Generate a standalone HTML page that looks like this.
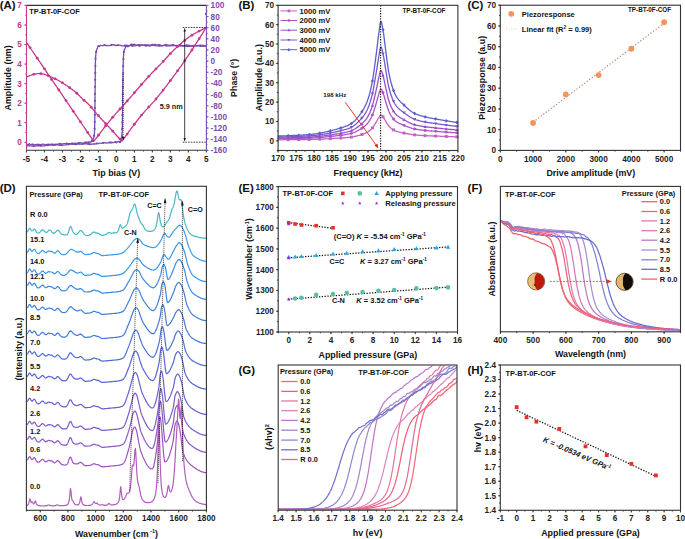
<!DOCTYPE html>
<html><head><meta charset="utf-8"><style>
html,body{margin:0;padding:0;background:#fff;width:685px;height:539px;overflow:hidden}
svg{display:block}
text{font-family:"Liberation Sans", sans-serif}
</style></head><body>
<svg width="685" height="539" viewBox="0 0 685 539" font-family="Liberation Sans, sans-serif">
<rect width="685" height="539" fill="#fff"/>
<polyline points="27,145.2 27.6,144.5 28.4,144.4 29.3,143.7 30.3,144.6 31.4,144.5 32.6,144.4 33.8,144.7 35,144.8 36.3,144.3 37.6,144.3 38.8,144.4 40,144.8 41.2,144.8 42.4,144.1 43.6,144.1 44.9,144.8 46.1,145 47.4,144.4 48.6,144.2 49.9,144.7 51.2,144.2 52.5,144.5 53.7,144.8 55,144.4 56.3,144.2 57.6,144.4 58.9,143.8 60.2,143.9 61.5,143.8 62.8,143.8 64.1,143.7 65.4,143.7 66.6,143.6 67.8,143.7 68.9,143.7 70,143.7 71,144 72,143 72.9,143.9 73.9,143.3 74.7,143 75.6,143.3 76.4,143.3 77.1,143.6 77.9,142.9 78.6,143.3 79.3,143.2 80,142.5 80.6,142.6 81.3,143.2 81.8,143.2 82.4,143.3 82.9,143.1 83.4,143 83.8,142.9 84.3,143.2 84.7,142.4 85.2,142.6 85.6,142.8 86,142 86.4,143 86.8,142.2 87.2,142.4 87.5,143.2 87.9,142.1 88.2,142.1 88.5,142.8 88.8,141.8 89.1,142 89.4,142.2 89.7,142.1 90,142.1 90.3,141.9 90.5,142.2 90.8,142 91,141.8 91.2,141.2 91.5,141.1 91.7,140.6 91.9,141.3 92.1,140.3 92.3,141.1 92.4,141.3 92.6,140 92.8,139.9 92.9,140 93.1,139.8 93.2,139.6 93.3,139.3 93.4,139.1 93.5,138.8 93.6,138.5 93.7,138.1 93.8,137.6 93.9,137.1 94,136.5 94.1,135.9 94.2,135.4 94.2,134.9 94.3,134.5 94.4,133.9 94.4,133.3 94.5,132.6 94.5,131.6 94.6,130.4 94.6,128.9 94.7,127.2 94.7,125 94.7,122.4 94.8,119.2 94.8,115.6 94.9,111.7 94.9,107.6 95,103.3 95,99 95,94.7 95.1,90.6 95.1,86.7 95.2,83.1 95.2,80 95.2,77.2 95.3,74.6 95.3,72.1 95.3,69.8 95.3,67.7 95.4,65.7 95.4,63.8 95.4,62 95.5,60.4 95.5,58.8 95.6,57.4 95.7,56 95.8,54.8 95.9,53.7 96,52.8 96.1,52 96.2,51.3 96.4,50.8 96.5,50.3 96.6,49.8 96.8,49.4 97,49 97.2,48.6 97.4,48.2 97.6,47.8 97.7,47.4 97.8,47.1 97.9,46.7 98,46.9 98.1,46.1 98.3,46.2 98.6,45.9 99,45.9 99.5,46.3 100.2,45.4 101,45.6 102,45.6 103.1,45.7 104.4,44.9 105.8,45.7 107.3,45.4 108.8,45.6 110.5,45.3 112.3,44.7 114.1,45 116,45.5 118,45.2 120,45.2 122.1,45.8 124.4,45.9 126.7,45.1 129.2,45.8 131.7,44.4 134.3,44.3 136.9,45.3 139.6,44.9 142.2,45.2 144.9,45.2 147.5,45 150,45.2 152.5,45.1 155,44.5 157.6,45.1 160.1,45.2 162.7,45.8 165.2,44.8 167.8,45.2 170.3,45.1 172.8,45.2 175.2,45.9 177.6,45.5 180,45.2 182.4,45.5 184.9,45.7 187.4,45.2 189.9,45.5 192.4,46.1 194.9,45.9 197.2,45.6 199.4,45.5 201.4,45.7 203.2,45.2 204.8,46.1 206,45.9" fill="none" stroke="#7B4BAE" stroke-width="1.3" stroke-linejoin="round" stroke-linecap="round" />
<circle cx="33.01" cy="144.55" r="1.1" fill="#7B4BAE"/>
<circle cx="39.82" cy="144.78" r="1.1" fill="#7B4BAE"/>
<circle cx="46.43" cy="144.87" r="1.1" fill="#7B4BAE"/>
<circle cx="53.02" cy="144.64" r="1.1" fill="#7B4BAE"/>
<circle cx="59.81" cy="143.92" r="1.1" fill="#7B4BAE"/>
<circle cx="66.78" cy="143.63" r="1.1" fill="#7B4BAE"/>
<circle cx="72.87" cy="143.85" r="1.1" fill="#7B4BAE"/>
<circle cx="79.03" cy="143.21" r="1.1" fill="#7B4BAE"/>
<circle cx="84.85" cy="142.5" r="1.1" fill="#7B4BAE"/>
<circle cx="88.52" cy="142.77" r="1.1" fill="#7B4BAE"/>
<circle cx="92.07" cy="140.35" r="1.1" fill="#7B4BAE"/>
<circle cx="94.1" cy="135.78" r="1.1" fill="#7B4BAE"/>
<circle cx="94.61" cy="128.8" r="1.1" fill="#7B4BAE"/>
<circle cx="94.76" cy="121.8" r="1.1" fill="#7B4BAE"/>
<circle cx="94.85" cy="114.8" r="1.1" fill="#7B4BAE"/>
<circle cx="94.92" cy="107.81" r="1.1" fill="#7B4BAE"/>
<circle cx="94.98" cy="100.81" r="1.1" fill="#7B4BAE"/>
<circle cx="95.05" cy="93.81" r="1.1" fill="#7B4BAE"/>
<circle cx="95.12" cy="86.81" r="1.1" fill="#7B4BAE"/>
<circle cx="95.2" cy="79.81" r="1.1" fill="#7B4BAE"/>
<circle cx="95.29" cy="72.81" r="1.1" fill="#7B4BAE"/>
<circle cx="95.37" cy="65.81" r="1.1" fill="#7B4BAE"/>
<circle cx="95.55" cy="58.81" r="1.1" fill="#7B4BAE"/>
<circle cx="96.14" cy="51.84" r="1.1" fill="#7B4BAE"/>
<circle cx="98.51" cy="46.01" r="1.1" fill="#7B4BAE"/>
<circle cx="104.56" cy="44.99" r="1.1" fill="#7B4BAE"/>
<circle cx="111.28" cy="45.01" r="1.1" fill="#7B4BAE"/>
<circle cx="118.1" cy="45.23" r="1.1" fill="#7B4BAE"/>
<circle cx="124.97" cy="45.71" r="1.1" fill="#7B4BAE"/>
<circle cx="131.46" cy="44.52" r="1.1" fill="#7B4BAE"/>
<circle cx="138.23" cy="45.14" r="1.1" fill="#7B4BAE"/>
<circle cx="145.19" cy="45.15" r="1.1" fill="#7B4BAE"/>
<circle cx="152.16" cy="45.09" r="1.1" fill="#7B4BAE"/>
<circle cx="159.02" cy="45.15" r="1.1" fill="#7B4BAE"/>
<circle cx="165.75" cy="44.86" r="1.1" fill="#7B4BAE"/>
<circle cx="172.72" cy="45.24" r="1.1" fill="#7B4BAE"/>
<circle cx="179.58" cy="45.28" r="1.1" fill="#7B4BAE"/>
<circle cx="186.51" cy="45.36" r="1.1" fill="#7B4BAE"/>
<circle cx="193.38" cy="46.05" r="1.1" fill="#7B4BAE"/>
<circle cx="200.35" cy="45.6" r="1.1" fill="#7B4BAE"/>
<polyline points="27,146.2 28.6,145.7 30.6,145.8 32.9,146.2 35.5,146 38.3,145.6 41.3,145.9 44.4,145.9 47.6,145.2 50.8,145.2 54,144.9 57.1,144.7 60,145.3 62.9,145.1 65.9,144.9 69.1,144.2 72.3,144.1 75.5,144.3 78.6,144 81.7,144.1 84.7,143.6 87.6,144 90.3,144.3 92.8,144 95,144 97,143.3 98.7,143.5 100.3,143 101.7,143.4 103,142.9 104.2,142.8 105.3,142.7 106.3,143.1 107.2,142.9 108.1,142.8 109.1,142.3 110,142.6 110.9,142 111.8,143 112.6,142.4 113.4,142.5 114.1,142.3 114.8,141.8 115.4,141.8 116,142.2 116.5,142.7 117,141.8 117.5,141.8 118,142 118.4,141.4 118.8,141.3 119.1,141.8 119.4,141.9 119.6,141.8 119.8,142.5 120,141.8 120.2,141.9 120.3,142.2 120.5,142 120.6,140.5 120.8,140.5 121,140.6 121.1,139.8 121.3,139.5 121.4,139.2 121.5,138.8 121.6,138.3 121.7,137.7 121.8,136.8 121.9,135.6 122,134.2 122.1,132.3 122.2,130 122.3,127.1 122.4,123.7 122.4,119.7 122.5,115.3 122.5,110.7 122.6,105.9 122.6,101.1 122.7,96.3 122.7,91.7 122.8,87.3 122.8,83.4 122.9,80 123,77 123,74.2 123.1,71.6 123.1,69.1 123.1,66.9 123.2,64.8 123.2,62.9 123.3,61.1 123.4,59.4 123.4,57.8 123.5,56.4 123.6,55 123.7,53.8 123.8,52.7 123.9,51.9 124,51.1 124.1,50.6 124.3,50.1 124.4,49.7 124.5,49.3 124.7,49 124.9,48.7 125.1,48.4 125.3,48 125.5,47.7 125.6,47.4 125.7,47.1 125.7,46.4 125.8,46.4 125.9,46.1 126.1,46 126.4,46 126.8,46.3 127.4,46.6 128.1,46.6 129,46 130.1,45.2 131.4,45.8 132.8,45.7 134.4,45.9 136.1,45.6 137.9,45 139.7,45.8 141.7,44.9 143.7,45.4 145.8,45.7 147.9,45.7 150,46.1 152.2,44.8 154.5,45.7 157,45.8 159.5,45.5 162.1,45.8 164.7,45.2 167.3,45.8 170,45.8 172.6,45.3 175.1,45.4 177.6,45.6 180,45.5 182.4,46.1 184.9,45.8 187.4,46.3 189.9,46.3 192.4,45.9 194.9,45.9 197.2,45.7 199.4,45.8 201.4,45.8 203.2,46.3 204.8,45.9 206,46.2" fill="none" stroke="#7B4BAE" stroke-width="1.3" stroke-linejoin="round" stroke-linecap="round" />
<circle cx="33.87" cy="146.11" r="1.1" fill="#7B4BAE"/>
<circle cx="40.84" cy="145.84" r="1.1" fill="#7B4BAE"/>
<circle cx="47.76" cy="145.24" r="1.1" fill="#7B4BAE"/>
<circle cx="54.75" cy="144.88" r="1.1" fill="#7B4BAE"/>
<circle cx="61.69" cy="145.15" r="1.1" fill="#7B4BAE"/>
<circle cx="68.62" cy="144.3" r="1.1" fill="#7B4BAE"/>
<circle cx="75.6" cy="144.29" r="1.1" fill="#7B4BAE"/>
<circle cx="82.58" cy="143.95" r="1.1" fill="#7B4BAE"/>
<circle cx="89.53" cy="144.18" r="1.1" fill="#7B4BAE"/>
<circle cx="96.44" cy="143.5" r="1.1" fill="#7B4BAE"/>
<circle cx="103.16" cy="142.86" r="1.1" fill="#7B4BAE"/>
<circle cx="109.84" cy="142.58" r="1.1" fill="#7B4BAE"/>
<circle cx="115.72" cy="142.05" r="1.1" fill="#7B4BAE"/>
<circle cx="120.2" cy="141.96" r="1.1" fill="#7B4BAE"/>
<circle cx="121.9" cy="136.05" r="1.1" fill="#7B4BAE"/>
<circle cx="122.23" cy="129.06" r="1.1" fill="#7B4BAE"/>
<circle cx="122.38" cy="122.06" r="1.1" fill="#7B4BAE"/>
<circle cx="122.49" cy="115.06" r="1.1" fill="#7B4BAE"/>
<circle cx="122.57" cy="108.07" r="1.1" fill="#7B4BAE"/>
<circle cx="122.64" cy="101.07" r="1.1" fill="#7B4BAE"/>
<circle cx="122.72" cy="94.07" r="1.1" fill="#7B4BAE"/>
<circle cx="122.8" cy="87.07" r="1.1" fill="#7B4BAE"/>
<circle cx="122.9" cy="80.07" r="1.1" fill="#7B4BAE"/>
<circle cx="123.02" cy="73.07" r="1.1" fill="#7B4BAE"/>
<circle cx="123.16" cy="66.07" r="1.1" fill="#7B4BAE"/>
<circle cx="123.37" cy="59.07" r="1.1" fill="#7B4BAE"/>
<circle cx="123.88" cy="52.09" r="1.1" fill="#7B4BAE"/>
<circle cx="126.45" cy="46" r="1.1" fill="#7B4BAE"/>
<circle cx="132.67" cy="45.67" r="1.1" fill="#7B4BAE"/>
<circle cx="139.42" cy="45.67" r="1.1" fill="#7B4BAE"/>
<circle cx="146.12" cy="45.73" r="1.1" fill="#7B4BAE"/>
<circle cx="152.65" cy="44.94" r="1.1" fill="#7B4BAE"/>
<circle cx="159.47" cy="45.47" r="1.1" fill="#7B4BAE"/>
<circle cx="166.34" cy="45.6" r="1.1" fill="#7B4BAE"/>
<circle cx="173.26" cy="45.33" r="1.1" fill="#7B4BAE"/>
<circle cx="180.24" cy="45.53" r="1.1" fill="#7B4BAE"/>
<circle cx="187.11" cy="46.22" r="1.1" fill="#7B4BAE"/>
<circle cx="194.09" cy="45.9" r="1.1" fill="#7B4BAE"/>
<circle cx="201.07" cy="45.81" r="1.1" fill="#7B4BAE"/>
<circle cx="205.9" cy="13.9" r="1.1" fill="#7B4BAE"/>
<polyline points="27,43.1 28.7,45.6 30.3,48 32,50.5 33.7,52.9 35.3,55.4 37,57.8 38.7,60.3 40.3,62.7 42,65.2 43.6,67.6 45.3,70.1 47,72.5 48.6,75 50.3,77.4 52,79.9 53.6,82.3 55.3,84.8 57,87.2 58.6,89.7 60.3,92.2 62,94.6 63.6,97.1 65.3,99.5 67,102 68.6,104.4 70.3,106.9 72,109.3 73.6,111.8 75.3,114.2 76.9,116.7 78.6,119.1 80.3,121.6 81.9,124 83.6,126.5 85.3,128.9 86.9,131.4 88.6,133.8 90.3,136.3 91.9,138.7 93.6,141.2" fill="none" stroke="#C6388E" stroke-width="1.3" stroke-linejoin="round" stroke-linecap="round" />
<circle cx="30.05" cy="47.59" r="1.4" fill="#C6388E"/>
<circle cx="37.24" cy="58.19" r="1.4" fill="#C6388E"/>
<circle cx="44.44" cy="68.79" r="1.4" fill="#C6388E"/>
<circle cx="51.64" cy="79.39" r="1.4" fill="#C6388E"/>
<circle cx="58.83" cy="89.99" r="1.4" fill="#C6388E"/>
<circle cx="66.03" cy="100.59" r="1.4" fill="#C6388E"/>
<circle cx="73.22" cy="111.19" r="1.4" fill="#C6388E"/>
<circle cx="80.42" cy="121.79" r="1.4" fill="#C6388E"/>
<circle cx="87.62" cy="132.39" r="1.4" fill="#C6388E"/>
<polyline points="93.8,141.3 94.6,140.3 95.5,139.1 96.6,137.6 97.9,136 99.2,134.2 100.6,132.3 102.2,130.4 103.7,128.4 105.3,126.3 106.9,124.3 108.5,122.4 110,120.5 111.5,118.7 113.2,116.8 114.8,114.9 116.5,112.9 118.2,111 120,109.1 121.7,107.1 123.4,105.2 125.2,103.3 126.9,101.4 128.5,99.5 130.1,97.7 131.7,95.9 133.2,94.1 134.8,92.3 136.3,90.5 137.8,88.8 139.3,87 140.8,85.3 142.2,83.7 143.6,82.1 145,80.5 146.3,79 147.6,77.6 148.8,76.3 150,75.1 151,73.9 152.1,72.8 153.1,71.8 154.1,70.8 155,69.9 156,68.9 157,67.9 158,66.8 159.1,65.8 160.2,64.6 161.4,63.4 162.6,62.1 163.8,60.8 165,59.4 166.3,58 167.5,56.7 168.8,55.3 170.1,53.9 171.4,52.6 172.7,51.3 173.9,50 175.2,48.8 176.4,47.6 177.7,46.5 178.9,45.4 180.2,44.3 181.4,43.2 182.6,42.1 183.9,41.1 185.1,40.1 186.4,39.1 187.6,38.1 188.9,37.2 190.2,36.3 191.6,35.4 193,34.5 194.5,33.6 196.1,32.7 197.6,31.9 199.2,31.1 200.7,30.3 202.1,29.6 203.4,28.9 204.5,28.3 205.5,27.8 206.3,27.4" fill="none" stroke="#C6388E" stroke-width="1.3" stroke-linejoin="round" stroke-linecap="round" />
<circle cx="98.41" cy="135.25" r="1.4" fill="#C6388E"/>
<circle cx="105.61" cy="125.94" r="1.4" fill="#C6388E"/>
<circle cx="112.8" cy="117.2" r="1.4" fill="#C6388E"/>
<circle cx="120" cy="109.02" r="1.4" fill="#C6388E"/>
<circle cx="127.19" cy="100.99" r="1.4" fill="#C6388E"/>
<circle cx="134.39" cy="92.76" r="1.4" fill="#C6388E"/>
<circle cx="141.59" cy="84.41" r="1.4" fill="#C6388E"/>
<circle cx="148.78" cy="76.31" r="1.4" fill="#C6388E"/>
<circle cx="155.98" cy="68.9" r="1.4" fill="#C6388E"/>
<circle cx="163.17" cy="61.43" r="1.4" fill="#C6388E"/>
<circle cx="170.37" cy="53.65" r="1.4" fill="#C6388E"/>
<circle cx="177.57" cy="46.6" r="1.4" fill="#C6388E"/>
<circle cx="184.76" cy="40.37" r="1.4" fill="#C6388E"/>
<circle cx="191.96" cy="35.15" r="1.4" fill="#C6388E"/>
<circle cx="199.15" cy="31.09" r="1.4" fill="#C6388E"/>
<polyline points="27.3,76.7 27.6,76.6 28.1,76.4 28.6,76.2 29.1,76 29.7,75.7 30.4,75.5 31.1,75.2 31.7,75 32.4,74.7 33.1,74.5 33.7,74.3 34.3,74.2 34.9,74.1 35.4,74 36,73.9 36.6,73.8 37.1,73.7 37.7,73.7 38.2,73.7 38.8,73.6 39.3,73.6 39.9,73.6 40.4,73.7 41,73.7 41.6,73.8 42.1,73.8 42.7,73.9 43.2,74.1 43.8,74.2 44.4,74.3 44.9,74.5 45.5,74.7 46,74.8 46.6,75 47.1,75.2 47.7,75.4 48.3,75.6 48.8,75.8 49.4,76 49.9,76.3 50.5,76.5 51,76.8 51.6,77 52.1,77.3 52.7,77.5 53.2,77.8 53.8,78.1 54.4,78.4 55,78.7 55.6,79 56.2,79.3 56.8,79.7 57.5,80 58.1,80.3 58.7,80.7 59.4,81 60,81.4 60.6,81.8 61.3,82.1 61.9,82.5 62.5,82.9 63.2,83.3 63.8,83.7 64.4,84.1 65.1,84.5 65.7,84.9 66.3,85.4 67,85.8 67.6,86.2 68.2,86.7 68.8,87.1 69.4,87.5 70,87.9 70.6,88.3 71.1,88.7 71.7,89.1 72.2,89.5 72.8,90 73.3,90.4 73.9,90.8 74.4,91.2 75,91.7 75.5,92.1 76.1,92.6 76.7,93.1 77.2,93.6 77.8,94.2 78.3,94.7 78.9,95.3 79.5,95.8 80,96.4 80.6,97 81.1,97.6 81.7,98.1 82.2,98.7 82.8,99.2 83.4,99.7 83.9,100.2 84.5,100.7 85,101.1 85.6,101.6 86.1,102.1 86.6,102.5 87.2,103 87.7,103.5 88.3,104 88.8,104.5 89.4,105.1 90,105.7 90.5,106.3 91,106.9 91.6,107.6 92.1,108.3 92.7,108.9 93.2,109.6 93.8,110.3 94.4,111 94.9,111.7 95.5,112.4 96.1,113.1 96.7,113.8 97.3,114.5 97.9,115.2 98.5,115.9 99.2,116.6 99.8,117.3 100.4,118 101.1,118.7 101.7,119.3 102.3,120 103,120.7 103.6,121.4 104.2,122.1 104.9,122.7 105.5,123.4 106.1,124.1 106.8,124.7 107.4,125.4 108,126.1 108.7,126.7 109.3,127.4 109.9,128 110.5,128.7 111.1,129.3 111.7,130 112.3,130.6 112.9,131.3 113.5,132 114.1,132.6 114.7,133.3 115.2,134 115.8,134.6 116.3,135.2 116.8,135.8 117.3,136.3 117.8,136.8 118.3,137.3 118.7,137.7 119.1,138.1 119.5,138.5 119.9,138.9 120.3,139.2 120.7,139.5 121,139.8 121.3,140.1 121.6,140.3 121.8,140.5 122,140.7" fill="none" stroke="#C6388E" stroke-width="1.3" stroke-linejoin="round" stroke-linecap="round" />
<circle cx="33.65" cy="74.36" r="1.4" fill="#C6388E"/>
<circle cx="40.84" cy="73.69" r="1.4" fill="#C6388E"/>
<circle cx="48.04" cy="75.52" r="1.4" fill="#C6388E"/>
<circle cx="55.23" cy="78.82" r="1.4" fill="#C6388E"/>
<circle cx="62.43" cy="82.83" r="1.4" fill="#C6388E"/>
<circle cx="69.63" cy="87.66" r="1.4" fill="#C6388E"/>
<circle cx="76.82" cy="93.25" r="1.4" fill="#C6388E"/>
<circle cx="84.02" cy="100.3" r="1.4" fill="#C6388E"/>
<circle cx="91.21" cy="107.14" r="1.4" fill="#C6388E"/>
<circle cx="98.41" cy="115.71" r="1.4" fill="#C6388E"/>
<circle cx="105.61" cy="123.53" r="1.4" fill="#C6388E"/>
<circle cx="112.8" cy="131.19" r="1.4" fill="#C6388E"/>
<circle cx="120" cy="138.93" r="1.4" fill="#C6388E"/>
<polyline points="122.2,140.9 123.1,139.7 124.1,138.3 125.3,136.6 126.7,134.7 128.2,132.6 129.8,130.4 131.5,128.1 133.2,125.8 135,123.5 136.7,121.2 138.4,119 140,117 141.6,115.1 143.2,113.2 144.8,111.4 146.4,109.6 148,107.9 149.7,106.1 151.3,104.2 153,102.4 154.8,100.4 156.5,98.4 158.3,96.2 160.2,93.9 162.1,91.5 164.1,88.9 166.2,86.2 168.3,83.4 170.5,80.5 172.6,77.6 174.8,74.6 177,71.7 179.1,68.7 181.2,65.8 183.2,62.9 185.2,60.1 187.2,57.2 189.2,54.2 191.2,51.1 193.3,47.9 195.3,44.7 197.3,41.6 199.2,38.7 201,35.8 202.6,33.3 204,30.9 205.3,29 206.3,27.4" fill="none" stroke="#C6388E" stroke-width="1.3" stroke-linejoin="round" stroke-linecap="round" />
<circle cx="127.19" cy="134.03" r="1.4" fill="#C6388E"/>
<circle cx="134.39" cy="124.24" r="1.4" fill="#C6388E"/>
<circle cx="141.59" cy="115.08" r="1.4" fill="#C6388E"/>
<circle cx="148.78" cy="107.01" r="1.4" fill="#C6388E"/>
<circle cx="155.98" cy="99" r="1.4" fill="#C6388E"/>
<circle cx="163.17" cy="90.11" r="1.4" fill="#C6388E"/>
<circle cx="170.37" cy="80.66" r="1.4" fill="#C6388E"/>
<circle cx="177.57" cy="70.87" r="1.4" fill="#C6388E"/>
<circle cx="184.76" cy="60.73" r="1.4" fill="#C6388E"/>
<circle cx="191.96" cy="49.98" r="1.4" fill="#C6388E"/>
<circle cx="199.15" cy="38.73" r="1.4" fill="#C6388E"/>
<line x1="123.1" y1="74" x2="123.1" y2="137.5" stroke="#111" stroke-width="0.8" stroke-dasharray="1,1"/>
<path d="M121.9,137 L124.3,137 L123.1,140.6 Z" fill="#111"/>
<line x1="182.7" y1="27.5" x2="206.3" y2="27.5" stroke="#111" stroke-width="0.8" stroke-dasharray="1.6,1.1"/>
<line x1="182.7" y1="142.2" x2="206.3" y2="142.2" stroke="#111" stroke-width="0.8" stroke-dasharray="1.6,1.1"/>
<line x1="184.7" y1="31" x2="184.7" y2="138.5" stroke="#111" stroke-width="0.8" />
<path d="M183.5,31.5 L185.9,31.5 L184.7,27.8 Z" fill="#111"/>
<path d="M183.5,138 L185.9,138 L184.7,141.8 Z" fill="#111"/>
<text x="171.2" y="109.03" font-size="7.3" text-anchor="middle" fill="#222" font-weight="bold" >5.9 nm</text>
<line x1="26.5" y1="5.4" x2="206.4" y2="5.4" stroke="#333" stroke-width="1.1" />
<line x1="26.5" y1="150.3" x2="206.4" y2="150.3" stroke="#333" stroke-width="1.1" />
<line x1="26.5" y1="5.4" x2="26.5" y2="150.3" stroke="#C6388E" stroke-width="1.1" />
<line x1="206.4" y1="5.4" x2="206.4" y2="150.3" stroke="#7B4BAE" stroke-width="1.1" />
<line x1="26.45" y1="150.3" x2="26.45" y2="151.6" stroke="#333" stroke-width="0.9" />
<line x1="35.45" y1="150.3" x2="35.45" y2="151.6" stroke="#333" stroke-width="0.9" />
<line x1="44.44" y1="150.3" x2="44.44" y2="151.6" stroke="#333" stroke-width="0.9" />
<line x1="53.44" y1="150.3" x2="53.44" y2="151.6" stroke="#333" stroke-width="0.9" />
<line x1="62.43" y1="150.3" x2="62.43" y2="151.6" stroke="#333" stroke-width="0.9" />
<line x1="71.43" y1="150.3" x2="71.43" y2="151.6" stroke="#333" stroke-width="0.9" />
<line x1="80.42" y1="150.3" x2="80.42" y2="151.6" stroke="#333" stroke-width="0.9" />
<line x1="89.42" y1="150.3" x2="89.42" y2="151.6" stroke="#333" stroke-width="0.9" />
<line x1="98.41" y1="150.3" x2="98.41" y2="151.6" stroke="#333" stroke-width="0.9" />
<line x1="107.41" y1="150.3" x2="107.41" y2="151.6" stroke="#333" stroke-width="0.9" />
<line x1="116.4" y1="150.3" x2="116.4" y2="151.6" stroke="#333" stroke-width="0.9" />
<line x1="125.4" y1="150.3" x2="125.4" y2="151.6" stroke="#333" stroke-width="0.9" />
<line x1="134.39" y1="150.3" x2="134.39" y2="151.6" stroke="#333" stroke-width="0.9" />
<line x1="143.38" y1="150.3" x2="143.38" y2="151.6" stroke="#333" stroke-width="0.9" />
<line x1="152.38" y1="150.3" x2="152.38" y2="151.6" stroke="#333" stroke-width="0.9" />
<line x1="161.38" y1="150.3" x2="161.38" y2="151.6" stroke="#333" stroke-width="0.9" />
<line x1="170.37" y1="150.3" x2="170.37" y2="151.6" stroke="#333" stroke-width="0.9" />
<line x1="179.37" y1="150.3" x2="179.37" y2="151.6" stroke="#333" stroke-width="0.9" />
<line x1="188.36" y1="150.3" x2="188.36" y2="151.6" stroke="#333" stroke-width="0.9" />
<line x1="197.36" y1="150.3" x2="197.36" y2="151.6" stroke="#333" stroke-width="0.9" />
<line x1="206.35" y1="150.3" x2="206.35" y2="151.6" stroke="#333" stroke-width="0.9" />
<line x1="26.45" y1="150.3" x2="26.45" y2="152.5" stroke="#333" stroke-width="0.9" />
<text x="26.45" y="161.55" font-size="8.2" text-anchor="middle" fill="#222" font-weight="bold" >-5</text>
<line x1="44.44" y1="150.3" x2="44.44" y2="152.5" stroke="#333" stroke-width="0.9" />
<text x="44.44" y="161.55" font-size="8.2" text-anchor="middle" fill="#222" font-weight="bold" >-4</text>
<line x1="62.43" y1="150.3" x2="62.43" y2="152.5" stroke="#333" stroke-width="0.9" />
<text x="62.43" y="161.55" font-size="8.2" text-anchor="middle" fill="#222" font-weight="bold" >-3</text>
<line x1="80.42" y1="150.3" x2="80.42" y2="152.5" stroke="#333" stroke-width="0.9" />
<text x="80.42" y="161.55" font-size="8.2" text-anchor="middle" fill="#222" font-weight="bold" >-2</text>
<line x1="98.41" y1="150.3" x2="98.41" y2="152.5" stroke="#333" stroke-width="0.9" />
<text x="98.41" y="161.55" font-size="8.2" text-anchor="middle" fill="#222" font-weight="bold" >-1</text>
<line x1="116.4" y1="150.3" x2="116.4" y2="152.5" stroke="#333" stroke-width="0.9" />
<text x="116.4" y="161.55" font-size="8.2" text-anchor="middle" fill="#222" font-weight="bold" >0</text>
<line x1="134.39" y1="150.3" x2="134.39" y2="152.5" stroke="#333" stroke-width="0.9" />
<text x="134.39" y="161.55" font-size="8.2" text-anchor="middle" fill="#222" font-weight="bold" >1</text>
<line x1="152.38" y1="150.3" x2="152.38" y2="152.5" stroke="#333" stroke-width="0.9" />
<text x="152.38" y="161.55" font-size="8.2" text-anchor="middle" fill="#222" font-weight="bold" >2</text>
<line x1="170.37" y1="150.3" x2="170.37" y2="152.5" stroke="#333" stroke-width="0.9" />
<text x="170.37" y="161.55" font-size="8.2" text-anchor="middle" fill="#222" font-weight="bold" >3</text>
<line x1="188.36" y1="150.3" x2="188.36" y2="152.5" stroke="#333" stroke-width="0.9" />
<text x="188.36" y="161.55" font-size="8.2" text-anchor="middle" fill="#222" font-weight="bold" >4</text>
<line x1="206.35" y1="150.3" x2="206.35" y2="152.5" stroke="#333" stroke-width="0.9" />
<text x="206.35" y="161.55" font-size="8.2" text-anchor="middle" fill="#222" font-weight="bold" >5</text>
<line x1="26.5" y1="142.3" x2="25.2" y2="142.3" stroke="#C6388E" stroke-width="0.9" />
<line x1="26.5" y1="132.52" x2="25.2" y2="132.52" stroke="#C6388E" stroke-width="0.9" />
<line x1="26.5" y1="122.74" x2="25.2" y2="122.74" stroke="#C6388E" stroke-width="0.9" />
<line x1="26.5" y1="112.96" x2="25.2" y2="112.96" stroke="#C6388E" stroke-width="0.9" />
<line x1="26.5" y1="103.19" x2="25.2" y2="103.19" stroke="#C6388E" stroke-width="0.9" />
<line x1="26.5" y1="93.41" x2="25.2" y2="93.41" stroke="#C6388E" stroke-width="0.9" />
<line x1="26.5" y1="83.63" x2="25.2" y2="83.63" stroke="#C6388E" stroke-width="0.9" />
<line x1="26.5" y1="73.85" x2="25.2" y2="73.85" stroke="#C6388E" stroke-width="0.9" />
<line x1="26.5" y1="64.07" x2="25.2" y2="64.07" stroke="#C6388E" stroke-width="0.9" />
<line x1="26.5" y1="54.29" x2="25.2" y2="54.29" stroke="#C6388E" stroke-width="0.9" />
<line x1="26.5" y1="44.52" x2="25.2" y2="44.52" stroke="#C6388E" stroke-width="0.9" />
<line x1="26.5" y1="34.74" x2="25.2" y2="34.74" stroke="#C6388E" stroke-width="0.9" />
<line x1="26.5" y1="24.96" x2="25.2" y2="24.96" stroke="#C6388E" stroke-width="0.9" />
<line x1="26.5" y1="15.18" x2="25.2" y2="15.18" stroke="#C6388E" stroke-width="0.9" />
<line x1="26.5" y1="5.4" x2="25.2" y2="5.4" stroke="#C6388E" stroke-width="0.9" />
<line x1="26.5" y1="142.3" x2="24.3" y2="142.3" stroke="#C6388E" stroke-width="0.9" />
<text x="21.8" y="145.25" font-size="8.2" text-anchor="end" fill="#C6388E" font-weight="bold" >0</text>
<line x1="26.5" y1="122.74" x2="24.3" y2="122.74" stroke="#C6388E" stroke-width="0.9" />
<text x="21.8" y="125.7" font-size="8.2" text-anchor="end" fill="#C6388E" font-weight="bold" >1</text>
<line x1="26.5" y1="103.19" x2="24.3" y2="103.19" stroke="#C6388E" stroke-width="0.9" />
<text x="21.8" y="106.14" font-size="8.2" text-anchor="end" fill="#C6388E" font-weight="bold" >2</text>
<line x1="26.5" y1="83.63" x2="24.3" y2="83.63" stroke="#C6388E" stroke-width="0.9" />
<text x="21.8" y="86.58" font-size="8.2" text-anchor="end" fill="#C6388E" font-weight="bold" >3</text>
<line x1="26.5" y1="64.07" x2="24.3" y2="64.07" stroke="#C6388E" stroke-width="0.9" />
<text x="21.8" y="67.02" font-size="8.2" text-anchor="end" fill="#C6388E" font-weight="bold" >4</text>
<line x1="26.5" y1="44.52" x2="24.3" y2="44.52" stroke="#C6388E" stroke-width="0.9" />
<text x="21.8" y="47.47" font-size="8.2" text-anchor="end" fill="#C6388E" font-weight="bold" >5</text>
<line x1="26.5" y1="24.96" x2="24.3" y2="24.96" stroke="#C6388E" stroke-width="0.9" />
<text x="21.8" y="27.91" font-size="8.2" text-anchor="end" fill="#C6388E" font-weight="bold" >6</text>
<line x1="26.5" y1="5.4" x2="24.3" y2="5.4" stroke="#C6388E" stroke-width="0.9" />
<text x="21.8" y="8.35" font-size="8.2" text-anchor="end" fill="#C6388E" font-weight="bold" >7</text>
<line x1="206.4" y1="150.3" x2="207.7" y2="150.3" stroke="#7B4BAE" stroke-width="0.9" />
<line x1="206.4" y1="144.73" x2="207.7" y2="144.73" stroke="#7B4BAE" stroke-width="0.9" />
<line x1="206.4" y1="139.15" x2="207.7" y2="139.15" stroke="#7B4BAE" stroke-width="0.9" />
<line x1="206.4" y1="133.58" x2="207.7" y2="133.58" stroke="#7B4BAE" stroke-width="0.9" />
<line x1="206.4" y1="128.01" x2="207.7" y2="128.01" stroke="#7B4BAE" stroke-width="0.9" />
<line x1="206.4" y1="122.43" x2="207.7" y2="122.43" stroke="#7B4BAE" stroke-width="0.9" />
<line x1="206.4" y1="116.86" x2="207.7" y2="116.86" stroke="#7B4BAE" stroke-width="0.9" />
<line x1="206.4" y1="111.29" x2="207.7" y2="111.29" stroke="#7B4BAE" stroke-width="0.9" />
<line x1="206.4" y1="105.72" x2="207.7" y2="105.72" stroke="#7B4BAE" stroke-width="0.9" />
<line x1="206.4" y1="100.14" x2="207.7" y2="100.14" stroke="#7B4BAE" stroke-width="0.9" />
<line x1="206.4" y1="94.57" x2="207.7" y2="94.57" stroke="#7B4BAE" stroke-width="0.9" />
<line x1="206.4" y1="89" x2="207.7" y2="89" stroke="#7B4BAE" stroke-width="0.9" />
<line x1="206.4" y1="83.42" x2="207.7" y2="83.42" stroke="#7B4BAE" stroke-width="0.9" />
<line x1="206.4" y1="77.85" x2="207.7" y2="77.85" stroke="#7B4BAE" stroke-width="0.9" />
<line x1="206.4" y1="72.28" x2="207.7" y2="72.28" stroke="#7B4BAE" stroke-width="0.9" />
<line x1="206.4" y1="66.7" x2="207.7" y2="66.7" stroke="#7B4BAE" stroke-width="0.9" />
<line x1="206.4" y1="61.13" x2="207.7" y2="61.13" stroke="#7B4BAE" stroke-width="0.9" />
<line x1="206.4" y1="55.56" x2="207.7" y2="55.56" stroke="#7B4BAE" stroke-width="0.9" />
<line x1="206.4" y1="49.98" x2="207.7" y2="49.98" stroke="#7B4BAE" stroke-width="0.9" />
<line x1="206.4" y1="44.41" x2="207.7" y2="44.41" stroke="#7B4BAE" stroke-width="0.9" />
<line x1="206.4" y1="38.84" x2="207.7" y2="38.84" stroke="#7B4BAE" stroke-width="0.9" />
<line x1="206.4" y1="33.27" x2="207.7" y2="33.27" stroke="#7B4BAE" stroke-width="0.9" />
<line x1="206.4" y1="27.69" x2="207.7" y2="27.69" stroke="#7B4BAE" stroke-width="0.9" />
<line x1="206.4" y1="22.12" x2="207.7" y2="22.12" stroke="#7B4BAE" stroke-width="0.9" />
<line x1="206.4" y1="16.55" x2="207.7" y2="16.55" stroke="#7B4BAE" stroke-width="0.9" />
<line x1="206.4" y1="10.97" x2="207.7" y2="10.97" stroke="#7B4BAE" stroke-width="0.9" />
<line x1="206.4" y1="5.4" x2="207.7" y2="5.4" stroke="#7B4BAE" stroke-width="0.9" />
<line x1="206.4" y1="150.3" x2="208.6" y2="150.3" stroke="#7B4BAE" stroke-width="0.9" />
<text x="210.6" y="153.25" font-size="8.2" text-anchor="start" fill="#7B4BAE" font-weight="bold" >-160</text>
<line x1="206.4" y1="139.15" x2="208.6" y2="139.15" stroke="#7B4BAE" stroke-width="0.9" />
<text x="210.6" y="142.11" font-size="8.2" text-anchor="start" fill="#7B4BAE" font-weight="bold" >-140</text>
<line x1="206.4" y1="128.01" x2="208.6" y2="128.01" stroke="#7B4BAE" stroke-width="0.9" />
<text x="210.6" y="130.96" font-size="8.2" text-anchor="start" fill="#7B4BAE" font-weight="bold" >-120</text>
<line x1="206.4" y1="116.86" x2="208.6" y2="116.86" stroke="#7B4BAE" stroke-width="0.9" />
<text x="210.6" y="119.81" font-size="8.2" text-anchor="start" fill="#7B4BAE" font-weight="bold" >-100</text>
<line x1="206.4" y1="105.72" x2="208.6" y2="105.72" stroke="#7B4BAE" stroke-width="0.9" />
<text x="210.6" y="108.67" font-size="8.2" text-anchor="start" fill="#7B4BAE" font-weight="bold" >-80</text>
<line x1="206.4" y1="94.57" x2="208.6" y2="94.57" stroke="#7B4BAE" stroke-width="0.9" />
<text x="210.6" y="97.52" font-size="8.2" text-anchor="start" fill="#7B4BAE" font-weight="bold" >-60</text>
<line x1="206.4" y1="83.42" x2="208.6" y2="83.42" stroke="#7B4BAE" stroke-width="0.9" />
<text x="210.6" y="86.38" font-size="8.2" text-anchor="start" fill="#7B4BAE" font-weight="bold" >-40</text>
<line x1="206.4" y1="72.28" x2="208.6" y2="72.28" stroke="#7B4BAE" stroke-width="0.9" />
<text x="210.6" y="75.23" font-size="8.2" text-anchor="start" fill="#7B4BAE" font-weight="bold" >-20</text>
<line x1="206.4" y1="61.13" x2="208.6" y2="61.13" stroke="#7B4BAE" stroke-width="0.9" />
<text x="210.6" y="64.08" font-size="8.2" text-anchor="start" fill="#7B4BAE" font-weight="bold" >0</text>
<line x1="206.4" y1="49.98" x2="208.6" y2="49.98" stroke="#7B4BAE" stroke-width="0.9" />
<text x="210.6" y="52.94" font-size="8.2" text-anchor="start" fill="#7B4BAE" font-weight="bold" >20</text>
<line x1="206.4" y1="38.84" x2="208.6" y2="38.84" stroke="#7B4BAE" stroke-width="0.9" />
<text x="210.6" y="41.79" font-size="8.2" text-anchor="start" fill="#7B4BAE" font-weight="bold" >40</text>
<line x1="206.4" y1="27.69" x2="208.6" y2="27.69" stroke="#7B4BAE" stroke-width="0.9" />
<text x="210.6" y="30.64" font-size="8.2" text-anchor="start" fill="#7B4BAE" font-weight="bold" >60</text>
<line x1="206.4" y1="16.55" x2="208.6" y2="16.55" stroke="#7B4BAE" stroke-width="0.9" />
<text x="210.6" y="19.5" font-size="8.2" text-anchor="start" fill="#7B4BAE" font-weight="bold" >80</text>
<line x1="206.4" y1="5.4" x2="208.6" y2="5.4" stroke="#7B4BAE" stroke-width="0.9" />
<text x="210.6" y="8.35" font-size="8.2" text-anchor="start" fill="#7B4BAE" font-weight="bold" >100</text>
<text x="-0.3" y="8.9" font-size="11.5" text-anchor="start" fill="#111" font-weight="bold" >(A)</text>
<text x="29.2" y="14.26" font-size="7.4" text-anchor="start" fill="#111" font-weight="bold" >TP-BT-0F-COF</text>
<text x="116.4" y="176.2" font-size="8.9" text-anchor="middle" fill="#111" font-weight="bold" >Tip bias (V)</text>
<text transform="translate(7.6,77.9) rotate(-90)" x="0" y="3.2" font-size="8.9" text-anchor="middle" fill="#111" font-weight="bold" >Amplitude (nm)</text>
<text transform="translate(234,77.9) rotate(-90)" x="0" y="3.2" font-size="8.9" text-anchor="middle" fill="#111" font-weight="bold" >Phase (°)</text>
<polyline points="278.1,139.8 278.8,139.8 279.5,139.8 280.2,139.8 280.9,139.8 281.6,139.8 282.3,139.8 283,139.8 283.7,139.7 284.3,139.7 285,139.7 285.7,139.7 286.4,139.7 287.1,139.7 287.8,139.7 288.5,139.7 289.2,139.7 289.9,139.7 290.6,139.7 291.3,139.7 292,139.7 292.7,139.7 293.4,139.7 294.1,139.7 294.8,139.7 295.5,139.7 296.1,139.6 296.8,139.6 297.5,139.6 298.2,139.6 298.9,139.6 299.6,139.6 300.3,139.6 301,139.6 301.7,139.6 302.4,139.6 303.1,139.6 303.8,139.5 304.5,139.5 305.2,139.5 305.9,139.5 306.6,139.5 307.3,139.5 308,139.5 308.6,139.5 309.3,139.5 310,139.4 310.7,139.4 311.4,139.4 312.1,139.4 312.8,139.4 313.5,139.4 314.2,139.3 314.9,139.3 315.6,139.3 316.3,139.3 317,139.3 317.7,139.2 318.4,139.2 319.1,139.2 319.8,139.2 320.4,139.1 321.1,139.1 321.8,139.1 322.5,139 323.2,139 323.9,139 324.6,138.9 325.3,138.9 326,138.9 326.7,138.8 327.4,138.8 328.1,138.8 328.8,138.7 329.5,138.7 330.2,138.7 330.9,138.6 331.6,138.6 332.2,138.6 332.9,138.5 333.6,138.5 334.3,138.4 335,138.4 335.7,138.4 336.4,138.3 337.1,138.3 337.8,138.2 338.5,138.2 339.2,138.1 339.9,138.1 340.6,138 341.3,138 342,137.9 342.7,137.9 343.4,137.9 344,137.8 344.7,137.7 345.4,137.7 346.1,137.6 346.8,137.6 347.5,137.5 348.2,137.4 348.9,137.4 349.6,137.3 350.3,137.2 351,137.1 351.7,137 352.4,136.9 353.1,136.8 353.8,136.7 354.5,136.5 355.2,136.4 355.9,136.2 356.5,136.1 357.2,135.9 357.9,135.7 358.6,135.5 359.3,135.3 360,135.1 360.7,134.9 361.4,134.7 362.1,134.5 362.8,134.2 363.5,134 364.2,133.7 364.9,133.4 365.6,133.1 366.3,132.7 367,132.4 367.7,132 368.3,131.6 369,131.1 369.7,130.6 370.4,130 371.1,129.3 371.8,128.6 372.5,127.8 373.2,126.9 373.9,125.8 374.6,124.7 375.3,123.6 376,122.4 376.7,121.2 377.4,120 378.1,118.7 378.8,117.6 379.5,116.5 380.1,115.4 380.8,114.9 381.5,115.1 382.2,115.8 382.9,116.7 383.6,117.6 384.3,118.8 385,120 385.7,121.2 386.4,122.4 387.1,123.6 387.8,124.7 388.5,125.7 389.2,126.5 389.9,127.2 390.6,127.8 391.3,128.4 392,128.9 392.6,129.4 393.3,129.8 394,130.2 394.7,130.5 395.4,130.9 396.1,131.1 396.8,131.4 397.5,131.6 398.2,131.8 398.9,132 399.6,132.2 400.3,132.3 401,132.5 401.7,132.6 402.4,132.7 403.1,132.9 403.8,133 404.4,133.2 405.1,133.3 405.8,133.4 406.5,133.6 407.2,133.7 407.9,133.9 408.6,134 409.3,134.1 410,134.2 410.7,134.4 411.4,134.5 412.1,134.6 412.8,134.7 413.5,134.8 414.2,134.8 414.9,134.9 415.6,135 416.2,135 416.9,135.1 417.6,135.1 418.3,135.2 419,135.3 419.7,135.3 420.4,135.4 421.1,135.4 421.8,135.4 422.5,135.5 423.2,135.5 423.9,135.6 424.6,135.6 425.3,135.6 426,135.7 426.7,135.7 427.4,135.7 428,135.8 428.7,135.8 429.4,135.8 430.1,135.9 430.8,135.9 431.5,135.9 432.2,135.9 432.9,136 433.6,136 434.3,136 435,136.1 435.7,136.1 436.4,136.1 437.1,136.1 437.8,136.2 438.5,136.2 439.2,136.2 439.9,136.2 440.5,136.3 441.2,136.3 441.9,136.3 442.6,136.3 443.3,136.4 444,136.4 444.7,136.4 445.4,136.4 446.1,136.5 446.8,136.5 447.5,136.5 448.2,136.5 448.9,136.6 449.6,136.6 450.3,136.6 451,136.6 451.7,136.7 452.3,136.7 453,136.7 453.7,136.7 454.4,136.8 455.1,136.8 455.8,136.8 456.5,136.8 457.2,136.9 457.9,136.9" fill="none" stroke="#C262C2" stroke-width="1.3" stroke-linejoin="round" stroke-linecap="round" />
<polyline points="278.1,138.7 278.8,138.7 279.5,138.7 280.2,138.7 280.9,138.7 281.6,138.7 282.3,138.7 283,138.7 283.7,138.7 284.3,138.7 285,138.7 285.7,138.6 286.4,138.6 287.1,138.6 287.8,138.6 288.5,138.6 289.2,138.6 289.9,138.6 290.6,138.6 291.3,138.6 292,138.5 292.7,138.5 293.4,138.5 294.1,138.5 294.8,138.5 295.5,138.5 296.1,138.5 296.8,138.5 297.5,138.4 298.2,138.4 298.9,138.4 299.6,138.4 300.3,138.4 301,138.4 301.7,138.3 302.4,138.3 303.1,138.3 303.8,138.3 304.5,138.3 305.2,138.2 305.9,138.2 306.6,138.2 307.3,138.2 308,138.1 308.6,138.1 309.3,138.1 310,138.1 310.7,138 311.4,138 312.1,138 312.8,137.9 313.5,137.9 314.2,137.9 314.9,137.8 315.6,137.8 316.3,137.8 317,137.7 317.7,137.7 318.4,137.6 319.1,137.6 319.8,137.5 320.4,137.4 321.1,137.4 321.8,137.3 322.5,137.3 323.2,137.2 323.9,137.1 324.6,137.1 325.3,137 326,136.9 326.7,136.9 327.4,136.8 328.1,136.7 328.8,136.6 329.5,136.6 330.2,136.5 330.9,136.4 331.6,136.4 332.2,136.3 332.9,136.2 333.6,136.1 334.3,136.1 335,136 335.7,135.9 336.4,135.8 337.1,135.7 337.8,135.6 338.5,135.5 339.2,135.5 339.9,135.4 340.6,135.3 341.3,135.2 342,135.1 342.7,135 343.4,134.9 344,134.8 344.7,134.7 345.4,134.6 346.1,134.5 346.8,134.3 347.5,134.2 348.2,134.1 348.9,133.9 349.6,133.8 350.3,133.6 351,133.5 351.7,133.3 352.4,133 353.1,132.8 353.8,132.5 354.5,132.3 355.2,132 355.9,131.6 356.5,131.3 357.2,130.9 357.9,130.6 358.6,130.2 359.3,129.8 360,129.4 360.7,129 361.4,128.5 362.1,128.1 362.8,127.6 363.5,127.1 364.2,126.6 364.9,126 365.6,125.4 366.3,124.7 367,124 367.7,123.2 368.3,122.3 369,121.4 369.7,120.3 370.4,119.1 371.1,117.8 371.8,116.3 372.5,114.7 373.2,112.9 373.9,110.8 374.6,108.6 375.3,106.3 376,104 376.7,101.6 377.4,99.1 378.1,96.6 378.8,94.3 379.5,92.1 380.1,90 380.8,89 381.5,89.4 382.2,90.8 382.9,92.5 383.6,94.4 384.3,96.7 385,99.2 385.7,101.6 386.4,104 387.1,106.3 387.8,108.5 388.5,110.5 389.2,112.1 389.9,113.5 390.6,114.8 391.3,116 392,117 392.6,117.9 393.3,118.7 394,119.5 394.7,120.2 395.4,120.9 396.1,121.5 396.8,122 397.5,122.4 398.2,122.8 398.9,123.1 399.6,123.5 400.3,123.8 401,124.1 401.7,124.4 402.4,124.7 403.1,124.9 403.8,125.2 404.4,125.5 405.1,125.8 405.8,126.1 406.5,126.3 407.2,126.6 407.9,126.9 408.6,127.2 409.3,127.4 410,127.7 410.7,127.9 411.4,128.1 412.1,128.3 412.8,128.5 413.5,128.7 414.2,128.8 414.9,129 415.6,129.1 416.2,129.2 416.9,129.4 417.6,129.5 418.3,129.6 419,129.7 419.7,129.8 420.4,129.9 421.1,130 421.8,130.1 422.5,130.1 423.2,130.2 423.9,130.3 424.6,130.4 425.3,130.5 426,130.5 426.7,130.6 427.4,130.7 428,130.7 428.7,130.8 429.4,130.8 430.1,130.9 430.8,131 431.5,131 432.2,131.1 432.9,131.1 433.6,131.2 434.3,131.2 435,131.3 435.7,131.3 436.4,131.4 437.1,131.4 437.8,131.5 438.5,131.6 439.2,131.6 439.9,131.7 440.5,131.7 441.2,131.8 441.9,131.8 442.6,131.9 443.3,131.9 444,132 444.7,132 445.4,132.1 446.1,132.1 446.8,132.2 447.5,132.2 448.2,132.3 448.9,132.3 449.6,132.4 450.3,132.4 451,132.5 451.7,132.5 452.3,132.6 453,132.6 453.7,132.7 454.4,132.7 455.1,132.7 455.8,132.8 456.5,132.8 457.2,132.9 457.9,132.9" fill="none" stroke="#AE52C6" stroke-width="1.3" stroke-linejoin="round" stroke-linecap="round" />
<polyline points="278.1,138 278.8,138 279.5,138 280.2,138 280.9,137.9 281.6,137.9 282.3,137.9 283,137.9 283.7,137.9 284.3,137.9 285,137.9 285.7,137.9 286.4,137.9 287.1,137.8 287.8,137.8 288.5,137.8 289.2,137.8 289.9,137.8 290.6,137.8 291.3,137.7 292,137.7 292.7,137.7 293.4,137.7 294.1,137.7 294.8,137.7 295.5,137.6 296.1,137.6 296.8,137.6 297.5,137.6 298.2,137.6 298.9,137.5 299.6,137.5 300.3,137.5 301,137.5 301.7,137.4 302.4,137.4 303.1,137.4 303.8,137.4 304.5,137.3 305.2,137.3 305.9,137.3 306.6,137.2 307.3,137.2 308,137.2 308.6,137.1 309.3,137.1 310,137.1 310.7,137 311.4,137 312.1,137 312.8,136.9 313.5,136.9 314.2,136.8 314.9,136.8 315.6,136.7 316.3,136.7 317,136.6 317.7,136.5 318.4,136.5 319.1,136.4 319.8,136.3 320.4,136.2 321.1,136.2 321.8,136.1 322.5,136 323.2,135.9 323.9,135.8 324.6,135.7 325.3,135.6 326,135.5 326.7,135.4 327.4,135.3 328.1,135.2 328.8,135.2 329.5,135.1 330.2,135 330.9,134.9 331.6,134.8 332.2,134.7 332.9,134.6 333.6,134.5 334.3,134.4 335,134.2 335.7,134.1 336.4,134 337.1,133.9 337.8,133.8 338.5,133.7 339.2,133.5 339.9,133.4 340.6,133.3 341.3,133.1 342,133 342.7,132.9 343.4,132.8 344,132.6 344.7,132.5 345.4,132.3 346.1,132.2 346.8,132 347.5,131.8 348.2,131.7 348.9,131.5 349.6,131.3 350.3,131 351,130.8 351.7,130.5 352.4,130.3 353.1,129.9 353.8,129.6 354.5,129.2 355.2,128.8 355.9,128.3 356.5,127.9 357.2,127.4 357.9,126.9 358.6,126.4 359.3,125.8 360,125.3 360.7,124.7 361.4,124.1 362.1,123.5 362.8,122.9 363.5,122.2 364.2,121.5 364.9,120.7 365.6,119.8 366.3,118.9 367,117.9 367.7,116.9 368.3,115.7 369,114.4 369.7,112.9 370.4,111.3 371.1,109.5 371.8,107.6 372.5,105.4 373.2,102.9 373.9,100.1 374.6,97 375.3,93.9 376,90.8 376.7,87.6 377.4,84.2 378.1,80.7 378.8,77.6 379.5,74.7 380.1,71.8 380.8,70.4 381.5,71 382.2,72.9 382.9,75.2 383.6,77.8 384.3,80.9 385,84.4 385.7,87.6 386.4,90.7 387.1,93.9 387.8,97 388.5,99.7 389.2,101.8 389.9,103.8 390.6,105.5 391.3,107.1 392,108.4 392.6,109.7 393.3,110.8 394,111.9 394.7,112.9 395.4,113.7 396.1,114.5 396.8,115.2 397.5,115.8 398.2,116.3 398.9,116.8 399.6,117.3 400.3,117.7 401,118.1 401.7,118.5 402.4,118.9 403.1,119.2 403.8,119.6 404.4,120 405.1,120.4 405.8,120.8 406.5,121.1 407.2,121.5 407.9,121.9 408.6,122.3 409.3,122.6 410,122.9 410.7,123.3 411.4,123.6 412.1,123.9 412.8,124.1 413.5,124.3 414.2,124.6 414.9,124.7 415.6,124.9 416.2,125.1 416.9,125.3 417.6,125.4 418.3,125.6 419,125.7 419.7,125.8 420.4,126 421.1,126.1 421.8,126.2 422.5,126.3 423.2,126.4 423.9,126.5 424.6,126.6 425.3,126.7 426,126.8 426.7,126.9 427.4,127 428,127.1 428.7,127.2 429.4,127.3 430.1,127.4 430.8,127.4 431.5,127.5 432.2,127.6 432.9,127.6 433.6,127.7 434.3,127.8 435,127.9 435.7,127.9 436.4,128 437.1,128.1 437.8,128.2 438.5,128.2 439.2,128.3 439.9,128.4 440.5,128.5 441.2,128.5 441.9,128.6 442.6,128.7 443.3,128.7 444,128.8 444.7,128.9 445.4,128.9 446.1,129 446.8,129.1 447.5,129.1 448.2,129.2 448.9,129.3 449.6,129.3 450.3,129.4 451,129.5 451.7,129.5 452.3,129.6 453,129.7 453.7,129.7 454.4,129.8 455.1,129.9 455.8,129.9 456.5,130 457.2,130 457.9,130.1" fill="none" stroke="#9652C8" stroke-width="1.3" stroke-linejoin="round" stroke-linecap="round" />
<polyline points="278.1,137 278.8,137 279.5,137 280.2,137 280.9,137 281.6,137 282.3,137 283,136.9 283.7,136.9 284.3,136.9 285,136.9 285.7,136.9 286.4,136.9 287.1,136.8 287.8,136.8 288.5,136.8 289.2,136.8 289.9,136.8 290.6,136.7 291.3,136.7 292,136.7 292.7,136.7 293.4,136.7 294.1,136.6 294.8,136.6 295.5,136.6 296.1,136.6 296.8,136.5 297.5,136.5 298.2,136.5 298.9,136.4 299.6,136.4 300.3,136.4 301,136.4 301.7,136.3 302.4,136.3 303.1,136.2 303.8,136.2 304.5,136.2 305.2,136.1 305.9,136.1 306.6,136 307.3,136 308,136 308.6,135.9 309.3,135.9 310,135.8 310.7,135.8 311.4,135.7 312.1,135.7 312.8,135.6 313.5,135.5 314.2,135.5 314.9,135.4 315.6,135.3 316.3,135.3 317,135.2 317.7,135.1 318.4,135 319.1,134.9 319.8,134.8 320.4,134.7 321.1,134.6 321.8,134.5 322.5,134.4 323.2,134.2 323.9,134.1 324.6,134 325.3,133.9 326,133.8 326.7,133.6 327.4,133.5 328.1,133.4 328.8,133.3 329.5,133.1 330.2,133 330.9,132.9 331.6,132.7 332.2,132.6 332.9,132.5 333.6,132.3 334.3,132.2 335,132 335.7,131.9 336.4,131.7 337.1,131.6 337.8,131.4 338.5,131.3 339.2,131.1 339.9,130.9 340.6,130.7 341.3,130.6 342,130.4 342.7,130.2 343.4,130.1 344,129.9 344.7,129.7 345.4,129.5 346.1,129.3 346.8,129.1 347.5,128.8 348.2,128.6 348.9,128.3 349.6,128.1 350.3,127.8 351,127.5 351.7,127.1 352.4,126.7 353.1,126.3 353.8,125.8 354.5,125.3 355.2,124.7 355.9,124.2 356.5,123.6 357.2,122.9 357.9,122.2 358.6,121.5 359.3,120.8 360,120.1 360.7,119.3 361.4,118.5 362.1,117.7 362.8,116.9 363.5,116 364.2,115 364.9,113.9 365.6,112.8 366.3,111.5 367,110.2 367.7,108.8 368.3,107.3 369,105.6 369.7,103.6 370.4,101.4 371.1,99 371.8,96.4 372.5,93.5 373.2,90.2 373.9,86.4 374.6,82.4 375.3,78.2 376,74 376.7,69.8 377.4,65.2 378.1,60.6 378.8,56.5 379.5,52.5 380.1,48.7 380.8,46.8 381.5,47.6 382.2,50.1 382.9,53.3 383.6,56.6 384.3,60.9 385,65.4 385.7,69.7 386.4,74 387.1,78.2 387.8,82.3 388.5,85.9 389.2,88.8 389.9,91.3 390.6,93.7 391.3,95.7 392,97.6 392.6,99.2 393.3,100.8 394,102.2 394.7,103.5 395.4,104.7 396.1,105.7 396.8,106.6 397.5,107.4 398.2,108.1 398.9,108.8 399.6,109.4 400.3,110 401,110.5 401.7,111 402.4,111.5 403.1,112 403.8,112.5 404.4,113 405.1,113.5 405.8,114 406.5,114.5 407.2,115.1 407.9,115.5 408.6,116 409.3,116.5 410,117 410.7,117.4 411.4,117.8 412.1,118.2 412.8,118.5 413.5,118.8 414.2,119.1 414.9,119.4 415.6,119.6 416.2,119.8 416.9,120 417.6,120.3 418.3,120.4 419,120.6 419.7,120.8 420.4,121 421.1,121.2 421.8,121.3 422.5,121.5 423.2,121.6 423.9,121.8 424.6,121.9 425.3,122 426,122.2 426.7,122.3 427.4,122.4 428,122.5 428.7,122.6 429.4,122.7 430.1,122.8 430.8,122.9 431.5,123 432.2,123.1 432.9,123.2 433.6,123.3 434.3,123.4 435,123.5 435.7,123.6 436.4,123.7 437.1,123.8 437.8,123.9 438.5,124 439.2,124.1 439.9,124.2 440.5,124.3 441.2,124.4 441.9,124.5 442.6,124.6 443.3,124.7 444,124.8 444.7,124.9 445.4,125 446.1,125.1 446.8,125.1 447.5,125.2 448.2,125.3 448.9,125.4 449.6,125.5 450.3,125.6 451,125.7 451.7,125.8 452.3,125.8 453,125.9 453.7,126 454.4,126.1 455.1,126.2 455.8,126.3 456.5,126.3 457.2,126.4 457.9,126.5" fill="none" stroke="#7A58CC" stroke-width="1.3" stroke-linejoin="round" stroke-linecap="round" />
<polyline points="278.1,136 278.8,136 279.5,136 280.2,136 280.9,135.9 281.6,135.9 282.3,135.9 283,135.9 283.7,135.9 284.3,135.9 285,135.8 285.7,135.8 286.4,135.8 287.1,135.8 287.8,135.7 288.5,135.7 289.2,135.7 289.9,135.7 290.6,135.6 291.3,135.6 292,135.6 292.7,135.5 293.4,135.5 294.1,135.5 294.8,135.5 295.5,135.4 296.1,135.4 296.8,135.4 297.5,135.3 298.2,135.3 298.9,135.3 299.6,135.2 300.3,135.2 301,135.1 301.7,135.1 302.4,135.1 303.1,135 303.8,135 304.5,134.9 305.2,134.9 305.9,134.8 306.6,134.8 307.3,134.7 308,134.6 308.6,134.6 309.3,134.5 310,134.5 310.7,134.4 311.4,134.3 312.1,134.2 312.8,134.2 313.5,134.1 314.2,134 314.9,133.9 315.6,133.9 316.3,133.8 317,133.7 317.7,133.5 318.4,133.4 319.1,133.3 319.8,133.2 320.4,133 321.1,132.9 321.8,132.8 322.5,132.6 323.2,132.5 323.9,132.3 324.6,132.2 325.3,132 326,131.8 326.7,131.7 327.4,131.5 328.1,131.4 328.8,131.2 329.5,131 330.2,130.9 330.9,130.7 331.6,130.6 332.2,130.4 332.9,130.2 333.6,130 334.3,129.8 335,129.7 335.7,129.5 336.4,129.3 337.1,129.1 337.8,128.9 338.5,128.7 339.2,128.4 339.9,128.2 340.6,128 341.3,127.8 342,127.6 342.7,127.4 343.4,127.1 344,126.9 344.7,126.7 345.4,126.4 346.1,126.1 346.8,125.9 347.5,125.6 348.2,125.3 348.9,124.9 349.6,124.6 350.3,124.2 351,123.8 351.7,123.4 352.4,122.9 353.1,122.3 353.8,121.7 354.5,121.1 355.2,120.4 355.9,119.6 356.5,118.9 357.2,118.1 357.9,117.2 358.6,116.3 359.3,115.4 360,114.5 360.7,113.5 361.4,112.5 362.1,111.5 362.8,110.4 363.5,109.2 364.2,108 364.9,106.6 365.6,105.2 366.3,103.6 367,101.9 367.7,100.1 368.3,98.2 369,96 369.7,93.5 370.4,90.7 371.1,87.7 371.8,84.4 372.5,80.7 373.2,76.4 373.9,71.6 374.6,66.5 375.3,61.2 376,55.9 376.7,50.5 377.4,44.6 378.1,38.7 378.8,33.6 379.5,28.5 380.1,23.7 380.8,21.2 381.5,22.2 382.2,25.4 382.9,29.5 383.6,33.7 384.3,39.1 385,45 385.7,50.4 386.4,55.8 387.1,61.2 387.8,66.4 388.5,71 389.2,74.7 389.9,77.9 390.6,80.9 391.3,83.5 392,85.8 392.6,87.9 393.3,89.9 394,91.7 394.7,93.4 395.4,94.9 396.1,96.2 396.8,97.3 397.5,98.3 398.2,99.2 398.9,100.1 399.6,100.8 400.3,101.6 401,102.3 401.7,102.9 402.4,103.5 403.1,104.2 403.8,104.8 404.4,105.5 405.1,106.1 405.8,106.8 406.5,107.4 407.2,108.1 407.9,108.7 408.6,109.3 409.3,109.9 410,110.5 410.7,111 411.4,111.5 412.1,112 412.8,112.5 413.5,112.9 414.2,113.2 414.9,113.5 415.6,113.8 416.2,114.1 416.9,114.4 417.6,114.7 418.3,114.9 419,115.2 419.7,115.4 420.4,115.6 421.1,115.8 421.8,116 422.5,116.2 423.2,116.4 423.9,116.6 424.6,116.8 425.3,116.9 426,117.1 426.7,117.2 427.4,117.4 428,117.5 428.7,117.7 429.4,117.8 430.1,118 430.8,118.1 431.5,118.2 432.2,118.3 432.9,118.5 433.6,118.6 434.3,118.7 435,118.8 435.7,119 436.4,119.1 437.1,119.2 437.8,119.3 438.5,119.5 439.2,119.6 439.9,119.7 440.5,119.8 441.2,119.9 441.9,120.1 442.6,120.2 443.3,120.3 444,120.4 444.7,120.5 445.4,120.7 446.1,120.8 446.8,120.9 447.5,121 448.2,121.1 448.9,121.2 449.6,121.3 450.3,121.4 451,121.6 451.7,121.7 452.3,121.8 453,121.9 453.7,122 454.4,122.1 455.1,122.2 455.8,122.3 456.5,122.4 457.2,122.5 457.9,122.6" fill="none" stroke="#5E5ED2" stroke-width="1.3" stroke-linejoin="round" stroke-linecap="round" />
<rect x="286.72" y="138.27" width="2.9" height="2.9" fill="#C262C2"/>
<rect x="297.26" y="138.17" width="2.9" height="2.9" fill="#C262C2"/>
<rect x="307.79" y="138.01" width="2.9" height="2.9" fill="#C262C2"/>
<rect x="318.33" y="137.71" width="2.9" height="2.9" fill="#C262C2"/>
<rect x="328.86" y="137.21" width="2.9" height="2.9" fill="#C262C2"/>
<rect x="339.4" y="136.57" width="2.9" height="2.9" fill="#C262C2"/>
<rect x="349.94" y="135.63" width="2.9" height="2.9" fill="#C262C2"/>
<rect x="360.47" y="133.06" width="2.9" height="2.9" fill="#C262C2"/>
<rect x="371.01" y="126.4" width="2.9" height="2.9" fill="#C262C2"/>
<rect x="381.55" y="115.31" width="2.9" height="2.9" fill="#C262C2"/>
<rect x="392.08" y="128.44" width="2.9" height="2.9" fill="#C262C2"/>
<rect x="402.62" y="131.63" width="2.9" height="2.9" fill="#C262C2"/>
<rect x="413.15" y="133.43" width="2.9" height="2.9" fill="#C262C2"/>
<rect x="423.69" y="134.18" width="2.9" height="2.9" fill="#C262C2"/>
<rect x="434.23" y="134.63" width="2.9" height="2.9" fill="#C262C2"/>
<rect x="444.76" y="135.03" width="2.9" height="2.9" fill="#C262C2"/>
<rect x="455.3" y="135.39" width="2.9" height="2.9" fill="#C262C2"/>
<circle cx="288.17" cy="138.61" r="1.45" fill="#AE52C6"/>
<circle cx="298.71" cy="138.41" r="1.45" fill="#AE52C6"/>
<circle cx="309.24" cy="138.09" r="1.45" fill="#AE52C6"/>
<circle cx="319.78" cy="137.5" r="1.45" fill="#AE52C6"/>
<circle cx="330.31" cy="136.49" r="1.45" fill="#AE52C6"/>
<circle cx="340.85" cy="135.23" r="1.45" fill="#AE52C6"/>
<circle cx="351.39" cy="133.34" r="1.45" fill="#AE52C6"/>
<circle cx="361.92" cy="128.2" r="1.45" fill="#AE52C6"/>
<circle cx="372.46" cy="114.88" r="1.45" fill="#AE52C6"/>
<circle cx="383" cy="92.7" r="1.45" fill="#AE52C6"/>
<circle cx="393.53" cy="118.96" r="1.45" fill="#AE52C6"/>
<circle cx="404.07" cy="125.33" r="1.45" fill="#AE52C6"/>
<circle cx="414.6" cy="128.93" r="1.45" fill="#AE52C6"/>
<circle cx="425.14" cy="130.44" r="1.45" fill="#AE52C6"/>
<circle cx="435.68" cy="131.34" r="1.45" fill="#AE52C6"/>
<circle cx="446.21" cy="132.13" r="1.45" fill="#AE52C6"/>
<circle cx="456.75" cy="132.85" r="1.45" fill="#AE52C6"/>
<path d="M288.17,136.08 L289.84,138.98 L286.5,138.98 Z" fill="#9652C8"/>
<path d="M298.71,135.81 L300.37,138.71 L297.04,138.71 Z" fill="#9652C8"/>
<path d="M309.24,135.37 L310.91,138.27 L307.57,138.27 Z" fill="#9652C8"/>
<path d="M319.78,134.57 L321.45,137.47 L318.11,137.47 Z" fill="#9652C8"/>
<path d="M330.31,133.21 L331.98,136.11 L328.65,136.11 Z" fill="#9652C8"/>
<path d="M340.85,131.48 L342.52,134.38 L339.18,134.38 Z" fill="#9652C8"/>
<path d="M351.39,128.93 L353.05,131.83 L349.72,131.83 Z" fill="#9652C8"/>
<path d="M361.92,121.94 L363.59,124.84 L360.26,124.84 Z" fill="#9652C8"/>
<path d="M372.46,103.85 L374.13,106.75 L370.79,106.75 Z" fill="#9652C8"/>
<path d="M383,73.73 L384.66,76.63 L381.33,76.63 Z" fill="#9652C8"/>
<path d="M393.53,109.38 L395.2,112.28 L391.86,112.28 Z" fill="#9652C8"/>
<path d="M404.07,118.04 L405.74,120.94 L402.4,120.94 Z" fill="#9652C8"/>
<path d="M414.6,122.93 L416.27,125.83 L412.94,125.83 Z" fill="#9652C8"/>
<path d="M425.14,124.99 L426.81,127.89 L423.47,127.89 Z" fill="#9652C8"/>
<path d="M435.68,126.2 L437.34,129.1 L434.01,129.1 Z" fill="#9652C8"/>
<path d="M446.21,127.28 L447.88,130.18 L444.55,130.18 Z" fill="#9652C8"/>
<path d="M456.75,128.26 L458.42,131.16 L455.08,131.16 Z" fill="#9652C8"/>
<path d="M288.17,138.56 L289.84,135.66 L286.5,135.66 Z" fill="#7A58CC"/>
<path d="M298.71,138.2 L300.37,135.3 L297.04,135.3 Z" fill="#7A58CC"/>
<path d="M309.24,137.61 L310.91,134.71 L307.57,134.71 Z" fill="#7A58CC"/>
<path d="M319.78,136.54 L321.45,133.64 L318.11,133.64 Z" fill="#7A58CC"/>
<path d="M330.31,134.72 L331.98,131.82 L328.65,131.82 Z" fill="#7A58CC"/>
<path d="M340.85,132.42 L342.52,129.52 L339.18,129.52 Z" fill="#7A58CC"/>
<path d="M351.39,129 L353.05,126.1 L349.72,126.1 Z" fill="#7A58CC"/>
<path d="M361.92,119.68 L363.59,116.78 L360.26,116.78 Z" fill="#7A58CC"/>
<path d="M372.46,95.52 L374.13,92.62 L370.79,92.62 Z" fill="#7A58CC"/>
<path d="M383,55.31 L384.66,52.41 L381.33,52.41 Z" fill="#7A58CC"/>
<path d="M393.53,102.91 L395.2,100.01 L391.86,100.01 Z" fill="#7A58CC"/>
<path d="M404.07,114.47 L405.74,111.57 L402.4,111.57 Z" fill="#7A58CC"/>
<path d="M414.6,121 L416.27,118.1 L412.94,118.1 Z" fill="#7A58CC"/>
<path d="M425.14,123.74 L426.81,120.84 L423.47,120.84 Z" fill="#7A58CC"/>
<path d="M435.68,125.37 L437.34,122.47 L434.01,122.47 Z" fill="#7A58CC"/>
<path d="M446.21,126.81 L447.88,123.91 L444.55,123.91 Z" fill="#7A58CC"/>
<path d="M456.75,128.11 L458.42,125.21 L455.08,125.21 Z" fill="#7A58CC"/>
<path d="M288.17,133.84 L289.76,135.73 L288.17,137.61 L286.57,135.73 Z" fill="#5E5ED2"/>
<path d="M298.71,133.39 L300.3,135.27 L298.71,137.16 L297.11,135.27 Z" fill="#5E5ED2"/>
<path d="M309.24,132.64 L310.84,134.52 L309.24,136.41 L307.65,134.52 Z" fill="#5E5ED2"/>
<path d="M319.78,131.28 L321.37,133.17 L319.78,135.05 L318.18,133.17 Z" fill="#5E5ED2"/>
<path d="M330.31,128.96 L331.91,130.85 L330.31,132.73 L328.72,130.85 Z" fill="#5E5ED2"/>
<path d="M340.85,126.04 L342.45,127.93 L340.85,129.81 L339.26,127.93 Z" fill="#5E5ED2"/>
<path d="M351.39,121.7 L352.98,123.58 L351.39,125.47 L349.79,123.58 Z" fill="#5E5ED2"/>
<path d="M361.92,109.84 L363.52,111.73 L361.92,113.61 L360.33,111.73 Z" fill="#5E5ED2"/>
<path d="M372.46,79.12 L374.05,81.01 L372.46,82.89 L370.86,81.01 Z" fill="#5E5ED2"/>
<path d="M383,27.98 L384.59,29.87 L383,31.75 L381.4,29.87 Z" fill="#5E5ED2"/>
<path d="M393.53,88.52 L395.13,90.4 L393.53,92.29 L391.94,90.4 Z" fill="#5E5ED2"/>
<path d="M404.07,103.22 L405.66,105.1 L404.07,106.99 L402.47,105.1 Z" fill="#5E5ED2"/>
<path d="M414.6,111.52 L416.2,113.41 L414.6,115.29 L413.01,113.41 Z" fill="#5E5ED2"/>
<path d="M425.14,115.01 L426.74,116.89 L425.14,118.78 L423.55,116.89 Z" fill="#5E5ED2"/>
<path d="M435.68,117.07 L437.27,118.96 L435.68,120.84 L434.08,118.96 Z" fill="#5E5ED2"/>
<path d="M446.21,118.91 L447.81,120.79 L446.21,122.68 L444.62,120.79 Z" fill="#5E5ED2"/>
<path d="M456.75,120.57 L458.34,122.45 L456.75,124.34 L455.15,122.45 Z" fill="#5E5ED2"/>
<line x1="380.6" y1="5.3" x2="380.6" y2="150.5" stroke="#111" stroke-width="1.1" stroke-dasharray="1.3,1.3"/>
<line x1="345.3" y1="102.3" x2="376.5" y2="145.5" stroke="#E8241C" stroke-width="0.9" />
<path d="M378.3,148.2 L374.4,145.6 L377.5,143.4 Z" fill="#E8241C"/>
<text x="334.8" y="96.63" font-size="6.2" text-anchor="middle" fill="#222" font-weight="bold" >198 kHz</text>
<line x1="280.5" y1="10.9" x2="297.2" y2="10.9" stroke="#C262C2" stroke-width="1.0" />
<rect x="287.55" y="9.55" width="2.7" height="2.7" fill="#C262C2"/>
<text x="299.6" y="13.64" font-size="7.6" text-anchor="start" fill="#111" font-weight="bold" >1000 mV</text>
<line x1="280.5" y1="20.5" x2="297.2" y2="20.5" stroke="#AE52C6" stroke-width="1.0" />
<circle cx="288.9" cy="20.5" r="1.35" fill="#AE52C6"/>
<text x="299.6" y="23.24" font-size="7.6" text-anchor="start" fill="#111" font-weight="bold" >2000 mV</text>
<line x1="280.5" y1="30.2" x2="297.2" y2="30.2" stroke="#9652C8" stroke-width="1.0" />
<path d="M288.9,28.58 L290.45,31.28 L287.35,31.28 Z" fill="#9652C8"/>
<text x="299.6" y="32.94" font-size="7.6" text-anchor="start" fill="#111" font-weight="bold" >3000 mV</text>
<line x1="280.5" y1="40" x2="297.2" y2="40" stroke="#7A58CC" stroke-width="1.0" />
<path d="M288.9,41.62 L290.45,38.92 L287.35,38.92 Z" fill="#7A58CC"/>
<text x="299.6" y="42.74" font-size="7.6" text-anchor="start" fill="#111" font-weight="bold" >4000 mV</text>
<line x1="280.5" y1="49.7" x2="297.2" y2="49.7" stroke="#5E5ED2" stroke-width="1.0" />
<path d="M288.9,47.95 L290.38,49.7 L288.9,51.46 L287.41,49.7 Z" fill="#5E5ED2"/>
<text x="299.6" y="52.44" font-size="7.6" text-anchor="start" fill="#111" font-weight="bold" >5000 mV</text>
<text x="402.4" y="12.87" font-size="6.3" text-anchor="start" fill="#111" font-weight="bold" >TP-BT-0F-COF</text>
<rect x="278.1" y="5.3" width="179.8" height="145.2" fill="none" stroke="#333" stroke-width="1.1"/>
<line x1="278.1" y1="150.5" x2="278.1" y2="151.8" stroke="#333" stroke-width="0.9" />
<line x1="287.09" y1="150.5" x2="287.09" y2="151.8" stroke="#333" stroke-width="0.9" />
<line x1="296.08" y1="150.5" x2="296.08" y2="151.8" stroke="#333" stroke-width="0.9" />
<line x1="305.07" y1="150.5" x2="305.07" y2="151.8" stroke="#333" stroke-width="0.9" />
<line x1="314.06" y1="150.5" x2="314.06" y2="151.8" stroke="#333" stroke-width="0.9" />
<line x1="323.05" y1="150.5" x2="323.05" y2="151.8" stroke="#333" stroke-width="0.9" />
<line x1="332.04" y1="150.5" x2="332.04" y2="151.8" stroke="#333" stroke-width="0.9" />
<line x1="341.03" y1="150.5" x2="341.03" y2="151.8" stroke="#333" stroke-width="0.9" />
<line x1="350.02" y1="150.5" x2="350.02" y2="151.8" stroke="#333" stroke-width="0.9" />
<line x1="359.01" y1="150.5" x2="359.01" y2="151.8" stroke="#333" stroke-width="0.9" />
<line x1="368" y1="150.5" x2="368" y2="151.8" stroke="#333" stroke-width="0.9" />
<line x1="376.99" y1="150.5" x2="376.99" y2="151.8" stroke="#333" stroke-width="0.9" />
<line x1="385.98" y1="150.5" x2="385.98" y2="151.8" stroke="#333" stroke-width="0.9" />
<line x1="394.97" y1="150.5" x2="394.97" y2="151.8" stroke="#333" stroke-width="0.9" />
<line x1="403.96" y1="150.5" x2="403.96" y2="151.8" stroke="#333" stroke-width="0.9" />
<line x1="412.95" y1="150.5" x2="412.95" y2="151.8" stroke="#333" stroke-width="0.9" />
<line x1="421.94" y1="150.5" x2="421.94" y2="151.8" stroke="#333" stroke-width="0.9" />
<line x1="430.93" y1="150.5" x2="430.93" y2="151.8" stroke="#333" stroke-width="0.9" />
<line x1="439.92" y1="150.5" x2="439.92" y2="151.8" stroke="#333" stroke-width="0.9" />
<line x1="448.91" y1="150.5" x2="448.91" y2="151.8" stroke="#333" stroke-width="0.9" />
<line x1="457.9" y1="150.5" x2="457.9" y2="151.8" stroke="#333" stroke-width="0.9" />
<line x1="278.1" y1="150.5" x2="278.1" y2="152.7" stroke="#333" stroke-width="0.9" />
<text x="278.1" y="161.15" font-size="8.2" text-anchor="middle" fill="#222" font-weight="bold" >170</text>
<line x1="296.08" y1="150.5" x2="296.08" y2="152.7" stroke="#333" stroke-width="0.9" />
<text x="296.08" y="161.15" font-size="8.2" text-anchor="middle" fill="#222" font-weight="bold" >175</text>
<line x1="314.06" y1="150.5" x2="314.06" y2="152.7" stroke="#333" stroke-width="0.9" />
<text x="314.06" y="161.15" font-size="8.2" text-anchor="middle" fill="#222" font-weight="bold" >180</text>
<line x1="332.04" y1="150.5" x2="332.04" y2="152.7" stroke="#333" stroke-width="0.9" />
<text x="332.04" y="161.15" font-size="8.2" text-anchor="middle" fill="#222" font-weight="bold" >185</text>
<line x1="350.02" y1="150.5" x2="350.02" y2="152.7" stroke="#333" stroke-width="0.9" />
<text x="350.02" y="161.15" font-size="8.2" text-anchor="middle" fill="#222" font-weight="bold" >190</text>
<line x1="368" y1="150.5" x2="368" y2="152.7" stroke="#333" stroke-width="0.9" />
<text x="368" y="161.15" font-size="8.2" text-anchor="middle" fill="#222" font-weight="bold" >195</text>
<line x1="385.98" y1="150.5" x2="385.98" y2="152.7" stroke="#333" stroke-width="0.9" />
<text x="385.98" y="161.15" font-size="8.2" text-anchor="middle" fill="#222" font-weight="bold" >200</text>
<line x1="403.96" y1="150.5" x2="403.96" y2="152.7" stroke="#333" stroke-width="0.9" />
<text x="403.96" y="161.15" font-size="8.2" text-anchor="middle" fill="#222" font-weight="bold" >205</text>
<line x1="421.94" y1="150.5" x2="421.94" y2="152.7" stroke="#333" stroke-width="0.9" />
<text x="421.94" y="161.15" font-size="8.2" text-anchor="middle" fill="#222" font-weight="bold" >210</text>
<line x1="439.92" y1="150.5" x2="439.92" y2="152.7" stroke="#333" stroke-width="0.9" />
<text x="439.92" y="161.15" font-size="8.2" text-anchor="middle" fill="#222" font-weight="bold" >215</text>
<line x1="457.9" y1="150.5" x2="457.9" y2="152.7" stroke="#333" stroke-width="0.9" />
<text x="457.9" y="161.15" font-size="8.2" text-anchor="middle" fill="#222" font-weight="bold" >220</text>
<line x1="278.1" y1="150.5" x2="276.8" y2="150.5" stroke="#333" stroke-width="0.9" />
<line x1="278.1" y1="140.82" x2="276.8" y2="140.82" stroke="#333" stroke-width="0.9" />
<line x1="278.1" y1="131.14" x2="276.8" y2="131.14" stroke="#333" stroke-width="0.9" />
<line x1="278.1" y1="121.46" x2="276.8" y2="121.46" stroke="#333" stroke-width="0.9" />
<line x1="278.1" y1="111.78" x2="276.8" y2="111.78" stroke="#333" stroke-width="0.9" />
<line x1="278.1" y1="102.1" x2="276.8" y2="102.1" stroke="#333" stroke-width="0.9" />
<line x1="278.1" y1="92.42" x2="276.8" y2="92.42" stroke="#333" stroke-width="0.9" />
<line x1="278.1" y1="82.74" x2="276.8" y2="82.74" stroke="#333" stroke-width="0.9" />
<line x1="278.1" y1="73.06" x2="276.8" y2="73.06" stroke="#333" stroke-width="0.9" />
<line x1="278.1" y1="63.38" x2="276.8" y2="63.38" stroke="#333" stroke-width="0.9" />
<line x1="278.1" y1="53.7" x2="276.8" y2="53.7" stroke="#333" stroke-width="0.9" />
<line x1="278.1" y1="44.02" x2="276.8" y2="44.02" stroke="#333" stroke-width="0.9" />
<line x1="278.1" y1="34.34" x2="276.8" y2="34.34" stroke="#333" stroke-width="0.9" />
<line x1="278.1" y1="24.66" x2="276.8" y2="24.66" stroke="#333" stroke-width="0.9" />
<line x1="278.1" y1="14.98" x2="276.8" y2="14.98" stroke="#333" stroke-width="0.9" />
<line x1="278.1" y1="5.3" x2="276.8" y2="5.3" stroke="#333" stroke-width="0.9" />
<line x1="278.1" y1="140.82" x2="275.9" y2="140.82" stroke="#333" stroke-width="0.9" />
<text x="274" y="143.77" font-size="8.2" text-anchor="end" fill="#222" font-weight="bold" >0</text>
<line x1="278.1" y1="121.46" x2="275.9" y2="121.46" stroke="#333" stroke-width="0.9" />
<text x="274" y="124.41" font-size="8.2" text-anchor="end" fill="#222" font-weight="bold" >10</text>
<line x1="278.1" y1="102.1" x2="275.9" y2="102.1" stroke="#333" stroke-width="0.9" />
<text x="274" y="105.05" font-size="8.2" text-anchor="end" fill="#222" font-weight="bold" >20</text>
<line x1="278.1" y1="82.74" x2="275.9" y2="82.74" stroke="#333" stroke-width="0.9" />
<text x="274" y="85.69" font-size="8.2" text-anchor="end" fill="#222" font-weight="bold" >30</text>
<line x1="278.1" y1="63.38" x2="275.9" y2="63.38" stroke="#333" stroke-width="0.9" />
<text x="274" y="66.33" font-size="8.2" text-anchor="end" fill="#222" font-weight="bold" >40</text>
<line x1="278.1" y1="44.02" x2="275.9" y2="44.02" stroke="#333" stroke-width="0.9" />
<text x="274" y="46.97" font-size="8.2" text-anchor="end" fill="#222" font-weight="bold" >50</text>
<line x1="278.1" y1="24.66" x2="275.9" y2="24.66" stroke="#333" stroke-width="0.9" />
<text x="274" y="27.61" font-size="8.2" text-anchor="end" fill="#222" font-weight="bold" >60</text>
<line x1="278.1" y1="5.3" x2="275.9" y2="5.3" stroke="#333" stroke-width="0.9" />
<text x="274" y="8.25" font-size="8.2" text-anchor="end" fill="#222" font-weight="bold" >70</text>
<text x="238.4" y="8.9" font-size="11.5" text-anchor="start" fill="#111" font-weight="bold" >(B)</text>
<text x="368" y="176.2" font-size="8.9" text-anchor="middle" fill="#111" font-weight="bold" >Frequency (kHz)</text>
<text transform="translate(258.6,77.6) rotate(-90)" x="0" y="3.2" font-size="8.9" text-anchor="middle" fill="#111" font-weight="bold" >Amplitude (a.u.)</text>
<line x1="533.06" y1="122.15" x2="664.12" y2="23.25" stroke="#B07A5A" stroke-width="1.1" stroke-dasharray="1.2,2.0"/>
<circle cx="533.06" cy="123.02" r="2.9" fill="#F4935A"/>
<circle cx="565.83" cy="94.39" r="2.9" fill="#F4935A"/>
<circle cx="598.59" cy="75.1" r="2.9" fill="#F4935A"/>
<circle cx="631.35" cy="48.76" r="2.9" fill="#F4935A"/>
<circle cx="664.12" cy="22.21" r="2.9" fill="#F4935A"/>
<circle cx="511.2" cy="13.8" r="2.9" fill="#F4935A"/>
<line x1="506" y1="28.9" x2="517" y2="28.9" stroke="#D8B8A0" stroke-width="0.8" stroke-dasharray="1,1.6"/>
<text x="521.8" y="16.5" font-size="7.5" text-anchor="start" fill="#111" font-weight="bold" >Piezoresponse</text>
<text x="521.8" y="31.6" font-size="7.5" text-anchor="start" fill="#111" font-weight="bold" >Linear fit (R<tspan font-size="4.8" dy="-3">2</tspan><tspan dy="3"> = 0.99)</tspan></text>
<text x="628" y="12.27" font-size="6.3" text-anchor="start" fill="#111" font-weight="bold" >TP-BT-0F-COF</text>
<rect x="500.3" y="5.2" width="180.2" height="145.2" fill="none" stroke="#333" stroke-width="1.1"/>
<line x1="500.3" y1="150.4" x2="500.3" y2="151.7" stroke="#333" stroke-width="0.9" />
<line x1="516.68" y1="150.4" x2="516.68" y2="151.7" stroke="#333" stroke-width="0.9" />
<line x1="533.06" y1="150.4" x2="533.06" y2="151.7" stroke="#333" stroke-width="0.9" />
<line x1="549.45" y1="150.4" x2="549.45" y2="151.7" stroke="#333" stroke-width="0.9" />
<line x1="565.83" y1="150.4" x2="565.83" y2="151.7" stroke="#333" stroke-width="0.9" />
<line x1="582.21" y1="150.4" x2="582.21" y2="151.7" stroke="#333" stroke-width="0.9" />
<line x1="598.59" y1="150.4" x2="598.59" y2="151.7" stroke="#333" stroke-width="0.9" />
<line x1="614.97" y1="150.4" x2="614.97" y2="151.7" stroke="#333" stroke-width="0.9" />
<line x1="631.35" y1="150.4" x2="631.35" y2="151.7" stroke="#333" stroke-width="0.9" />
<line x1="647.74" y1="150.4" x2="647.74" y2="151.7" stroke="#333" stroke-width="0.9" />
<line x1="664.12" y1="150.4" x2="664.12" y2="151.7" stroke="#333" stroke-width="0.9" />
<line x1="680.5" y1="150.4" x2="680.5" y2="151.7" stroke="#333" stroke-width="0.9" />
<line x1="500.3" y1="150.4" x2="500.3" y2="152.6" stroke="#333" stroke-width="0.9" />
<text x="500.3" y="161.55" font-size="8.2" text-anchor="middle" fill="#222" font-weight="bold" >0</text>
<line x1="533.06" y1="150.4" x2="533.06" y2="152.6" stroke="#333" stroke-width="0.9" />
<text x="533.06" y="161.55" font-size="8.2" text-anchor="middle" fill="#222" font-weight="bold" >1000</text>
<line x1="565.83" y1="150.4" x2="565.83" y2="152.6" stroke="#333" stroke-width="0.9" />
<text x="565.83" y="161.55" font-size="8.2" text-anchor="middle" fill="#222" font-weight="bold" >2000</text>
<line x1="598.59" y1="150.4" x2="598.59" y2="152.6" stroke="#333" stroke-width="0.9" />
<text x="598.59" y="161.55" font-size="8.2" text-anchor="middle" fill="#222" font-weight="bold" >3000</text>
<line x1="631.35" y1="150.4" x2="631.35" y2="152.6" stroke="#333" stroke-width="0.9" />
<text x="631.35" y="161.55" font-size="8.2" text-anchor="middle" fill="#222" font-weight="bold" >4000</text>
<line x1="664.12" y1="150.4" x2="664.12" y2="152.6" stroke="#333" stroke-width="0.9" />
<text x="664.12" y="161.55" font-size="8.2" text-anchor="middle" fill="#222" font-weight="bold" >5000</text>
<line x1="500.3" y1="150.4" x2="499" y2="150.4" stroke="#333" stroke-width="0.9" />
<line x1="500.3" y1="140.03" x2="499" y2="140.03" stroke="#333" stroke-width="0.9" />
<line x1="500.3" y1="129.66" x2="499" y2="129.66" stroke="#333" stroke-width="0.9" />
<line x1="500.3" y1="119.29" x2="499" y2="119.29" stroke="#333" stroke-width="0.9" />
<line x1="500.3" y1="108.91" x2="499" y2="108.91" stroke="#333" stroke-width="0.9" />
<line x1="500.3" y1="98.54" x2="499" y2="98.54" stroke="#333" stroke-width="0.9" />
<line x1="500.3" y1="88.17" x2="499" y2="88.17" stroke="#333" stroke-width="0.9" />
<line x1="500.3" y1="77.8" x2="499" y2="77.8" stroke="#333" stroke-width="0.9" />
<line x1="500.3" y1="67.43" x2="499" y2="67.43" stroke="#333" stroke-width="0.9" />
<line x1="500.3" y1="57.06" x2="499" y2="57.06" stroke="#333" stroke-width="0.9" />
<line x1="500.3" y1="46.69" x2="499" y2="46.69" stroke="#333" stroke-width="0.9" />
<line x1="500.3" y1="36.31" x2="499" y2="36.31" stroke="#333" stroke-width="0.9" />
<line x1="500.3" y1="25.94" x2="499" y2="25.94" stroke="#333" stroke-width="0.9" />
<line x1="500.3" y1="15.57" x2="499" y2="15.57" stroke="#333" stroke-width="0.9" />
<line x1="500.3" y1="5.2" x2="499" y2="5.2" stroke="#333" stroke-width="0.9" />
<line x1="500.3" y1="150.4" x2="498.1" y2="150.4" stroke="#333" stroke-width="0.9" />
<text x="496" y="153.35" font-size="8.2" text-anchor="end" fill="#222" font-weight="bold" >0</text>
<line x1="500.3" y1="129.66" x2="498.1" y2="129.66" stroke="#333" stroke-width="0.9" />
<text x="496" y="132.61" font-size="8.2" text-anchor="end" fill="#222" font-weight="bold" >10</text>
<line x1="500.3" y1="108.91" x2="498.1" y2="108.91" stroke="#333" stroke-width="0.9" />
<text x="496" y="111.87" font-size="8.2" text-anchor="end" fill="#222" font-weight="bold" >20</text>
<line x1="500.3" y1="88.17" x2="498.1" y2="88.17" stroke="#333" stroke-width="0.9" />
<text x="496" y="91.12" font-size="8.2" text-anchor="end" fill="#222" font-weight="bold" >30</text>
<line x1="500.3" y1="67.43" x2="498.1" y2="67.43" stroke="#333" stroke-width="0.9" />
<text x="496" y="70.38" font-size="8.2" text-anchor="end" fill="#222" font-weight="bold" >40</text>
<line x1="500.3" y1="46.69" x2="498.1" y2="46.69" stroke="#333" stroke-width="0.9" />
<text x="496" y="49.64" font-size="8.2" text-anchor="end" fill="#222" font-weight="bold" >50</text>
<line x1="500.3" y1="25.94" x2="498.1" y2="25.94" stroke="#333" stroke-width="0.9" />
<text x="496" y="28.89" font-size="8.2" text-anchor="end" fill="#222" font-weight="bold" >60</text>
<line x1="500.3" y1="5.2" x2="498.1" y2="5.2" stroke="#333" stroke-width="0.9" />
<text x="496" y="8.15" font-size="8.2" text-anchor="end" fill="#222" font-weight="bold" >70</text>
<text x="467.4" y="8.9" font-size="11.5" text-anchor="start" fill="#111" font-weight="bold" >(C)</text>
<text x="590.8" y="176.2" font-size="8.9" text-anchor="middle" fill="#111" font-weight="bold" >Drive amplitude (mV)</text>
<text transform="translate(481.5,77.8) rotate(-90)" x="0" y="3.2" font-size="8.9" text-anchor="middle" fill="#111" font-weight="bold" >Piezoresponse (a.u)</text>
<polyline points="27,232 27.4,231.7 27.8,231.2 28.2,230.4 28.6,229.7 29,229 29.4,228.5 29.8,228.4 30.2,228.7 30.6,229.3 31,230 31.4,230.6 31.8,231 32.2,231 32.6,230.8 33,230.3 33.4,229.7 33.8,229.2 34.2,229 34.6,229.1 35,229.5 35.4,230.2 35.8,230.9 36.2,231.6 36.6,232.3 37,232.7 37.4,233 37.8,233.1 38.2,233.1 38.6,233 39,232.8 39.4,232.6 39.8,232.2 40.2,231.8 40.6,231.3 41,230.9 41.4,230.5 41.8,230.1 42.1,229.9 42.5,229.8 42.9,229.9 43.3,230.1 43.7,230.5 44.1,230.9 44.5,231.3 44.9,231.7 45.3,232.1 45.7,232.3 46.1,232.4 46.5,232.4 46.9,232.2 47.3,231.9 47.7,231.5 48.1,231.1 48.5,230.7 48.9,230.3 49.3,230.1 49.7,230 50.1,230.1 50.5,230.3 50.9,230.7 51.3,231.1 51.7,231.6 52.1,232.1 52.5,232.5 52.9,232.9 53.3,233.1 53.7,233.3 54.1,233.2 54.5,233.1 54.9,232.8 55.3,232.4 55.7,232 56.1,231.5 56.5,231 56.9,230.7 57.3,230.4 57.7,230.3 58.1,230.4 58.5,230.6 58.9,230.9 59.3,231.4 59.7,231.9 60.1,232.5 60.5,233 60.9,233.4 61.3,233.8 61.7,234.1 62.1,234.4 62.5,234.5 62.9,234.7 63.3,234.7 63.7,234.8 64.1,234.8 64.5,234.9 64.9,234.9 65.3,234.9 65.7,234.9 66.1,234.9 66.5,234.8 66.9,234.7 67.3,234.4 67.7,233.9 68.1,233.2 68.5,232.1 68.9,230.8 69.3,229.3 69.7,227.9 70.1,226.9 70.5,226.4 70.9,226.5 71.3,227.2 71.7,228.2 72,229.3 72.4,230.4 72.8,231.3 73.2,232 73.6,232.6 74,233 74.4,233.4 74.8,233.8 75.2,234.1 75.6,234.3 76,234.4 76.4,234.4 76.8,234.2 77.2,234 77.6,233.6 78,233.1 78.4,232.6 78.8,232.1 79.2,231.6 79.6,231.1 80,230.8 80.4,230.6 80.8,230.5 81.2,230.6 81.6,230.9 82,231.3 82.4,231.7 82.8,232.3 83.2,232.8 83.6,233.4 84,233.9 84.4,234.3 84.8,234.7 85.2,235 85.6,235.2 86,235.4 86.4,235.5 86.8,235.5 87.2,235.6 87.6,235.6 88,235.5 88.4,235.5 88.8,235.4 89.2,235.3 89.6,235.1 90,234.9 90.4,234.6 90.8,234.3 91.2,234 91.6,233.6 92,233.2 92.4,232.9 92.8,232.6 93.2,232.3 93.6,232.1 94,232.1 94.4,232.1 94.8,232.2 95.2,232.4 95.6,232.6 96,232.8 96.4,232.9 96.8,233.1 97.2,233.1 97.6,233.2 98,233.3 98.4,233.4 98.8,233.6 99.2,233.8 99.6,234.1 100,234.4 100.4,234.6 100.8,234.9 101.2,235.1 101.6,235.2 101.9,235.2 102.3,235.3 102.7,235.3 103.1,235.3 103.5,235.2 103.9,235.2 104.3,235.1 104.7,235 105.1,234.8 105.5,234.6 105.9,234.4 106.3,234.2 106.7,233.9 107.1,233.5 107.5,233.2 107.9,232.9 108.3,232.7 108.7,232.6 109.1,232.5 109.5,232.6 109.9,232.7 110.3,232.9 110.7,233 111.1,233.2 111.5,233.3 111.9,233.3 112.3,233.3 112.7,233.1 113.1,233 113.5,232.8 113.9,232.7 114.3,232.7 114.7,232.7 115.1,232.8 115.5,232.9 115.9,232.9 116.3,232.8 116.7,232.7 117.1,232.4 117.5,232 117.9,231.3 118.3,230.5 118.7,229.4 119.1,228 119.5,226.5 119.9,225.2 120.3,224.7 120.7,225.1 121.1,226.1 121.5,227.1 121.9,227.8 122.3,228.2 122.7,228.3 123.1,228.2 123.5,227.8 123.9,227.4 124.3,226.9 124.7,226.6 125.1,226.4 125.5,226.2 125.9,225.9 126.3,225.4 126.7,224.8 127.1,223.9 127.5,222.9 127.9,221.5 128.3,220 128.7,218.4 129.1,216.6 129.5,214.9 129.9,213.4 130.3,212.3 130.7,211.4 131.1,210.9 131.4,210.5 131.8,210.1 132.2,209.6 132.6,208.7 133,207.6 133.4,206.4 133.8,205.2 134.2,204.3 134.6,203.9 135,204.3 135.4,205.4 135.8,207 136.2,208.9 136.6,210.8 137,212.6 137.4,214.1 137.8,215.3 138.2,216.3 138.6,217.3 139,218.3 139.4,219.3 139.8,220.4 140.2,221.5 140.6,222.5 141,223.2 141.4,223.8 141.8,224.1 142.2,224.4 142.6,224.7 143,225.3 143.4,226 143.8,226.9 144.2,227.7 144.6,228.4 145,229.1 145.4,229.6 145.8,230 146.2,230.3 146.6,230.6 147,230.8 147.4,231 147.8,231.1 148.2,231.2 148.6,231.3 149,231.4 149.4,231.4 149.8,231.4 150.2,231.4 150.6,231.4 151,231.3 151.4,231.2 151.8,231.2 152.2,231 152.6,230.9 153,230.7 153.4,230.4 153.8,230.2 154.2,229.8 154.6,229.3 155,228.8 155.4,228 155.8,227.1 156.2,225.8 156.6,224.2 157,222.1 157.4,219.4 157.8,216.5 158.2,213.9 158.6,212.6 159,213.3 159.4,215.5 159.8,218.3 160.2,220.8 160.6,222.7 161,224.2 161.3,225.3 161.7,226 162.1,226.5 162.5,226.7 162.9,226.8 163.3,226.8 163.7,226.6 164.1,226.2 164.5,225.8 164.9,225.3 165.3,224.7 165.7,224 166.1,223.3 166.5,222.7 166.9,222.1 167.3,221.5 167.7,221.1 168.1,220.6 168.5,220 168.9,219.3 169.3,218.5 169.7,217.4 170.1,216.1 170.5,214.6 170.9,213.1 171.3,211.6 171.7,210.2 172.1,209.1 172.5,208.2 172.9,207.4 173.3,206.5 173.7,205.4 174.1,204 174.5,202.2 174.9,199.9 175.3,197.5 175.7,195 176.1,192.9 176.5,191.5 176.9,191 177.3,191.6 177.7,193.1 178.1,195 178.5,196.9 178.9,198.5 179.3,199.5 179.7,200 180.1,199.9 180.5,199.6 180.9,199.5 181.3,200.4 181.7,202.3 182.1,205.1 182.5,208.4 182.9,211.7 183.3,214.7 183.7,217.2 184.1,219.4 184.5,221.2 184.9,222.7 185.3,224 185.7,225.2 186.1,226.3 186.5,227.3 186.9,228.3 187.3,229.2 187.7,230.1 188.1,230.8 188.5,231.5 188.9,232.1 189.3,232.6 189.7,233.1 190.1,233.5 190.5,233.9 190.9,234.2 191.2,234.5 191.6,234.8 192,235 192.4,235.3 192.8,235.5 193.2,235.7 193.6,235.8 194,236 194.4,236.2 194.8,236.3 195.2,236.4 195.6,236.6 196,236.7 196.4,236.8 196.8,236.9 197.2,237 197.6,237.1 198,237.2 198.4,237.3 198.8,237.4 199.2,237.4 199.6,237.5 200,237.6 200.4,237.7 200.8,237.7 201.2,237.8 201.6,237.8 202,237.9 202.4,237.9 202.8,238 203.2,238.1 203.6,238.1 204,238.1 204.4,238.2 204.8,238.2 205.2,238.3 205.6,238.3 206,238.4" fill="none" stroke="#45B9C6" stroke-width="1.2" stroke-linejoin="round" stroke-linecap="round" />
<polyline points="27,252.5 27.4,252.1 27.8,251.6 28.2,250.9 28.6,250.1 29,249.4 29.4,248.9 29.8,248.8 30.2,249.1 30.6,249.7 31,250.4 31.4,251 31.8,251.3 32.2,251.4 32.6,251.1 33,250.6 33.4,250 33.8,249.5 34.2,249.3 34.6,249.4 35,249.8 35.4,250.4 35.8,251.2 36.2,251.9 36.6,252.5 37,253 37.4,253.3 37.8,253.5 38.2,253.5 38.6,253.5 39,253.4 39.4,253.1 39.8,252.8 40.2,252.5 40.6,252 41,251.6 41.4,251.1 41.8,250.8 42.1,250.5 42.5,250.4 42.9,250.5 43.3,250.7 43.7,251.1 44.1,251.5 44.5,251.9 44.9,252.3 45.3,252.6 45.7,252.7 46.1,252.6 46.5,252.4 46.9,252.1 47.3,251.8 47.7,251.5 48.1,251.2 48.5,251.1 48.9,251.1 49.3,251.1 49.7,251.3 50.1,251.4 50.5,251.4 50.9,251.4 51.3,251.4 51.7,251.4 52.1,251.6 52.5,251.8 52.9,252.1 53.3,252.5 53.7,252.8 54.1,253.1 54.5,253.1 54.9,253.1 55.3,252.9 55.7,252.5 56.1,252.1 56.5,251.6 56.9,251.2 57.3,251 57.7,250.8 58.1,250.9 58.5,251.1 58.9,251.5 59.3,252 59.7,252.5 60.1,253 60.5,253.5 60.9,253.9 61.3,254.2 61.7,254.4 62.1,254.5 62.5,254.6 62.9,254.7 63.3,254.7 63.7,254.7 64.1,254.7 64.5,254.6 64.9,254.5 65.3,254.3 65.7,254.1 66.1,253.9 66.5,253.6 66.9,253.2 67.3,252.8 67.7,252.3 68.1,251.8 68.5,251.3 68.9,250.8 69.3,250.4 69.7,250 70.1,249.8 70.5,249.6 70.9,249.4 71.3,249.4 71.7,249.4 72,249.5 72.4,249.7 72.8,249.8 73.2,250 73.6,250.2 74,250.5 74.4,250.7 74.8,251 75.2,251.2 75.6,251.5 76,251.7 76.4,251.9 76.8,252.1 77.2,252.2 77.6,252.2 78,252.2 78.4,252.1 78.8,251.9 79.2,251.7 79.6,251.6 80,251.4 80.4,251.4 80.8,251.4 81.2,251.6 81.6,251.8 82,252.1 82.4,252.5 82.8,252.9 83.2,253.3 83.6,253.7 84,254 84.4,254.3 84.8,254.5 85.2,254.6 85.6,254.6 86,254.6 86.4,254.5 86.8,254.5 87.2,254.4 87.6,254.3 88,254.3 88.4,254.3 88.8,254.3 89.2,254.3 89.6,254.2 90,254.2 90.4,254.1 90.8,254 91.2,253.8 91.6,253.6 92,253.4 92.4,253.1 92.8,252.9 93.2,252.7 93.6,252.6 94,252.6 94.4,252.6 94.8,252.7 95.2,252.8 95.6,253 96,253.2 96.4,253.3 96.8,253.4 97.2,253.4 97.6,253.5 98,253.5 98.4,253.6 98.8,253.8 99.2,254 99.6,254.3 100,254.6 100.4,254.9 100.8,255.1 101.2,255.3 101.6,255.4 101.9,255.5 102.3,255.6 102.7,255.6 103.1,255.6 103.5,255.6 103.9,255.6 104.3,255.5 104.7,255.5 105.1,255.4 105.5,255.4 105.9,255.4 106.3,255.4 106.7,255.3 107.1,255.3 107.5,255.2 107.9,255.2 108.3,255.2 108.7,255.1 109.1,255.1 109.5,255 109.9,255 110.3,255 110.7,254.9 111.1,254.9 111.5,254.8 111.9,254.8 112.3,254.8 112.7,254.7 113.1,254.7 113.5,254.7 113.9,254.6 114.3,254.6 114.7,254.6 115.1,254.5 115.5,254.5 115.9,254.5 116.3,254.4 116.7,254.4 117.1,254.3 117.5,254.3 117.9,254.2 118.3,254.2 118.7,254.1 119.1,254 119.5,253.9 119.9,253.8 120.3,253.7 120.7,253.5 121.1,253.4 121.5,253.3 121.9,253.1 122.3,252.9 122.7,252.8 123.1,252.6 123.5,252.3 123.9,252.1 124.3,251.7 124.7,251.4 125.1,251 125.5,250.6 125.9,250.1 126.3,249.7 126.7,249.2 127.1,248.8 127.5,248.3 127.9,247.8 128.3,247.4 128.7,246.9 129.1,246.5 129.5,246 129.9,245.5 130.3,245 130.7,244.5 131.1,244 131.4,243.5 131.8,243 132.2,242.5 132.6,242 133,241.5 133.4,240.9 133.8,240.4 134.2,239.9 134.6,239.6 135,239.3 135.4,239.1 135.8,238.9 136.2,238.7 136.6,238.6 137,238.5 137.4,238.5 137.8,238.6 138.2,238.8 138.6,239 139,239.2 139.4,239.5 139.8,239.8 140.2,240.3 140.6,240.8 141,241.4 141.4,242 141.8,242.7 142.2,243.2 142.6,243.6 143,244 143.4,244.3 143.8,244.5 144.2,244.8 144.6,245 145,245.3 145.4,245.5 145.8,245.6 146.2,245.8 146.6,245.9 147,246.1 147.4,246.2 147.8,246.4 148.2,246.5 148.6,246.6 149,246.8 149.4,246.9 149.8,247 150.2,247.1 150.6,247.2 151,247.3 151.4,247.4 151.8,247.4 152.2,247.5 152.6,247.6 153,247.6 153.4,247.6 153.8,247.6 154.2,247.5 154.6,247.4 155,247.3 155.4,247.1 155.8,246.8 156.2,246.5 156.6,246.1 157,245.8 157.4,245.3 157.8,244.9 158.2,244.4 158.6,243.9 159,243.4 159.4,242.8 159.8,242.2 160.2,241.6 160.6,241 161,240.4 161.3,239.8 161.7,239 162.1,238 162.5,236.8 162.9,235.7 163.3,234.9 163.7,234.3 164.1,233.9 164.5,233.5 164.9,233.3 165.3,233.5 165.7,234.3 166.1,235.1 166.5,235.6 166.9,236 167.3,236.4 167.7,236.7 168.1,237 168.5,237.2 168.9,237.2 169.3,237.1 169.7,236.8 170.1,236.4 170.5,235.9 170.9,235.3 171.3,234.7 171.7,234.1 172.1,233.4 172.5,232.7 172.9,232.1 173.3,231.6 173.7,231.1 174.1,230.6 174.5,230.2 174.9,229.7 175.3,229.3 175.7,228.9 176.1,228.5 176.5,228.1 176.9,227.6 177.3,227.1 177.7,226.6 178.1,226.2 178.5,225.8 178.9,225.4 179.3,225.3 179.7,225.2 180.1,225.3 180.5,225.6 180.9,225.9 181.3,226.4 181.7,226.9 182.1,227.4 182.5,228 182.9,228.7 183.3,229.5 183.7,230.4 184.1,231.3 184.5,232.4 184.9,233.5 185.3,234.6 185.7,235.8 186.1,237.3 186.5,238.8 186.9,240.4 187.3,241.9 187.7,243.4 188.1,244.8 188.5,246 188.9,247 189.3,248 189.7,248.9 190.1,249.9 190.5,250.8 190.9,251.7 191.2,252.5 191.6,253.2 192,253.9 192.4,254.6 192.8,255.1 193.2,255.5 193.6,255.9 194,256.2 194.4,256.5 194.8,256.8 195.2,257 195.6,257.3 196,257.6 196.4,257.8 196.8,258.1 197.2,258.3 197.6,258.6 198,258.8 198.4,259 198.8,259.2 199.2,259.4 199.6,259.6 200,259.8 200.4,260 200.8,260.1 201.2,260.3 201.6,260.4 202,260.6 202.4,260.7 202.8,260.8 203.2,260.9 203.6,261 204,261.1 204.4,261.1 204.8,261.2 205.2,261.2 205.6,261.3 206,261.3" fill="none" stroke="#3A9EEB" stroke-width="1.2" stroke-linejoin="round" stroke-linecap="round" />
<polyline points="27,272.9 27.4,272.6 27.8,272 28.2,271.3 28.6,270.5 29,269.8 29.4,269.3 29.8,269.2 30.2,269.5 30.6,270.1 31,270.8 31.4,271.4 31.8,271.8 32.2,271.8 32.6,271.6 33,271.1 33.4,270.5 33.8,270 34.2,269.8 34.6,269.9 35,270.3 35.4,270.9 35.8,271.7 36.2,272.4 36.6,273.1 37,273.5 37.4,273.8 37.8,274 38.2,274.1 38.6,274 39,273.9 39.4,273.7 39.8,273.4 40.2,273 40.6,272.6 41,272.1 41.4,271.7 41.8,271.3 42.1,271.1 42.5,271 42.9,271 43.3,271.3 43.7,271.6 44.1,272.1 44.5,272.5 44.9,272.9 45.3,273.2 45.7,273.3 46.1,273.2 46.5,273 46.9,272.7 47.3,272.4 47.7,272 48.1,271.8 48.5,271.7 48.9,271.7 49.3,271.7 49.7,271.9 50.1,272 50.5,272 50.9,272 51.3,272 51.7,272 52.1,272.2 52.5,272.4 52.9,272.7 53.3,273.1 53.7,273.4 54.1,273.7 54.5,273.8 54.9,273.7 55.3,273.5 55.7,273.1 56.1,272.7 56.5,272.3 56.9,271.9 57.3,271.6 57.7,271.5 58.1,271.5 58.5,271.8 58.9,272.2 59.3,272.6 59.7,273.2 60.1,273.7 60.5,274.1 60.9,274.5 61.3,274.8 61.7,275.1 62.1,275.2 62.5,275.3 62.9,275.4 63.3,275.4 63.7,275.4 64.1,275.4 64.5,275.3 64.9,275.2 65.3,275.1 65.7,274.9 66.1,274.6 66.5,274.3 66.9,273.9 67.3,273.4 67.7,272.9 68.1,272.4 68.5,271.8 68.9,271.3 69.3,270.8 69.7,270.5 70.1,270.2 70.5,270 70.9,269.9 71.3,269.9 71.7,270 72,270.2 72.4,270.4 72.8,270.6 73.2,270.9 73.6,271.1 74,271.4 74.4,271.6 74.8,271.9 75.2,272.2 75.6,272.4 76,272.6 76.4,272.8 76.8,273 77.2,273.1 77.6,273.1 78,273 78.4,272.9 78.8,272.7 79.2,272.5 79.6,272.4 80,272.2 80.4,272.2 80.8,272.2 81.2,272.3 81.6,272.6 82,272.9 82.4,273.3 82.8,273.7 83.2,274.1 83.6,274.5 84,274.8 84.4,275.1 84.8,275.3 85.2,275.4 85.6,275.4 86,275.4 86.4,275.3 86.8,275.3 87.2,275.2 87.6,275.1 88,275.1 88.4,275.1 88.8,275.1 89.2,275.1 89.6,275 90,275 90.4,274.9 90.8,274.8 91.2,274.6 91.6,274.4 92,274.2 92.4,273.9 92.8,273.7 93.2,273.5 93.6,273.4 94,273.4 94.4,273.4 94.8,273.5 95.2,273.6 95.6,273.8 96,274 96.4,274.1 96.8,274.2 97.2,274.2 97.6,274.3 98,274.3 98.4,274.4 98.8,274.6 99.2,274.8 99.6,275.1 100,275.4 100.4,275.7 100.8,275.9 101.2,276.1 101.6,276.2 101.9,276.3 102.3,276.4 102.7,276.4 103.1,276.4 103.5,276.4 103.9,276.4 104.3,276.3 104.7,276.3 105.1,276.2 105.5,276.2 105.9,276.2 106.3,276.2 106.7,276.1 107.1,276.1 107.5,276 107.9,276 108.3,276 108.7,275.9 109.1,275.9 109.5,275.8 109.9,275.8 110.3,275.8 110.7,275.7 111.1,275.7 111.5,275.6 111.9,275.6 112.3,275.6 112.7,275.5 113.1,275.5 113.5,275.5 113.9,275.4 114.3,275.4 114.7,275.4 115.1,275.3 115.5,275.3 115.9,275.3 116.3,275.2 116.7,275.2 117.1,275.1 117.5,275.1 117.9,275 118.3,275 118.7,274.9 119.1,274.8 119.5,274.7 119.9,274.6 120.3,274.5 120.7,274.3 121.1,274.2 121.5,274.1 121.9,273.9 122.3,273.7 122.7,273.6 123.1,273.4 123.5,273.1 123.9,272.8 124.3,272.5 124.7,272.1 125.1,271.7 125.5,271.2 125.9,270.8 126.3,270.3 126.7,269.8 127.1,269.3 127.5,268.8 127.9,268.3 128.3,267.8 128.7,267.3 129.1,266.8 129.5,266.2 129.9,265.7 130.3,265.1 130.7,264.6 131.1,264 131.4,263.5 131.8,262.9 132.2,262.4 132.6,261.8 133,261.2 133.4,260.6 133.8,260.1 134.2,259.6 134.6,259.2 135,258.9 135.4,258.7 135.8,258.5 136.2,258.3 136.6,258.2 137,258.2 137.4,258.3 137.8,258.4 138.2,258.7 138.6,258.9 139,259.2 139.4,259.6 139.8,260 140.2,260.6 140.6,261.2 141,261.9 141.4,262.6 141.8,263.2 142.2,263.7 142.6,264.1 143,264.5 143.4,264.9 143.8,265.3 144.2,265.6 144.6,265.9 145,266.2 145.4,266.5 145.8,266.7 146.2,267 146.6,267.2 147,267.5 147.4,267.7 147.8,268 148.2,268.2 148.6,268.4 149,268.7 149.4,268.9 149.8,269.1 150.2,269.3 150.6,269.5 151,269.6 151.4,269.7 151.8,269.9 152.2,270 152.6,270 153,270.1 153.4,270.1 153.8,270.1 154.2,270 154.6,269.8 155,269.6 155.4,269.4 155.8,269.1 156.2,268.7 156.6,268.3 157,267.8 157.4,267.3 157.8,266.8 158.2,266.2 158.6,265.6 159,265 159.4,264.4 159.8,263.7 160.2,263 160.6,262.4 161,261.7 161.3,260.8 161.7,259.5 162.1,258.1 162.5,256.9 162.9,256 163.3,255.4 163.7,255 164.1,254.6 164.5,254.5 164.9,254.9 165.3,255.7 165.7,256.4 166.1,257 166.5,257.5 166.9,258 167.3,258.5 167.7,258.8 168.1,259 168.5,259.1 168.9,259 169.3,258.7 169.7,258.2 170.1,257.6 170.5,257 170.9,256.2 171.3,255.4 171.7,254.6 172.1,253.7 172.5,252.9 172.9,252.1 173.3,251.3 173.7,250.6 174.1,249.9 174.5,249.1 174.9,248.3 175.3,247.6 175.7,246.8 176.1,246.2 176.5,245.6 176.9,245.1 177.3,244.5 177.7,244 178.1,243.5 178.5,243.1 178.9,242.8 179.3,242.7 179.7,242.8 180.1,243 180.5,243.4 180.9,243.9 181.3,244.5 181.7,245.1 182.1,245.7 182.5,246.5 182.9,247.4 183.3,248.5 183.7,249.6 184.1,250.8 184.5,252 184.9,253.3 185.3,254.8 185.7,256.4 186.1,258.1 186.5,259.9 186.9,261.6 187.3,263.1 187.7,264.6 188.1,265.7 188.5,266.8 188.9,267.8 189.3,268.8 189.7,269.7 190.1,270.6 190.5,271.5 190.9,272.3 191.2,273 191.6,273.7 192,274.3 192.4,274.9 192.8,275.3 193.2,275.7 193.6,276 194,276.3 194.4,276.6 194.8,276.9 195.2,277.2 195.6,277.5 196,277.8 196.4,278 196.8,278.3 197.2,278.5 197.6,278.8 198,279 198.4,279.2 198.8,279.4 199.2,279.7 199.6,279.8 200,280 200.4,280.2 200.8,280.4 201.2,280.5 201.6,280.7 202,280.8 202.4,281 202.8,281.1 203.2,281.2 203.6,281.3 204,281.4 204.4,281.4 204.8,281.5 205.2,281.5 205.6,281.6 206,281.6" fill="none" stroke="#3994E8" stroke-width="1.2" stroke-linejoin="round" stroke-linecap="round" />
<polyline points="27,285.5 27.4,285.3 27.8,284.8 28.2,284.2 28.6,283.4 29,282.8 29.4,282.4 29.8,282.3 30.2,282.7 30.6,283.3 31,284 31.4,284.7 31.8,285.1 32.2,285.2 32.6,284.9 33,284.5 33.4,283.9 33.8,283.5 34.2,283.3 34.6,283.4 35,283.9 35.4,284.6 35.8,285.4 36.2,286.1 36.6,286.8 37,287.3 37.4,287.6 37.8,287.8 38.2,287.9 38.6,287.9 39,287.8 39.4,287.6 39.8,287.4 40.2,287 40.6,286.6 41,286.2 41.4,285.8 41.8,285.4 42.1,285.2 42.5,285.2 42.9,285.3 43.3,285.5 43.7,285.9 44.1,286.4 44.5,286.8 44.9,287.3 45.3,287.5 45.7,287.7 46.1,287.7 46.5,287.5 46.9,287.2 47.3,286.9 47.7,286.6 48.1,286.4 48.5,286.3 48.9,286.3 49.3,286.4 49.7,286.5 50.1,286.7 50.5,286.7 50.9,286.8 51.3,286.8 51.7,286.9 52.1,287 52.5,287.3 52.9,287.6 53.3,288 53.7,288.4 54.1,288.6 54.5,288.8 54.9,288.7 55.3,288.5 55.7,288.2 56.1,287.8 56.5,287.4 56.9,287 57.3,286.7 57.7,286.6 58.1,286.7 58.5,287 58.9,287.4 59.3,287.9 59.7,288.5 60.1,289 60.5,289.5 60.9,289.9 61.3,290.2 61.7,290.5 62.1,290.6 62.5,290.8 62.9,290.9 63.3,290.9 63.7,290.9 64.1,290.9 64.5,290.9 64.9,290.8 65.3,290.7 65.7,290.6 66.1,290.3 66.5,290 66.9,289.6 67.3,289.1 67.7,288.6 68.1,288 68.5,287.4 68.9,286.9 69.3,286.4 69.7,286 70.1,285.7 70.5,285.5 70.9,285.5 71.3,285.6 71.7,285.8 72,286.1 72.4,286.4 72.8,286.7 73.2,287 73.6,287.3 74,287.6 74.4,287.9 74.8,288.2 75.2,288.5 75.6,288.7 76,288.9 76.4,289.1 76.8,289.3 77.2,289.4 77.6,289.4 78,289.3 78.4,289.2 78.8,289.1 79.2,288.9 79.6,288.7 80,288.6 80.4,288.6 80.8,288.6 81.2,288.8 81.6,289 82,289.4 82.4,289.8 82.8,290.2 83.2,290.6 83.6,291 84,291.4 84.4,291.7 84.8,291.9 85.2,292 85.6,292 86,292 86.4,292 86.8,292 87.2,291.9 87.6,291.8 88,291.8 88.4,291.8 88.8,291.8 89.2,291.8 89.6,291.7 90,291.7 90.4,291.6 90.8,291.5 91.2,291.3 91.6,291.1 92,290.9 92.4,290.6 92.8,290.4 93.2,290.2 93.6,290.1 94,290.1 94.4,290.1 94.8,290.2 95.2,290.3 95.6,290.5 96,290.7 96.4,290.8 96.8,290.9 97.2,290.9 97.6,291 98,291 98.4,291.1 98.8,291.3 99.2,291.5 99.6,291.8 100,292.1 100.4,292.4 100.8,292.6 101.2,292.8 101.6,292.9 101.9,293 102.3,293.1 102.7,293.1 103.1,293.1 103.5,293.1 103.9,293.1 104.3,293 104.7,293 105.1,292.9 105.5,292.9 105.9,292.9 106.3,292.9 106.7,292.8 107.1,292.8 107.5,292.7 107.9,292.7 108.3,292.7 108.7,292.6 109.1,292.6 109.5,292.5 109.9,292.5 110.3,292.5 110.7,292.4 111.1,292.4 111.5,292.3 111.9,292.3 112.3,292.3 112.7,292.2 113.1,292.2 113.5,292.2 113.9,292.1 114.3,292.1 114.7,292.1 115.1,292 115.5,292 115.9,292 116.3,291.9 116.7,291.9 117.1,291.8 117.5,291.8 117.9,291.7 118.3,291.7 118.7,291.6 119.1,291.5 119.5,291.4 119.9,291.3 120.3,291.2 120.7,291.1 121.1,290.9 121.5,290.8 121.9,290.6 122.3,290.5 122.7,290.3 123.1,290.1 123.5,289.8 123.9,289.4 124.3,288.9 124.7,288.4 125.1,287.8 125.5,287.2 125.9,286.5 126.3,285.8 126.7,285.1 127.1,284.4 127.5,283.6 127.9,282.9 128.3,282.2 128.7,281.6 129.1,280.9 129.5,280.2 129.9,279.4 130.3,278.7 130.7,277.9 131.1,277.2 131.4,276.4 131.8,275.7 132.2,275 132.6,274.2 133,273.4 133.4,272.6 133.8,271.9 134.2,271.3 134.6,270.8 135,270.5 135.4,270.2 135.8,270 136.2,269.8 136.6,269.7 137,269.8 137.4,269.9 137.8,270.2 138.2,270.6 138.6,271 139,271.4 139.4,271.9 139.8,272.7 140.2,273.5 140.6,274.4 141,275.4 141.4,276.2 141.8,276.9 142.2,277.6 142.6,278.2 143,278.8 143.4,279.4 143.8,279.9 144.2,280.5 144.6,280.9 145,281.4 145.4,281.8 145.8,282.2 146.2,282.7 146.6,283.1 147,283.5 147.4,283.9 147.8,284.4 148.2,284.8 148.6,285.1 149,285.5 149.4,285.9 149.8,286.2 150.2,286.5 150.6,286.8 151,287.1 151.4,287.3 151.8,287.5 152.2,287.6 152.6,287.7 153,287.8 153.4,287.8 153.8,287.7 154.2,287.5 154.6,287.3 155,286.9 155.4,286.5 155.8,285.9 156.2,285.3 156.6,284.7 157,283.9 157.4,283.1 157.8,282.3 158.2,281.4 158.6,280.4 159,279.5 159.4,278.4 159.8,277.4 160.2,276.3 160.6,275.2 161,273.8 161.3,271.8 161.7,269.5 162.1,267.5 162.5,266.3 162.9,265.5 163.3,264.9 163.7,264.5 164.1,264.5 164.5,265.1 164.9,266.1 165.3,267.3 165.7,268.9 166.1,271 166.5,273.4 166.9,275.8 167.3,277.7 167.7,279 168.1,279.4 168.5,279.3 168.9,279 169.3,278.5 169.7,277.9 170.1,277.2 170.5,276.4 170.9,275.6 171.3,274.7 171.7,273.7 172.1,272.7 172.5,271.7 172.9,270.8 173.3,269.9 173.7,269 174.1,267.9 174.5,266.8 174.9,265.6 175.3,264.5 175.7,263.5 176.1,262.8 176.5,262.2 176.9,261.5 177.3,261 177.7,260.4 178.1,260 178.5,259.7 178.9,259.5 179.3,259.5 179.7,259.7 180.1,260.1 180.5,260.6 180.9,261.2 181.3,261.8 181.7,262.4 182.1,263.2 182.5,264.2 182.9,265.2 183.3,266.4 183.7,267.7 184.1,268.9 184.5,270.3 184.9,271.9 185.3,273.7 185.7,275.6 186.1,277.5 186.5,279.3 186.9,280.9 187.3,282.3 187.7,283.4 188.1,284.4 188.5,285.4 188.9,286.4 189.3,287.3 189.7,288.1 190.1,289 190.5,289.7 190.9,290.5 191.2,291.1 191.6,291.7 192,292.2 192.4,292.7 192.8,293.1 193.2,293.4 193.6,293.7 194,294 194.4,294.3 194.8,294.6 195.2,294.9 195.6,295.2 196,295.5 196.4,295.7 196.8,296 197.2,296.2 197.6,296.5 198,296.7 198.4,296.9 198.8,297.1 199.2,297.3 199.6,297.5 200,297.7 200.4,297.9 200.8,298.1 201.2,298.2 201.6,298.4 202,298.5 202.4,298.7 202.8,298.8 203.2,298.9 203.6,299 204,299.1 204.4,299.1 204.8,299.2 205.2,299.2 205.6,299.3 206,299.3" fill="none" stroke="#3A8AE4" stroke-width="1.2" stroke-linejoin="round" stroke-linecap="round" />
<polyline points="27,307.8 27.4,307.5 27.8,307.1 28.2,306.4 28.6,305.6 29,305 29.4,304.6 29.8,304.5 30.2,304.8 30.6,305.5 31,306.2 31.4,306.8 31.8,307.2 32.2,307.3 32.6,307 33,306.6 33.4,306 33.8,305.6 34.2,305.4 34.6,305.5 35,306 35.4,306.6 35.8,307.4 36.2,308.2 36.6,308.8 37,309.3 37.4,309.6 37.8,309.8 38.2,309.9 38.6,309.9 39,309.8 39.4,309.6 39.8,309.3 40.2,309 40.6,308.6 41,308.1 41.4,307.7 41.8,307.4 42.1,307.1 42.5,307.1 42.9,307.2 43.3,307.4 43.7,307.8 44.1,308.3 44.5,308.7 44.9,309.1 45.3,309.4 45.7,309.5 46.1,309.5 46.5,309.3 46.9,309.1 47.3,308.7 47.7,308.4 48.1,308.2 48.5,308.1 48.9,308.1 49.3,308.2 49.7,308.3 50.1,308.4 50.5,308.5 50.9,308.5 51.3,308.6 51.7,308.6 52.1,308.8 52.5,309 52.9,309.4 53.3,309.7 53.7,310.1 54.1,310.4 54.5,310.5 54.9,310.4 55.3,310.2 55.7,309.9 56.1,309.5 56.5,309.1 56.9,308.7 57.3,308.4 57.7,308.3 58.1,308.4 58.5,308.7 58.9,309.1 59.3,309.6 59.7,310.1 60.1,310.6 60.5,311.1 60.9,311.5 61.3,311.8 61.7,312.1 62.1,312.3 62.5,312.4 62.9,312.5 63.3,312.5 63.7,312.6 64.1,312.6 64.5,312.5 64.9,312.5 65.3,312.4 65.7,312.2 66.1,312 66.5,311.6 66.9,311.2 67.3,310.7 67.7,310.1 68.1,309.5 68.5,308.8 68.9,308.2 69.3,307.6 69.7,307.2 70.1,306.9 70.5,306.7 70.9,306.8 71.3,306.9 71.7,307.2 72,307.5 72.4,307.9 72.8,308.3 73.2,308.7 73.6,309 74,309.3 74.4,309.6 74.8,309.9 75.2,310.1 75.6,310.3 76,310.5 76.4,310.7 76.8,310.8 77.2,310.9 77.6,310.9 78,310.8 78.4,310.7 78.8,310.5 79.2,310.3 79.6,310.1 80,310 80.4,310 80.8,310 81.2,310.1 81.6,310.4 82,310.7 82.4,311.1 82.8,311.5 83.2,312 83.6,312.4 84,312.7 84.4,313 84.8,313.2 85.2,313.3 85.6,313.4 86,313.4 86.4,313.3 86.8,313.3 87.2,313.2 87.6,313.1 88,313.1 88.4,313.1 88.8,313.1 89.2,313.1 89.6,313 90,313 90.4,312.9 90.8,312.8 91.2,312.6 91.6,312.4 92,312.2 92.4,311.9 92.8,311.7 93.2,311.5 93.6,311.4 94,311.4 94.4,311.4 94.8,311.5 95.2,311.6 95.6,311.8 96,312 96.4,312.1 96.8,312.2 97.2,312.2 97.6,312.3 98,312.3 98.4,312.4 98.8,312.6 99.2,312.8 99.6,313.1 100,313.4 100.4,313.7 100.8,313.9 101.2,314.1 101.6,314.2 101.9,314.3 102.3,314.4 102.7,314.4 103.1,314.4 103.5,314.4 103.9,314.4 104.3,314.3 104.7,314.3 105.1,314.2 105.5,314.2 105.9,314.2 106.3,314.2 106.7,314.1 107.1,314.1 107.5,314 107.9,314 108.3,314 108.7,313.9 109.1,313.9 109.5,313.8 109.9,313.8 110.3,313.8 110.7,313.7 111.1,313.7 111.5,313.6 111.9,313.6 112.3,313.6 112.7,313.5 113.1,313.5 113.5,313.5 113.9,313.4 114.3,313.4 114.7,313.4 115.1,313.3 115.5,313.3 115.9,313.3 116.3,313.2 116.7,313.2 117.1,313.1 117.5,313.1 117.9,313 118.3,313 118.7,312.9 119.1,312.8 119.5,312.7 119.9,312.6 120.3,312.5 120.7,312.4 121.1,312.2 121.5,312.1 121.9,311.9 122.3,311.8 122.7,311.6 123.1,311.4 123.5,311.1 123.9,310.6 124.3,310.1 124.7,309.5 125.1,308.8 125.5,308.1 125.9,307.3 126.3,306.5 126.7,305.6 127.1,304.8 127.5,303.9 127.9,303.1 128.3,302.3 128.7,301.5 129.1,300.7 129.5,299.9 129.9,299 130.3,298.1 130.7,297.2 131.1,296.3 131.4,295.4 131.8,294.6 132.2,293.7 132.6,292.8 133,291.8 133.4,290.9 133.8,290.1 134.2,289.5 134.6,289 135,288.7 135.4,288.3 135.8,288.1 136.2,287.9 136.6,287.9 137,288.1 137.4,288.4 137.8,288.8 138.2,289.3 138.6,289.7 139,290.4 139.4,291.2 139.8,292.2 140.2,293.2 140.6,294.3 141,295.3 141.4,296.2 141.8,297 142.2,297.9 142.6,298.7 143,299.4 143.4,300.2 143.8,300.8 144.2,301.5 144.6,302 145,302.6 145.4,303.2 145.8,303.7 146.2,304.3 146.6,304.8 147,305.4 147.4,305.9 147.8,306.5 148.2,307 148.6,307.5 149,307.9 149.4,308.4 149.8,308.8 150.2,309.2 150.6,309.5 151,309.8 151.4,310.1 151.8,310.3 152.2,310.4 152.6,310.5 153,310.6 153.4,310.6 153.8,310.4 154.2,310.1 154.6,309.7 155,309.2 155.4,308.6 155.8,307.9 156.2,307.1 156.6,306.2 157,305.2 157.4,304.1 157.8,303 158.2,301.8 158.6,300.5 159,299.2 159.4,297.9 159.8,296.5 160.2,295.1 160.6,293.3 161,290.7 161.3,287.7 161.7,285.1 162.1,283.6 162.5,282.7 162.9,282 163.3,281.6 163.7,281.8 164.1,282.7 164.5,284 164.9,285.6 165.3,287.9 165.7,291 166.1,294.3 166.5,297.6 166.9,300.3 167.3,302.1 167.7,302.6 168.1,302.5 168.5,302.2 168.9,301.9 169.3,301.3 169.7,300.7 170.1,300 170.5,299.3 170.9,298.4 171.3,297.5 171.7,296.6 172.1,295.7 172.5,294.7 172.9,293.8 173.3,292.9 173.7,292 174.1,290.8 174.5,289.6 174.9,288.3 175.3,287.1 175.7,286.2 176.1,285.5 176.5,284.8 176.9,284.2 177.3,283.7 177.7,283.2 178.1,282.9 178.5,282.7 178.9,282.6 179.3,282.7 179.7,283.1 180.1,283.5 180.5,284.1 180.9,284.7 181.3,285.3 181.7,286.1 182.1,287 182.5,288 182.9,289.2 183.3,290.4 183.7,291.7 184.1,293.1 184.5,294.7 184.9,296.5 185.3,298.4 185.7,300.3 186.1,302.1 186.5,303.6 186.9,304.8 187.3,305.8 187.7,306.7 188.1,307.6 188.5,308.5 188.9,309.3 189.3,310.1 189.7,310.8 190.1,311.5 190.5,312.1 190.9,312.7 191.2,313.3 191.6,313.8 192,314.2 192.4,314.6 192.8,314.9 193.2,315.2 193.6,315.4 194,315.7 194.4,316 194.8,316.3 195.2,316.5 195.6,316.8 196,317 196.4,317.3 196.8,317.5 197.2,317.7 197.6,318 198,318.2 198.4,318.4 198.8,318.6 199.2,318.8 199.6,319 200,319.1 200.4,319.3 200.8,319.5 201.2,319.6 201.6,319.7 202,319.9 202.4,320 202.8,320.1 203.2,320.2 203.6,320.3 204,320.4 204.4,320.4 204.8,320.5 205.2,320.5 205.6,320.6 206,320.6" fill="none" stroke="#3D80E0" stroke-width="1.2" stroke-linejoin="round" stroke-linecap="round" />
<polyline points="27,333.8 27.4,333.5 27.8,333 28.2,332.3 28.6,331.5 29,330.8 29.4,330.4 29.8,330.3 30.2,330.6 30.6,331.2 31,331.9 31.4,332.5 31.8,332.9 32.2,333 32.6,332.7 33,332.2 33.4,331.6 33.8,331.2 34.2,331 34.6,331.1 35,331.5 35.4,332.1 35.8,332.9 36.2,333.7 36.6,334.3 37,334.8 37.4,335.1 37.8,335.3 38.2,335.3 38.6,335.3 39,335.2 39.4,335 39.8,334.7 40.2,334.3 40.6,333.9 41,333.4 41.4,333 41.8,332.7 42.1,332.4 42.5,332.3 42.9,332.4 43.3,332.7 43.7,333 44.1,333.5 44.5,333.9 44.9,334.3 45.3,334.6 45.7,334.7 46.1,334.7 46.5,334.5 46.9,334.2 47.3,333.8 47.7,333.5 48.1,333.3 48.5,333.2 48.9,333.2 49.3,333.2 49.7,333.4 50.1,333.5 50.5,333.5 50.9,333.5 51.3,333.5 51.7,333.6 52.1,333.7 52.5,334 52.9,334.3 53.3,334.7 53.7,335 54.1,335.3 54.5,335.4 54.9,335.3 55.3,335.1 55.7,334.8 56.1,334.3 56.5,333.9 56.9,333.5 57.3,333.2 57.7,333.1 58.1,333.2 58.5,333.4 58.9,333.8 59.3,334.3 59.7,334.9 60.1,335.4 60.5,335.8 60.9,336.2 61.3,336.6 61.7,336.8 62.1,337 62.5,337.1 62.9,337.2 63.3,337.2 63.7,337.2 64.1,337.2 64.5,337.2 64.9,337.1 65.3,337 65.7,336.9 66.1,336.6 66.5,336.3 66.9,335.9 67.3,335.3 67.7,334.7 68.1,334 68.5,333.2 68.9,332.5 69.3,331.9 69.7,331.4 70.1,331.1 70.5,330.9 70.9,331 71.3,331.2 71.7,331.5 72,332 72.4,332.4 72.8,332.9 73.2,333.3 73.6,333.6 74,334 74.4,334.2 74.8,334.5 75.2,334.7 75.6,334.9 76,335 76.4,335.2 76.8,335.3 77.2,335.3 77.6,335.3 78,335.2 78.4,335 78.8,334.8 79.2,334.6 79.6,334.4 80,334.3 80.4,334.2 80.8,334.2 81.2,334.4 81.6,334.6 82,334.9 82.4,335.3 82.8,335.7 83.2,336.1 83.6,336.5 84,336.9 84.4,337.1 84.8,337.3 85.2,337.4 85.6,337.5 86,337.5 86.4,337.4 86.8,337.4 87.2,337.3 87.6,337.2 88,337.2 88.4,337.2 88.8,337.2 89.2,337.2 89.6,337.1 90,337.1 90.4,337 90.8,336.9 91.2,336.7 91.6,336.5 92,336.3 92.4,336 92.8,335.8 93.2,335.6 93.6,335.5 94,335.5 94.4,335.5 94.8,335.6 95.2,335.7 95.6,335.9 96,336.1 96.4,336.2 96.8,336.3 97.2,336.3 97.6,336.4 98,336.4 98.4,336.5 98.8,336.7 99.2,336.9 99.6,337.2 100,337.5 100.4,337.8 100.8,338 101.2,338.2 101.6,338.3 101.9,338.4 102.3,338.5 102.7,338.5 103.1,338.5 103.5,338.5 103.9,338.5 104.3,338.4 104.7,338.4 105.1,338.3 105.5,338.3 105.9,338.3 106.3,338.3 106.7,338.2 107.1,338.2 107.5,338.1 107.9,338.1 108.3,338.1 108.7,338 109.1,338 109.5,337.9 109.9,337.9 110.3,337.9 110.7,337.8 111.1,337.8 111.5,337.7 111.9,337.7 112.3,337.7 112.7,337.6 113.1,337.6 113.5,337.6 113.9,337.5 114.3,337.5 114.7,337.5 115.1,337.4 115.5,337.4 115.9,337.4 116.3,337.3 116.7,337.3 117.1,337.2 117.5,337.2 117.9,337.1 118.3,337.1 118.7,337 119.1,336.9 119.5,336.8 119.9,336.7 120.3,336.6 120.7,336.5 121.1,336.4 121.5,336.2 121.9,336 122.3,335.9 122.7,335.7 123.1,335.5 123.5,335.1 123.9,334.7 124.3,334.1 124.7,333.4 125.1,332.6 125.5,331.7 125.9,330.8 126.3,329.8 126.7,328.8 127.1,327.7 127.5,326.7 127.9,325.7 128.3,324.7 128.7,323.8 129.1,322.8 129.5,321.8 129.9,320.7 130.3,319.7 130.7,318.6 131.1,317.5 131.4,316.4 131.8,315.4 132.2,314.3 132.6,313.2 133,312 133.4,311 133.8,310.1 134.2,309.4 134.6,308.9 135,308.5 135.4,308.1 135.8,307.9 136.2,307.8 136.6,307.9 137,308.3 137.4,308.7 137.8,309.3 138.2,309.8 138.6,310.6 139,311.6 139.4,312.7 139.8,314 140.2,315.3 140.6,316.5 141,317.6 141.4,318.6 141.8,319.5 142.2,320.5 142.6,321.4 143,322.3 143.4,323 143.8,323.7 144.2,324.4 144.6,325 145,325.6 145.4,326.2 145.8,326.8 146.2,327.4 146.6,328 147,328.6 147.4,329.2 147.8,329.7 148.2,330.2 148.6,330.7 149,331.2 149.4,331.6 149.8,332 150.2,332.4 150.6,332.7 151,333 151.4,333.3 151.8,333.4 152.2,333.6 152.6,333.7 153,333.7 153.4,333.6 153.8,333.4 154.2,333.1 154.6,332.6 155,332 155.4,331.3 155.8,330.5 156.2,329.6 156.6,328.6 157,327.5 157.4,326.4 157.8,325.2 158.2,323.9 158.6,322.6 159,321.2 159.4,319.8 159.8,318.3 160.2,316.5 160.6,313.8 161,310.7 161.3,308.1 161.7,306.7 162.1,305.7 162.5,305 162.9,304.7 163.3,305.1 163.7,306.3 164.1,307.8 164.5,309.5 164.9,312 165.3,315 165.7,318.2 166.1,321.1 166.5,323.6 166.9,325.2 167.3,325.7 167.7,325.6 168.1,325.5 168.5,325.2 168.9,324.8 169.3,324.4 169.7,323.9 170.1,323.3 170.5,322.7 170.9,322.1 171.3,321.4 171.7,320.7 172.1,320 172.5,319.3 172.9,318.5 173.3,317.9 173.7,317.1 174.1,316.2 174.5,315.3 174.9,314.3 175.3,313.4 175.7,312.7 176.1,312.1 176.5,311.5 176.9,311 177.3,310.5 177.7,310.1 178.1,309.8 178.5,309.7 178.9,309.8 179.3,310 179.7,310.4 180.1,310.9 180.5,311.5 180.9,312.1 181.3,312.8 181.7,313.6 182.1,314.6 182.5,315.7 182.9,316.9 183.3,318.1 183.7,319.4 184.1,321 184.5,322.7 184.9,324.4 185.3,326.1 185.7,327.7 186.1,329 186.5,329.9 186.9,330.7 187.3,331.5 187.7,332.3 188.1,333 188.5,333.7 188.9,334.3 189.3,334.9 189.7,335.5 190.1,336 190.5,336.5 190.9,337 191.2,337.4 191.6,337.7 192,338.1 192.4,338.3 192.8,338.6 193.2,338.8 193.6,339.1 194,339.3 194.4,339.6 194.8,339.8 195.2,340 195.6,340.2 196,340.4 196.4,340.6 196.8,340.8 197.2,341 197.6,341.2 198,341.4 198.4,341.6 198.8,341.8 199.2,341.9 199.6,342.1 200,342.2 200.4,342.4 200.8,342.5 201.2,342.6 201.6,342.8 202,342.9 202.4,343 202.8,343.1 203.2,343.2 203.6,343.2 204,343.3 204.4,343.4 204.8,343.4 205.2,343.4 205.6,343.5 206,343.5" fill="none" stroke="#4478DC" stroke-width="1.2" stroke-linejoin="round" stroke-linecap="round" />
<polyline points="27,354.2 27.4,354 27.8,353.5 28.2,352.8 28.6,352.1 29,351.4 29.4,351 29.8,350.9 30.2,351.3 30.6,351.9 31,352.6 31.4,353.3 31.8,353.7 32.2,353.8 32.6,353.5 33,353 33.4,352.5 33.8,352 34.2,351.9 34.6,352 35,352.4 35.4,353.1 35.8,353.9 36.2,354.6 36.6,355.3 37,355.8 37.4,356.1 37.8,356.3 38.2,356.4 38.6,356.4 39,356.3 39.4,356.1 39.8,355.8 40.2,355.5 40.6,355.1 41,354.6 41.4,354.2 41.8,353.9 42.1,353.7 42.5,353.6 42.9,353.7 43.3,354 43.7,354.3 44.1,354.8 44.5,355.3 44.9,355.6 45.3,355.9 45.7,356.1 46.1,356 46.5,355.9 46.9,355.6 47.3,355.3 47.7,355 48.1,354.7 48.5,354.6 48.9,354.6 49.3,354.7 49.7,354.9 50.1,355 50.5,355.1 50.9,355.1 51.3,355.1 51.7,355.2 52.1,355.3 52.5,355.6 52.9,355.9 53.3,356.3 53.7,356.7 54.1,356.9 54.5,357 54.9,357 55.3,356.8 55.7,356.5 56.1,356.1 56.5,355.6 56.9,355.3 57.3,355 57.7,354.9 58.1,355 58.5,355.2 58.9,355.7 59.3,356.2 59.7,356.7 60.1,357.2 60.5,357.7 60.9,358.1 61.3,358.4 61.7,358.7 62.1,358.9 62.5,359 62.9,359.1 63.3,359.2 63.7,359.2 64.1,359.2 64.5,359.2 64.9,359.2 65.3,359.1 65.7,359 66.1,358.8 66.5,358.4 66.9,358 67.3,357.5 67.7,356.8 68.1,356.1 68.5,355.3 68.9,354.5 69.3,353.8 69.7,353.2 70.1,352.9 70.5,352.8 70.9,352.9 71.3,353.2 71.7,353.7 72,354.2 72.4,354.7 72.8,355.3 73.2,355.7 73.6,356.1 74,356.5 74.4,356.7 74.8,357 75.2,357.2 75.6,357.4 76,357.5 76.4,357.6 76.8,357.7 77.2,357.7 77.6,357.7 78,357.6 78.4,357.4 78.8,357.2 79.2,357 79.6,356.8 80,356.7 80.4,356.6 80.8,356.7 81.2,356.8 81.6,357.1 82,357.4 82.4,357.8 82.8,358.2 83.2,358.7 83.6,359.1 84,359.4 84.4,359.7 84.8,359.9 85.2,360 85.6,360.1 86,360.1 86.4,360 86.8,360 87.2,359.9 87.6,359.8 88,359.8 88.4,359.8 88.8,359.8 89.2,359.8 89.6,359.7 90,359.7 90.4,359.6 90.8,359.5 91.2,359.3 91.6,359.1 92,358.9 92.4,358.6 92.8,358.4 93.2,358.2 93.6,358.1 94,358.1 94.4,358.1 94.8,358.2 95.2,358.3 95.6,358.5 96,358.7 96.4,358.8 96.8,358.9 97.2,358.9 97.6,359 98,359 98.4,359.1 98.8,359.3 99.2,359.5 99.6,359.8 100,360.1 100.4,360.4 100.8,360.6 101.2,360.8 101.6,360.9 101.9,361 102.3,361.1 102.7,361.1 103.1,361.1 103.5,361.1 103.9,361.1 104.3,361 104.7,361 105.1,360.9 105.5,360.9 105.9,360.9 106.3,360.9 106.7,360.8 107.1,360.8 107.5,360.7 107.9,360.7 108.3,360.7 108.7,360.6 109.1,360.6 109.5,360.5 109.9,360.5 110.3,360.5 110.7,360.4 111.1,360.4 111.5,360.3 111.9,360.3 112.3,360.3 112.7,360.2 113.1,360.2 113.5,360.2 113.9,360.1 114.3,360.1 114.7,360.1 115.1,360 115.5,360 115.9,360 116.3,359.9 116.7,359.9 117.1,359.8 117.5,359.8 117.9,359.7 118.3,359.7 118.7,359.6 119.1,359.5 119.5,359.4 119.9,359.3 120.3,359.2 120.7,359.1 121.1,359 121.5,358.8 121.9,358.6 122.3,358.5 122.7,358.3 123.1,358.1 123.5,357.7 123.9,357.3 124.3,356.7 124.7,356 125.1,355.2 125.5,354.4 125.9,353.4 126.3,352.5 126.7,351.5 127.1,350.4 127.5,349.4 127.9,348.4 128.3,347.4 128.7,346.4 129.1,345.4 129.5,344.4 129.9,343.3 130.3,342.1 130.7,341 131.1,339.9 131.4,338.7 131.8,337.7 132.2,336.5 132.6,335.3 133,334.1 133.4,333 133.8,332.2 134.2,331.6 134.6,331.1 135,330.7 135.4,330.4 135.8,330.2 136.2,330.3 136.6,330.5 137,331 137.4,331.5 137.8,332.2 138.2,332.9 138.6,333.9 139,335.1 139.4,336.4 139.8,337.8 140.2,339.1 140.6,340.2 141,341.3 141.4,342.3 141.8,343.4 142.2,344.4 142.6,345.3 143,346.1 143.4,346.8 143.8,347.5 144.2,348.1 144.6,348.8 145,349.4 145.4,350 145.8,350.7 146.2,351.3 146.6,351.9 147,352.5 147.4,353 147.8,353.6 148.2,354.1 148.6,354.6 149,355 149.4,355.4 149.8,355.8 150.2,356.2 150.6,356.5 151,356.7 151.4,357 151.8,357.1 152.2,357.2 152.6,357.3 153,357.3 153.4,357.1 153.8,356.8 154.2,356.4 154.6,355.8 155,355.1 155.4,354.3 155.8,353.3 156.2,352.3 156.6,351.2 157,350 157.4,348.7 157.8,347.3 158.2,345.8 158.6,344.3 159,342.8 159.4,341.2 159.8,339.3 160.2,336.3 160.6,332.9 161,330.1 161.3,328.7 161.7,327.7 162.1,327 162.5,326.8 162.9,327.5 163.3,328.9 163.7,330.5 164.1,332.7 164.5,335.6 164.9,338.9 165.3,342.2 165.7,345.4 166.1,348 166.5,349.7 166.9,350.3 167.3,350.2 167.7,350.1 168.1,349.8 168.5,349.4 168.9,349 169.3,348.4 169.7,347.8 170.1,347.2 170.5,346.5 170.9,345.7 171.3,344.9 171.7,344.1 172.1,343.3 172.5,342.4 172.9,341.6 173.3,340.7 173.7,339.8 174.1,338.5 174.5,337.2 174.9,335.8 175.3,334.7 175.7,333.9 176.1,333.2 176.5,332.6 176.9,332 177.3,331.6 177.7,331.2 178.1,331 178.5,331 178.9,331.3 179.3,331.7 179.7,332.2 180.1,332.8 180.5,333.4 180.9,334.2 181.3,335.1 181.7,336.2 182.1,337.4 182.5,338.6 182.9,339.9 183.3,341.4 183.7,343.1 184.1,345 184.5,346.9 184.9,348.6 185.3,350.2 185.7,351.3 186.1,352.2 186.5,353 186.9,353.8 187.3,354.5 187.7,355.2 188.1,355.9 188.5,356.5 188.9,357.1 189.3,357.6 189.7,358.1 190.1,358.6 190.5,359 190.9,359.4 191.2,359.7 191.6,360.1 192,360.4 192.4,360.6 192.8,360.9 193.2,361.1 193.6,361.3 194,361.6 194.4,361.8 194.8,362 195.2,362.2 195.6,362.5 196,362.7 196.4,362.9 196.8,363.1 197.2,363.3 197.6,363.5 198,363.6 198.4,363.8 198.8,364 199.2,364.1 199.6,364.3 200,364.4 200.4,364.6 200.8,364.7 201.2,364.8 201.6,365 202,365.1 202.4,365.2 202.8,365.3 203.2,365.4 203.6,365.4 204,365.5 204.4,365.6 204.8,365.6 205.2,365.6 205.6,365.7 206,365.7" fill="none" stroke="#4B6FD8" stroke-width="1.2" stroke-linejoin="round" stroke-linecap="round" />
<polyline points="27,376.5 27.4,376.2 27.8,375.7 28.2,375 28.6,374.3 29,373.6 29.4,373.2 29.8,373.1 30.2,373.4 30.6,374.1 31,374.8 31.4,375.4 31.8,375.8 32.2,375.9 32.6,375.6 33,375.1 33.4,374.6 33.8,374.1 34.2,373.9 34.6,374 35,374.5 35.4,375.2 35.8,375.9 36.2,376.7 36.6,377.3 37,377.8 37.4,378.1 37.8,378.3 38.2,378.4 38.6,378.4 39,378.3 39.4,378.1 39.8,377.8 40.2,377.4 40.6,377 41,376.6 41.4,376.2 41.8,375.8 42.1,375.6 42.5,375.5 42.9,375.6 43.3,375.9 43.7,376.2 44.1,376.7 44.5,377.1 44.9,377.5 45.3,377.8 45.7,377.9 46.1,377.9 46.5,377.7 46.9,377.4 47.3,377.1 47.7,376.8 48.1,376.6 48.5,376.4 48.9,376.4 49.3,376.5 49.7,376.7 50.1,376.8 50.5,376.9 50.9,376.9 51.3,376.9 51.7,376.9 52.1,377.1 52.5,377.3 52.9,377.7 53.3,378.1 53.7,378.4 54.1,378.7 54.5,378.8 54.9,378.7 55.3,378.5 55.7,378.2 56.1,377.8 56.5,377.3 56.9,377 57.3,376.7 57.7,376.6 58.1,376.7 58.5,376.9 58.9,377.3 59.3,377.8 59.7,378.3 60.1,378.9 60.5,379.3 60.9,379.7 61.3,380.1 61.7,380.3 62.1,380.5 62.5,380.6 62.9,380.7 63.3,380.8 63.7,380.8 64.1,380.8 64.5,380.8 64.9,380.8 65.3,380.7 65.7,380.6 66.1,380.4 66.5,380.1 66.9,379.7 67.3,379.1 67.7,378.4 68.1,377.6 68.5,376.7 68.9,375.9 69.3,375.1 69.7,374.5 70.1,374.1 70.5,374 70.9,374.2 71.3,374.5 71.7,375.1 72,375.7 72.4,376.4 72.8,376.9 73.2,377.4 73.6,377.9 74,378.2 74.4,378.4 74.8,378.6 75.2,378.8 75.6,379 76,379.1 76.4,379.2 76.8,379.2 77.2,379.2 77.6,379.2 78,379.1 78.4,378.9 78.8,378.7 79.2,378.5 79.6,378.3 80,378.1 80.4,378 80.8,378.1 81.2,378.2 81.6,378.4 82,378.8 82.4,379.2 82.8,379.6 83.2,380 83.6,380.4 84,380.7 84.4,381 84.8,381.2 85.2,381.3 85.6,381.4 86,381.4 86.4,381.3 86.8,381.3 87.2,381.2 87.6,381.1 88,381.1 88.4,381.1 88.8,381.1 89.2,381.1 89.6,381 90,381 90.4,380.9 90.8,380.8 91.2,380.6 91.6,380.4 92,380.2 92.4,379.9 92.8,379.7 93.2,379.5 93.6,379.4 94,379.4 94.4,379.4 94.8,379.5 95.2,379.6 95.6,379.8 96,380 96.4,380.1 96.8,380.2 97.2,380.2 97.6,380.3 98,380.3 98.4,380.4 98.8,380.6 99.2,380.8 99.6,381.1 100,381.4 100.4,381.7 100.8,381.9 101.2,382.1 101.6,382.2 101.9,382.3 102.3,382.4 102.7,382.4 103.1,382.4 103.5,382.4 103.9,382.4 104.3,382.3 104.7,382.3 105.1,382.2 105.5,382.2 105.9,382.2 106.3,382.2 106.7,382.1 107.1,382.1 107.5,382 107.9,382 108.3,382 108.7,381.9 109.1,381.9 109.5,381.8 109.9,381.8 110.3,381.8 110.7,381.7 111.1,381.7 111.5,381.6 111.9,381.6 112.3,381.6 112.7,381.5 113.1,381.5 113.5,381.5 113.9,381.4 114.3,381.4 114.7,381.4 115.1,381.3 115.5,381.3 115.9,381.3 116.3,381.2 116.7,381.2 117.1,381.1 117.5,381.1 117.9,381 118.3,381 118.7,380.9 119.1,380.8 119.5,380.7 119.9,380.6 120.3,380.5 120.7,380.4 121.1,380.3 121.5,380.1 121.9,379.9 122.3,379.8 122.7,379.6 123.1,379.4 123.5,379 123.9,378.6 124.3,378 124.7,377.3 125.1,376.6 125.5,375.7 125.9,374.8 126.3,373.8 126.7,372.8 127.1,371.8 127.5,370.7 127.9,369.7 128.3,368.7 128.7,367.7 129.1,366.7 129.5,365.6 129.9,364.4 130.3,363.2 130.7,362 131.1,360.8 131.4,359.6 131.8,358.4 132.2,357.2 132.6,355.9 133,354.7 133.4,353.6 133.8,352.8 134.2,352.3 134.6,351.8 135,351.4 135.4,351.2 135.8,351.1 136.2,351.3 136.6,351.8 137,352.3 137.4,353 137.8,353.7 138.2,354.7 138.6,356 139,357.4 139.4,358.8 139.8,360.2 140.2,361.4 140.6,362.6 141,363.8 141.4,365 141.8,366.2 142.2,367.2 142.6,368.1 143,368.9 143.4,369.6 143.8,370.3 144.2,371 144.6,371.8 145,372.5 145.4,373.2 145.8,373.8 146.2,374.5 146.6,375.1 147,375.7 147.4,376.3 147.8,376.9 148.2,377.4 148.6,377.9 149,378.4 149.4,378.8 149.8,379.2 150.2,379.6 150.6,379.9 151,380.1 151.4,380.3 151.8,380.5 152.2,380.6 152.6,380.6 153,380.5 153.4,380.3 153.8,379.9 154.2,379.3 154.6,378.6 155,377.7 155.4,376.7 155.8,375.6 156.2,374.3 156.6,372.9 157,371.5 157.4,370 157.8,368.3 158.2,366.6 158.6,364.9 159,363.1 159.4,361 159.8,357.5 160.2,353.5 160.6,350.3 161,348.9 161.3,347.9 161.7,347.2 162.1,347.2 162.5,348.2 162.9,349.9 163.3,351.7 163.7,354.3 164.1,357.6 164.5,361.3 164.9,364.9 165.3,368.3 165.7,371.1 166.1,372.9 166.5,373.6 166.9,373.5 167.3,373.4 167.7,373.1 168.1,372.7 168.5,372.3 168.9,371.7 169.3,371.1 169.7,370.5 170.1,369.7 170.5,369 170.9,368.1 171.3,367.3 171.7,366.4 172.1,365.4 172.5,364.5 172.9,363.5 173.3,362.6 173.7,361.3 174.1,359.7 174.5,358 174.9,356.4 175.3,355.1 175.7,354.3 176.1,353.6 176.5,352.9 176.9,352.4 177.3,351.9 177.7,351.7 178.1,351.6 178.5,351.8 178.9,352.2 179.3,352.7 179.7,353.3 180.1,354 180.5,354.8 180.9,355.7 181.3,356.9 181.7,358.2 182.1,359.5 182.5,360.9 182.9,362.7 183.3,364.7 183.7,366.9 184.1,369.1 184.5,371 184.9,372.6 185.3,373.7 185.7,374.6 186.1,375.5 186.5,376.3 186.9,377.1 187.3,377.8 187.7,378.5 188.1,379.1 188.5,379.7 188.9,380.3 189.3,380.8 189.7,381.3 190.1,381.7 190.5,382.1 190.9,382.5 191.2,382.8 191.6,383.1 192,383.4 192.4,383.7 192.8,383.9 193.2,384.2 193.6,384.4 194,384.7 194.4,384.9 194.8,385.2 195.2,385.4 195.6,385.6 196,385.9 196.4,386.1 196.8,386.3 197.2,386.5 197.6,386.7 198,386.9 198.4,387.1 198.8,387.3 199.2,387.4 199.6,387.6 200,387.8 200.4,387.9 200.8,388.1 201.2,388.2 201.6,388.3 202,388.4 202.4,388.5 202.8,388.6 203.2,388.7 203.6,388.8 204,388.9 204.4,388.9 204.8,389 205.2,389 205.6,389.1 206,389.1" fill="none" stroke="#5866D4" stroke-width="1.2" stroke-linejoin="round" stroke-linecap="round" />
<polyline points="27,401.5 27.4,401.3 27.8,400.8 28.2,400.1 28.6,399.4 29,398.7 29.4,398.3 29.8,398.3 30.2,398.6 30.6,399.3 31,400 31.4,400.7 31.8,401.1 32.2,401.1 32.6,400.9 33,400.4 33.4,399.9 33.8,399.4 34.2,399.2 34.6,399.4 35,399.8 35.4,400.5 35.8,401.3 36.2,402.1 36.6,402.7 37,403.2 37.4,403.5 37.8,403.7 38.2,403.8 38.6,403.8 39,403.7 39.4,403.5 39.8,403.3 40.2,402.9 40.6,402.5 41,402.1 41.4,401.7 41.8,401.3 42.1,401.1 42.5,401 42.9,401.1 43.3,401.4 43.7,401.8 44.1,402.3 44.5,402.7 44.9,403.1 45.3,403.4 45.7,403.5 46.1,403.5 46.5,403.4 46.9,403.1 47.3,402.8 47.7,402.5 48.1,402.2 48.5,402.1 48.9,402.1 49.3,402.2 49.7,402.4 50.1,402.5 50.5,402.6 50.9,402.6 51.3,402.6 51.7,402.7 52.1,402.8 52.5,403.1 52.9,403.5 53.3,403.8 53.7,404.2 54.1,404.5 54.5,404.6 54.9,404.5 55.3,404.3 55.7,404 56.1,403.6 56.5,403.2 56.9,402.8 57.3,402.6 57.7,402.5 58.1,402.5 58.5,402.8 58.9,403.2 59.3,403.7 59.7,404.3 60.1,404.8 60.5,405.3 60.9,405.7 61.3,406 61.7,406.3 62.1,406.4 62.5,406.6 62.9,406.7 63.3,406.7 63.7,406.8 64.1,406.8 64.5,406.8 64.9,406.8 65.3,406.8 65.7,406.7 66.1,406.6 66.5,406.3 66.9,405.9 67.3,405.3 67.7,404.6 68.1,403.7 68.5,402.8 68.9,401.8 69.3,401 69.7,400.3 70.1,399.9 70.5,399.8 70.9,400.1 71.3,400.5 71.7,401.2 72,402 72.4,402.7 72.8,403.4 73.2,403.9 73.6,404.3 74,404.6 74.4,404.9 74.8,405.1 75.2,405.2 75.6,405.3 76,405.5 76.4,405.5 76.8,405.6 77.2,405.6 77.6,405.5 78,405.4 78.4,405.2 78.8,405 79.2,404.8 79.6,404.6 80,404.4 80.4,404.3 80.8,404.4 81.2,404.5 81.6,404.8 82,405.1 82.4,405.5 82.8,405.9 83.2,406.3 83.6,406.7 84,407.1 84.4,407.4 84.8,407.6 85.2,407.7 85.6,407.7 86,407.8 86.4,407.7 86.8,407.7 87.2,407.6 87.6,407.5 88,407.5 88.4,407.5 88.8,407.5 89.2,407.5 89.6,407.4 90,407.4 90.4,407.3 90.8,407.2 91.2,407 91.6,406.8 92,406.6 92.4,406.3 92.8,406.1 93.2,405.9 93.6,405.8 94,405.8 94.4,405.8 94.8,405.9 95.2,406 95.6,406.2 96,406.4 96.4,406.5 96.8,406.6 97.2,406.6 97.6,406.7 98,406.7 98.4,406.8 98.8,407 99.2,407.2 99.6,407.5 100,407.8 100.4,408.1 100.8,408.3 101.2,408.5 101.6,408.6 101.9,408.7 102.3,408.8 102.7,408.8 103.1,408.8 103.5,408.8 103.9,408.8 104.3,408.7 104.7,408.7 105.1,408.6 105.5,408.6 105.9,408.6 106.3,408.6 106.7,408.5 107.1,408.5 107.5,408.4 107.9,408.4 108.3,408.4 108.7,408.3 109.1,408.3 109.5,408.2 109.9,408.2 110.3,408.2 110.7,408.1 111.1,408.1 111.5,408 111.9,408 112.3,408 112.7,407.9 113.1,407.9 113.5,407.9 113.9,407.8 114.3,407.8 114.7,407.8 115.1,407.7 115.5,407.7 115.9,407.7 116.3,407.6 116.7,407.6 117.1,407.5 117.5,407.5 117.9,407.4 118.3,407.4 118.7,407.3 119.1,407.2 119.5,407.1 119.9,407 120.3,406.9 120.7,406.8 121.1,406.7 121.5,406.5 121.9,406.3 122.3,406.2 122.7,406 123.1,405.8 123.5,405.4 123.9,404.9 124.3,404.2 124.7,403.5 125.1,402.6 125.5,401.6 125.9,400.5 126.3,399.3 126.7,398.1 127.1,396.9 127.5,395.7 127.9,394.4 128.3,393.2 128.7,392 129.1,390.8 129.5,389.4 129.9,388 130.3,386.6 130.7,385.1 131.1,383.6 131.4,382.2 131.8,380.8 132.2,379.2 132.6,377.7 133,376.2 133.4,375 133.8,374.2 134.2,373.6 134.6,373 135,372.7 135.4,372.5 135.8,372.7 136.2,373.1 136.6,373.8 137,374.5 137.4,375.4 137.8,376.6 138.2,378.1 138.6,379.8 139,381.5 139.4,383.2 139.8,384.7 140.2,386.2 140.6,387.8 141,389.3 141.4,390.7 141.8,392 142.2,393 142.6,393.9 143,394.8 143.4,395.7 143.8,396.5 144.2,397.4 144.6,398.2 145,399 145.4,399.9 145.8,400.6 146.2,401.4 146.6,402.1 147,402.8 147.4,403.5 147.8,404.1 148.2,404.7 148.6,405.2 149,405.7 149.4,406.2 149.8,406.6 150.2,407 150.6,407.3 151,407.6 151.4,407.8 151.8,407.9 152.2,408 152.6,408 153,407.8 153.4,407.5 153.8,406.9 154.2,406.2 154.6,405.2 155,404.1 155.4,402.9 155.8,401.5 156.2,400 156.6,398.4 157,396.7 157.4,394.8 157.8,392.9 158.2,390.9 158.6,388.8 159,386.5 159.4,382.4 159.8,377.8 160.2,374.2 160.6,372.7 161,371.7 161.3,371.1 161.7,371.3 162.1,372.8 162.5,374.6 162.9,377 163.3,380.1 163.7,383.9 164.1,388 164.5,392 164.9,395.7 165.3,398.7 165.7,400.7 166.1,401.5 166.5,401.4 166.9,401.3 167.3,401 167.7,400.6 168.1,400.1 168.5,399.5 168.9,398.8 169.3,398.1 169.7,397.2 170.1,396.3 170.5,395.4 170.9,394.4 171.3,393.3 171.7,392.2 172.1,391.1 172.5,389.9 172.9,388.8 173.3,387.6 173.7,385.8 174.1,383.6 174.5,381.2 174.9,379 175.3,377.5 175.7,376.7 176.1,375.9 176.5,375.1 176.9,374.6 177.3,374.2 177.7,374 178.1,374.1 178.5,374.5 178.9,375.1 179.3,375.8 179.7,376.6 180.1,377.5 180.5,378.7 180.9,380 181.3,381.6 181.7,383.2 182.1,384.8 182.5,386.9 182.9,389.2 183.3,391.7 183.7,394 184.1,396 184.5,397.5 184.9,398.5 185.3,399.4 185.7,400.3 186.1,401.1 186.5,401.9 186.9,402.6 187.3,403.3 187.7,403.9 188.1,404.5 188.5,405.1 188.9,405.6 189.3,406.1 189.7,406.5 190.1,406.9 190.5,407.3 190.9,407.7 191.2,408 191.6,408.3 192,408.5 192.4,408.8 192.8,409.1 193.2,409.3 193.6,409.6 194,409.9 194.4,410.1 194.8,410.3 195.2,410.6 195.6,410.8 196,411.1 196.4,411.3 196.8,411.5 197.2,411.7 197.6,411.9 198,412.1 198.4,412.3 198.8,412.5 199.2,412.7 199.6,412.8 200,413 200.4,413.2 200.8,413.3 201.2,413.5 201.6,413.6 202,413.7 202.4,413.8 202.8,413.9 203.2,414 203.6,414.1 204,414.2 204.4,414.2 204.8,414.3 205.2,414.3 205.6,414.4 206,414.4" fill="none" stroke="#6860CF" stroke-width="1.2" stroke-linejoin="round" stroke-linecap="round" />
<polyline points="27,424.7 27.4,424.4 27.8,423.9 28.2,423.2 28.6,422.5 29,421.8 29.4,421.4 29.8,421.3 30.2,421.6 30.6,422.2 31,423 31.4,423.6 31.8,424 32.2,424 32.6,423.8 33,423.3 33.4,422.7 33.8,422.3 34.2,422.1 34.6,422.2 35,422.6 35.4,423.3 35.8,424.1 36.2,424.8 36.6,425.5 37,426 37.4,426.3 37.8,426.5 38.2,426.5 38.6,426.5 39,426.4 39.4,426.2 39.8,425.9 40.2,425.6 40.6,425.1 41,424.7 41.4,424.3 41.8,423.9 42.1,423.7 42.5,423.6 42.9,423.7 43.3,424 43.7,424.4 44.1,424.8 44.5,425.2 44.9,425.6 45.3,425.9 45.7,426 46.1,426 46.5,425.8 46.9,425.5 47.3,425.2 47.7,424.9 48.1,424.7 48.5,424.5 48.9,424.5 49.3,424.6 49.7,424.8 50.1,424.9 50.5,424.9 50.9,425 51.3,425 51.7,425 52.1,425.2 52.5,425.4 52.9,425.8 53.3,426.1 53.7,426.5 54.1,426.7 54.5,426.9 54.9,426.8 55.3,426.6 55.7,426.3 56.1,425.8 56.5,425.4 56.9,425 57.3,424.8 57.7,424.7 58.1,424.7 58.5,425 58.9,425.4 59.3,425.9 59.7,426.4 60.1,426.9 60.5,427.4 60.9,427.8 61.3,428.1 61.7,428.4 62.1,428.5 62.5,428.7 62.9,428.8 63.3,428.8 63.7,428.9 64.1,428.9 64.5,428.9 64.9,428.9 65.3,428.9 65.7,428.8 66.1,428.7 66.5,428.4 66.9,428.1 67.3,427.5 67.7,426.8 68.1,425.8 68.5,424.8 68.9,423.7 69.3,422.7 69.7,422 70.1,421.5 70.5,421.4 70.9,421.7 71.3,422.3 71.7,423.1 72,424 72.4,424.8 72.8,425.5 73.2,426.1 73.6,426.5 74,426.8 74.4,427 74.8,427.1 75.2,427.2 75.6,427.3 76,427.4 76.4,427.5 76.8,427.5 77.2,427.4 77.6,427.4 78,427.2 78.4,427 78.8,426.8 79.2,426.5 79.6,426.3 80,426.2 80.4,426.1 80.8,426.1 81.2,426.2 81.6,426.5 82,426.8 82.4,427.2 82.8,427.6 83.2,428 83.6,428.4 84,428.7 84.4,429 84.8,429.2 85.2,429.3 85.6,429.4 86,429.4 86.4,429.3 86.8,429.3 87.2,429.2 87.6,429.1 88,429.1 88.4,429.1 88.8,429.1 89.2,429.1 89.6,429 90,429 90.4,428.9 90.8,428.8 91.2,428.6 91.6,428.4 92,428.2 92.4,427.9 92.8,427.7 93.2,427.5 93.6,427.4 94,427.4 94.4,427.4 94.8,427.5 95.2,427.6 95.6,427.8 96,428 96.4,428.1 96.8,428.2 97.2,428.2 97.6,428.3 98,428.3 98.4,428.4 98.8,428.6 99.2,428.8 99.6,429.1 100,429.4 100.4,429.7 100.8,429.9 101.2,430.1 101.6,430.2 101.9,430.3 102.3,430.4 102.7,430.4 103.1,430.4 103.5,430.4 103.9,430.4 104.3,430.3 104.7,430.3 105.1,430.2 105.5,430.2 105.9,430.2 106.3,430.2 106.7,430.1 107.1,430.1 107.5,430 107.9,430 108.3,430 108.7,429.9 109.1,429.9 109.5,429.8 109.9,429.8 110.3,429.8 110.7,429.7 111.1,429.7 111.5,429.6 111.9,429.6 112.3,429.6 112.7,429.5 113.1,429.5 113.5,429.5 113.9,429.4 114.3,429.4 114.7,429.4 115.1,429.3 115.5,429.3 115.9,429.3 116.3,429.2 116.7,429.2 117.1,429.1 117.5,429.1 117.9,429 118.3,429 118.7,428.9 119.1,428.8 119.5,428.7 119.9,428.6 120.3,428.5 120.7,428.4 121.1,428.3 121.5,428.1 121.9,427.9 122.3,427.8 122.7,427.6 123.1,427.4 123.5,427 123.9,426.5 124.3,425.9 124.7,425.1 125.1,424.2 125.5,423.2 125.9,422.1 126.3,420.9 126.7,419.7 127.1,418.5 127.5,417.2 127.9,415.9 128.3,414.7 128.7,413.4 129.1,412.1 129.5,410.7 129.9,409.2 130.3,407.6 130.7,406 131.1,404.4 131.4,402.9 131.8,401.3 132.2,399.7 132.6,398 133,396.5 133.4,395.4 133.8,394.6 134.2,394 134.6,393.5 135,393.2 135.4,393.3 135.8,393.7 136.2,394.3 136.6,395.1 137,396 137.4,397.2 137.8,398.8 138.2,400.6 138.6,402.5 139,404.3 139.4,405.9 139.8,407.6 140.2,409.4 140.6,411.1 141,412.6 141.4,413.9 141.8,414.9 142.2,415.9 142.6,416.8 143,417.7 143.4,418.6 143.8,419.5 144.2,420.4 144.6,421.2 145,422.1 145.4,422.9 145.8,423.6 146.2,424.4 146.6,425.1 147,425.8 147.4,426.4 147.8,427 148.2,427.6 148.6,428.1 149,428.6 149.4,429 149.8,429.4 150.2,429.7 150.6,430 151,430.3 151.4,430.4 151.8,430.5 152.2,430.6 152.6,430.5 153,430.2 153.4,429.7 153.8,428.9 154.2,428 154.6,426.8 155,425.4 155.4,423.8 155.8,422.1 156.2,420.2 156.6,418.2 157,416.1 157.4,413.8 157.8,411.5 158.2,409 158.6,406.3 159,401.5 159.4,396 159.8,392 160.2,390.3 160.6,389.1 161,388.6 161.3,389.3 161.7,391.3 162.1,393.5 162.5,396.5 162.9,400.3 163.3,404.6 163.7,409.2 164.1,413.6 164.5,417.7 164.9,421 165.3,423.2 165.7,424.1 166.1,424 166.5,423.9 166.9,423.6 167.3,423.2 167.7,422.6 168.1,422 168.5,421.3 168.9,420.5 169.3,419.6 169.7,418.7 170.1,417.7 170.5,416.6 170.9,415.4 171.3,414.2 171.7,412.9 172.1,411.6 172.5,410.3 172.9,408.9 173.3,407.4 173.7,405.1 174.1,402.2 174.5,399.2 174.9,396.6 175.3,395.2 175.7,394.2 176.1,393.3 176.5,392.5 176.9,392 177.3,391.6 177.7,391.6 178.1,392 178.5,392.7 178.9,393.5 179.3,394.4 179.7,395.4 180.1,396.8 180.5,398.4 180.9,400.2 181.3,402.1 181.7,404 182.1,406.4 182.5,409.1 182.9,411.8 183.3,414.4 183.7,416.4 184.1,417.7 184.5,418.7 184.9,419.7 185.3,420.6 185.7,421.4 186.1,422.2 186.5,422.9 186.9,423.6 187.3,424.3 187.7,424.9 188.1,425.4 188.5,425.9 188.9,426.4 189.3,426.9 189.7,427.3 190.1,427.6 190.5,428 190.9,428.3 191.2,428.6 191.6,428.9 192,429.2 192.4,429.5 192.8,429.8 193.2,430 193.6,430.3 194,430.6 194.4,430.8 194.8,431.1 195.2,431.3 195.6,431.6 196,431.8 196.4,432.1 196.8,432.3 197.2,432.5 197.6,432.7 198,432.9 198.4,433.1 198.8,433.3 199.2,433.5 199.6,433.7 200,433.9 200.4,434 200.8,434.2 201.2,434.3 201.6,434.5 202,434.6 202.4,434.7 202.8,434.8 203.2,434.9 203.6,435 204,435.1 204.4,435.1 204.8,435.2 205.2,435.2 205.6,435.3 206,435.3" fill="none" stroke="#7A5ACA" stroke-width="1.2" stroke-linejoin="round" stroke-linecap="round" />
<polyline points="27,439.5 27.4,439.3 27.8,438.8 28.2,438.2 28.6,437.4 29,436.8 29.4,436.4 29.8,436.3 30.2,436.7 30.6,437.3 31,438.1 31.4,438.7 31.8,439.1 32.2,439.2 32.6,439 33,438.5 33.4,438 33.8,437.5 34.2,437.4 34.6,437.5 35,437.9 35.4,438.6 35.8,439.4 36.2,440.2 36.6,440.8 37,441.3 37.4,441.7 37.8,441.9 38.2,442 38.6,442 39,441.9 39.4,441.7 39.8,441.4 40.2,441.1 40.6,440.7 41,440.3 41.4,439.9 41.8,439.5 42.1,439.3 42.5,439.2 42.9,439.3 43.3,439.6 43.7,440 44.1,440.5 44.5,440.9 44.9,441.3 45.3,441.6 45.7,441.8 46.1,441.7 46.5,441.6 46.9,441.3 47.3,441 47.7,440.7 48.1,440.5 48.5,440.4 48.9,440.4 49.3,440.5 49.7,440.6 50.1,440.8 50.5,440.8 50.9,440.9 51.3,440.9 51.7,441 52.1,441.1 52.5,441.4 52.9,441.7 53.3,442.1 53.7,442.5 54.1,442.7 54.5,442.9 54.9,442.8 55.3,442.6 55.7,442.3 56.1,441.9 56.5,441.5 56.9,441.1 57.3,440.9 57.7,440.8 58.1,440.9 58.5,441.1 58.9,441.5 59.3,442 59.7,442.6 60.1,443.1 60.5,443.6 60.9,444 61.3,444.4 61.7,444.6 62.1,444.8 62.5,444.9 62.9,445 63.3,445.1 63.7,445.2 64.1,445.2 64.5,445.2 64.9,445.3 65.3,445.3 65.7,445.2 66.1,445.1 66.5,444.9 66.9,444.6 67.3,444.1 67.7,443.3 68.1,442.4 68.5,441.3 68.9,440.1 69.3,439 69.7,438.2 70.1,437.7 70.5,437.6 70.9,438 71.3,438.8 71.7,439.7 72,440.7 72.4,441.6 72.8,442.4 73.2,442.9 73.6,443.3 74,443.6 74.4,443.8 74.8,443.9 75.2,444 75.6,444.1 76,444.2 76.4,444.2 76.8,444.2 77.2,444.2 77.6,444.1 78,443.9 78.4,443.7 78.8,443.5 79.2,443.3 79.6,443.1 80,442.9 80.4,442.8 80.8,442.9 81.2,443 81.6,443.2 82,443.6 82.4,444 82.8,444.4 83.2,444.8 83.6,445.2 84,445.6 84.4,445.8 84.8,446.1 85.2,446.2 85.6,446.2 86,446.2 86.4,446.2 86.8,446.2 87.2,446.1 87.6,446 88,446 88.4,446 88.8,446 89.2,446 89.6,445.9 90,445.9 90.4,445.8 90.8,445.7 91.2,445.5 91.6,445.3 92,445.1 92.4,444.8 92.8,444.6 93.2,444.4 93.6,444.3 94,444.3 94.4,444.3 94.8,444.4 95.2,444.5 95.6,444.7 96,444.9 96.4,445 96.8,445.1 97.2,445.1 97.6,445.2 98,445.2 98.4,445.3 98.8,445.5 99.2,445.7 99.6,446 100,446.3 100.4,446.6 100.8,446.8 101.2,447 101.6,447.1 101.9,447.2 102.3,447.3 102.7,447.3 103.1,447.3 103.5,447.3 103.9,447.3 104.3,447.2 104.7,447.2 105.1,447.1 105.5,447.1 105.9,447.1 106.3,447.1 106.7,447 107.1,447 107.5,446.9 107.9,446.9 108.3,446.9 108.7,446.8 109.1,446.8 109.5,446.7 109.9,446.7 110.3,446.7 110.7,446.6 111.1,446.6 111.5,446.5 111.9,446.5 112.3,446.5 112.7,446.4 113.1,446.4 113.5,446.4 113.9,446.3 114.3,446.3 114.7,446.3 115.1,446.2 115.5,446.2 115.9,446.2 116.3,446.1 116.7,446.1 117.1,446 117.5,446 117.9,445.9 118.3,445.9 118.7,445.8 119.1,445.7 119.5,445.6 119.9,445.5 120.3,445.4 120.7,445.3 121.1,445.2 121.5,445 121.9,444.8 122.3,444.7 122.7,444.5 123.1,444.3 123.5,443.9 123.9,443.4 124.3,442.8 124.7,442.1 125.1,441.2 125.5,440.3 125.9,439.3 126.3,438.2 126.7,437 127.1,435.8 127.5,434.6 127.9,433.4 128.3,432.1 128.7,430.9 129.1,429.6 129.5,428.2 129.9,426.7 130.3,425 130.7,423.4 131.1,421.7 131.4,420.2 131.8,418.6 132.2,416.8 132.6,415.2 133,413.8 133.4,412.8 133.8,412.1 134.2,411.5 134.6,411.1 135,411 135.4,411.3 135.8,411.9 136.2,412.7 136.6,413.6 137,414.8 137.4,416.4 137.8,418.2 138.2,420.1 138.6,422 139,423.7 139.4,425.5 139.8,427.4 140.2,429.1 140.6,430.7 141,431.9 141.4,432.9 141.8,433.9 142.2,434.8 142.6,435.7 143,436.6 143.4,437.5 143.8,438.3 144.2,439.2 144.6,440 145,440.8 145.4,441.5 145.8,442.3 146.2,443 146.6,443.6 147,444.2 147.4,444.8 147.8,445.4 148.2,445.9 148.6,446.4 149,446.8 149.4,447.2 149.8,447.5 150.2,447.8 150.6,448.1 151,448.3 151.4,448.4 151.8,448.5 152.2,448.5 152.6,448.3 153,447.9 153.4,447.1 153.8,446.1 154.2,444.8 154.6,443.3 155,441.6 155.4,439.6 155.8,437.5 156.2,435.2 156.6,432.8 157,430.2 157.4,427.5 157.8,424.6 158.2,421.5 158.6,415.8 159,409.4 159.4,404.9 159.8,403.1 160.2,401.9 160.6,401.5 161,402.9 161.3,405.3 161.7,408 162.1,411.7 162.5,416.1 162.9,420.9 163.3,425.9 163.7,430.7 164.1,435 164.5,438.6 164.9,441 165.3,442 165.7,442 166.1,441.8 166.5,441.5 166.9,441.1 167.3,440.6 167.7,440 168.1,439.3 168.5,438.5 168.9,437.6 169.3,436.6 169.7,435.5 170.1,434.4 170.5,433.2 170.9,431.9 171.3,430.6 171.7,429.2 172.1,427.7 172.5,426.2 172.9,424.7 173.3,423 173.7,420.1 174.1,416.5 174.5,412.9 174.9,410.3 175.3,408.9 175.7,407.8 176.1,406.9 176.5,406.1 176.9,405.6 177.3,405.5 177.7,405.8 178.1,406.4 178.5,407.4 178.9,408.4 179.3,409.5 179.7,411 180.1,412.9 180.5,414.9 180.9,417 181.3,419.3 181.7,422.1 182.1,425.2 182.5,428.2 182.9,430.9 183.3,432.8 183.7,434 184.1,435 184.5,436 184.9,436.9 185.3,437.8 185.7,438.6 186.1,439.3 186.5,440 186.9,440.7 187.3,441.3 187.7,441.8 188.1,442.3 188.5,442.8 188.9,443.3 189.3,443.7 189.7,444.1 190.1,444.4 190.5,444.8 190.9,445.1 191.2,445.4 191.6,445.7 192,446 192.4,446.3 192.8,446.6 193.2,446.8 193.6,447.1 194,447.4 194.4,447.7 194.8,447.9 195.2,448.2 195.6,448.4 196,448.7 196.4,448.9 196.8,449.2 197.2,449.4 197.6,449.6 198,449.8 198.4,450 198.8,450.2 199.2,450.4 199.6,450.6 200,450.8 200.4,451 200.8,451.1 201.2,451.3 201.6,451.4 202,451.6 202.4,451.7 202.8,451.8 203.2,451.9 203.6,452 204,452.1 204.4,452.1 204.8,452.2 205.2,452.2 205.6,452.3 206,452.3" fill="none" stroke="#8C56C4" stroke-width="1.2" stroke-linejoin="round" stroke-linecap="round" />
<polyline points="27,460 27.4,459.7 27.8,459.3 28.2,458.6 28.6,457.9 29,457.2 29.4,456.8 29.8,456.7 30.2,457.1 30.6,457.7 31,458.4 31.4,459.1 31.8,459.5 32.2,459.5 32.6,459.3 33,458.8 33.4,458.3 33.8,457.8 34.2,457.6 34.6,457.8 35,458.2 35.4,458.9 35.8,459.7 36.2,460.4 36.6,461.1 37,461.6 37.4,461.9 37.8,462.1 38.2,462.2 38.6,462.2 39,462.1 39.4,461.9 39.8,461.6 40.2,461.2 40.6,460.8 41,460.4 41.4,460 41.8,459.6 42.1,459.4 42.5,459.3 42.9,459.5 43.3,459.7 43.7,460.1 44.1,460.6 44.5,461 44.9,461.4 45.3,461.7 45.7,461.8 46.1,461.8 46.5,461.6 46.9,461.3 47.3,461 47.7,460.7 48.1,460.5 48.5,460.4 48.9,460.4 49.3,460.5 49.7,460.6 50.1,460.7 50.5,460.8 50.9,460.8 51.3,460.9 51.7,460.9 52.1,461.1 52.5,461.3 52.9,461.7 53.3,462.1 53.7,462.4 54.1,462.7 54.5,462.8 54.9,462.7 55.3,462.5 55.7,462.2 56.1,461.8 56.5,461.4 56.9,461 57.3,460.7 57.7,460.6 58.1,460.7 58.5,461 58.9,461.4 59.3,461.9 59.7,462.4 60.1,463 60.5,463.4 60.9,463.8 61.3,464.2 61.7,464.4 62.1,464.6 62.5,464.7 62.9,464.8 63.3,464.9 63.7,464.9 64.1,465 64.5,465 64.9,465 65.3,465.1 65.7,465 66.1,465 66.5,464.8 66.9,464.5 67.3,464 67.7,463.3 68.1,462.3 68.5,461.1 68.9,459.8 69.3,458.6 69.7,457.6 70.1,457.1 70.5,457 70.9,457.5 71.3,458.4 71.7,459.5 72,460.6 72.4,461.6 72.8,462.4 73.2,462.9 73.6,463.3 74,463.5 74.4,463.6 74.8,463.7 75.2,463.8 75.6,463.9 76,463.9 76.4,464 76.8,463.9 77.2,463.9 77.6,463.8 78,463.6 78.4,463.4 78.8,463.1 79.2,462.9 79.6,462.7 80,462.5 80.4,462.4 80.8,462.4 81.2,462.6 81.6,462.8 82,463.1 82.4,463.5 82.8,463.9 83.2,464.4 83.6,464.8 84,465.1 84.4,465.4 84.8,465.6 85.2,465.7 85.6,465.8 86,465.8 86.4,465.7 86.8,465.7 87.2,465.6 87.6,465.5 88,465.5 88.4,465.5 88.8,465.5 89.2,465.5 89.6,465.4 90,465.4 90.4,465.3 90.8,465.2 91.2,465 91.6,464.8 92,464.6 92.4,464.3 92.8,464.1 93.2,463.9 93.6,463.8 94,463.8 94.4,463.8 94.8,463.9 95.2,464 95.6,464.2 96,464.4 96.4,464.5 96.8,464.6 97.2,464.6 97.6,464.7 98,464.7 98.4,464.8 98.8,465 99.2,465.2 99.6,465.5 100,465.8 100.4,466.1 100.8,466.3 101.2,466.5 101.6,466.6 101.9,466.7 102.3,466.8 102.7,466.8 103.1,466.8 103.5,466.8 103.9,466.8 104.3,466.7 104.7,466.7 105.1,466.6 105.5,466.6 105.9,466.6 106.3,466.6 106.7,466.5 107.1,466.5 107.5,466.4 107.9,466.4 108.3,466.4 108.7,466.3 109.1,466.3 109.5,466.2 109.9,466.2 110.3,466.2 110.7,466.1 111.1,466.1 111.5,466 111.9,466 112.3,466 112.7,465.9 113.1,465.9 113.5,465.9 113.9,465.8 114.3,465.8 114.7,465.8 115.1,465.7 115.5,465.7 115.9,465.7 116.3,465.6 116.7,465.6 117.1,465.5 117.5,465.5 117.9,465.4 118.3,465.4 118.7,465.3 119.1,465.2 119.5,465.1 119.9,465 120.3,464.9 120.7,464.8 121.1,464.7 121.5,464.5 121.9,464.4 122.3,464.2 122.7,464 123.1,463.8 123.5,463.4 123.9,462.9 124.3,462.2 124.7,461.4 125.1,460.5 125.5,459.5 125.9,458.4 126.3,457.2 126.7,455.9 127.1,454.6 127.5,453.3 127.9,451.9 128.3,450.5 128.7,449.1 129.1,447.7 129.5,446.1 129.9,444.3 130.3,442.4 130.7,440.5 131.1,438.6 131.4,436.8 131.8,434.9 132.2,432.9 132.6,431 133,429.5 133.4,428.6 133.8,427.8 134.2,427.3 134.6,427 135,427.2 135.4,427.8 135.8,428.7 136.2,429.7 136.6,431 137,432.8 137.4,434.9 137.8,437.1 138.2,439.2 138.6,441.3 139,443.5 139.4,445.7 139.8,447.7 140.2,449.4 140.6,450.7 141,451.8 141.4,452.8 141.8,453.9 142.2,454.9 142.6,455.9 143,456.9 143.4,457.8 143.8,458.7 144.2,459.6 144.6,460.4 145,461.3 145.4,462.1 145.8,462.8 146.2,463.5 146.6,464.2 147,464.9 147.4,465.5 147.8,466 148.2,466.5 148.6,467 149,467.4 149.4,467.8 149.8,468.1 150.2,468.4 150.6,468.6 151,468.8 151.4,468.9 151.8,469 152.2,469 152.6,468.6 153,467.9 153.4,466.9 153.8,465.6 154.2,464 154.6,462.1 155,459.9 155.4,457.6 155.8,455 156.2,452.2 156.6,449.2 157,446.1 157.4,442.9 157.8,439.4 158.2,432.8 158.6,425.2 159,420.4 159.4,418.5 159.8,417.2 160.2,417.2 160.6,419.4 161,422.2 161.3,425.5 161.7,429.7 162.1,434.6 162.5,439.9 162.9,445.2 163.3,450.2 163.7,454.7 164.1,458.4 164.5,460.9 164.9,462 165.3,462 165.7,461.8 166.1,461.5 166.5,461.1 166.9,460.6 167.3,460 167.7,459.3 168.1,458.5 168.5,457.6 168.9,456.6 169.3,455.5 169.7,454.3 170.1,453.1 170.5,451.7 170.9,450.3 171.3,448.9 171.7,447.3 172.1,445.7 172.5,444.1 172.9,442.3 173.3,440.3 173.7,436.6 174.1,432.2 174.5,428.2 174.9,425.6 175.3,424.2 175.7,423 176.1,422 176.5,421.3 176.9,421 177.3,421.2 177.7,421.8 178.1,422.8 178.5,424 178.9,425.3 179.3,427 179.7,429.1 180.1,431.5 180.5,433.9 180.9,436.7 181.3,440.1 181.7,443.7 182.1,447.1 182.5,449.9 182.9,451.7 183.3,452.9 183.7,454 184.1,455 184.5,456 184.9,456.9 185.3,457.7 185.7,458.5 186.1,459.2 186.5,459.9 186.9,460.5 187.3,461.1 187.7,461.6 188.1,462.1 188.5,462.6 188.9,463 189.3,463.4 189.7,463.8 190.1,464.2 190.5,464.5 190.9,464.9 191.2,465.2 191.6,465.5 192,465.8 192.4,466.1 192.8,466.4 193.2,466.7 193.6,467 194,467.3 194.4,467.6 194.8,467.9 195.2,468.2 195.6,468.4 196,468.7 196.4,469 196.8,469.2 197.2,469.5 197.6,469.7 198,469.9 198.4,470.2 198.8,470.4 199.2,470.6 199.6,470.8 200,471 200.4,471.2 200.8,471.3 201.2,471.5 201.6,471.7 202,471.8 202.4,471.9 202.8,472 203.2,472.2 203.6,472.3 204,472.3 204.4,472.4 204.8,472.5 205.2,472.5 205.6,472.6 206,472.6" fill="none" stroke="#A052C0" stroke-width="1.2" stroke-linejoin="round" stroke-linecap="round" />
<polyline points="27,505.4 27.4,505.2 27.8,504.9 28.2,504.4 28.6,503.6 29,502.4 29.4,500.5 29.8,498.8 30.2,499.2 30.6,500.9 31,502.1 31.4,502.5 31.8,502.1 32.2,501.8 32.6,502.4 33,503.4 33.4,503.8 33.8,503.8 34.2,503.4 34.6,502.5 35,501.2 35.4,500.8 35.8,501.9 36.2,503.2 36.6,504.2 37,504.8 37.4,505.1 37.8,505.3 38.2,505.5 38.6,505.6 39,505.7 39.4,505.7 39.8,505.8 40.2,505.8 40.6,505.8 41,505.8 41.4,505.9 41.8,505.9 42.1,505.9 42.5,505.9 42.9,505.9 43.3,505.9 43.7,505.9 44.1,505.9 44.5,505.9 44.9,505.8 45.3,505.8 45.7,505.8 46.1,505.7 46.5,505.7 46.9,505.6 47.3,505.4 47.7,505.3 48.1,505.1 48.5,505 48.9,505 49.3,505.1 49.7,505.3 50.1,505.4 50.5,505.6 50.9,505.6 51.3,505.7 51.7,505.7 52.1,505.8 52.5,505.8 52.9,505.8 53.3,505.8 53.7,505.8 54.1,505.7 54.5,505.7 54.9,505.6 55.3,505.6 55.7,505.4 56.1,505.2 56.5,505 56.9,504.8 57.3,504.8 57.7,505 58.1,505.2 58.5,505.4 58.9,505.5 59.3,505.6 59.7,505.7 60.1,505.7 60.5,505.7 60.9,505.7 61.3,505.7 61.7,505.7 62.1,505.7 62.5,505.7 62.9,505.7 63.3,505.7 63.7,505.6 64.1,505.6 64.5,505.5 64.9,505.5 65.3,505.4 65.7,505.3 66.1,505.2 66.5,505.1 66.9,504.9 67.3,504.6 67.7,504.3 68.1,503.8 68.5,503 68.9,501.8 69.3,499.8 69.7,496.5 70.1,491.8 70.5,488.4 70.9,490.5 71.3,494.9 71.7,498.1 72,499.8 72.4,500.4 72.8,500.8 73.2,501.3 73.6,502.2 74,503.1 74.4,503.7 74.8,504.2 75.2,504.5 75.6,504.7 76,504.8 76.4,504.9 76.8,504.9 77.2,504.9 77.6,504.9 78,504.8 78.4,504.5 78.8,504.2 79.2,503.6 79.6,502.7 80,501.1 80.4,498.7 80.8,496.8 81.2,497.7 81.6,500.2 82,502.2 82.4,503.4 82.8,504.1 83.2,504.6 83.6,504.9 84,505.1 84.4,505.2 84.8,505.3 85.2,505.4 85.6,505.4 86,505.5 86.4,505.5 86.8,505.5 87.2,505.5 87.6,505.5 88,505.5 88.4,505.5 88.8,505.5 89.2,505.4 89.6,505.4 90,505.3 90.4,505.3 90.8,505.2 91.2,505 91.6,504.8 92,504.5 92.4,504.1 92.8,503.5 93.2,502.8 93.6,502 94,501.6 94.4,501.8 94.8,502.5 95.2,503.1 95.6,503.5 96,503.5 96.4,503.4 96.8,503.1 97.2,503.2 97.6,503.7 98,504.2 98.4,504.6 98.8,504.9 99.2,505 99.6,505.1 100,505.1 100.4,505.1 100.8,505 101.2,504.8 101.6,504.6 101.9,504.4 102.3,504.6 102.7,504.8 103.1,505 103.5,505.1 103.9,505.2 104.3,505.3 104.7,505.3 105.1,505.3 105.5,505.3 105.9,505.2 106.3,505.2 106.7,505.1 107.1,504.9 107.5,504.7 107.9,504.4 108.3,504 108.7,503.5 109.1,503.3 109.5,503.7 109.9,504.2 110.3,504.5 110.7,504.7 111.1,504.8 111.5,504.9 111.9,504.9 112.3,504.9 112.7,504.9 113.1,504.8 113.5,504.8 113.9,504.7 114.3,504.7 114.7,504.6 115.1,504.5 115.5,504.4 115.9,504.3 116.3,504.1 116.7,503.9 117.1,503.7 117.5,503.4 117.9,502.9 118.3,502.3 118.7,501.5 119.1,500.2 119.5,498 119.9,494.6 120.3,489.8 120.7,486.6 121.1,489.1 121.5,493.5 121.9,496.7 122.3,498.5 122.7,499.4 123.1,499.7 123.5,499.7 123.9,499.5 124.3,499 124.7,498.4 125.1,497.6 125.5,496.7 125.9,495.7 126.3,494.7 126.7,493.9 127.1,493.3 127.5,493.1 127.9,493.1 128.3,493.1 128.7,493 129.1,492.6 129.5,491.8 129.9,490.4 130.3,488.3 130.7,485.3 131.1,481.3 131.4,476.2 131.8,470.8 132.2,466.6 132.6,465 133,465.4 133.4,465.9 133.8,464.7 134.2,461.1 134.6,455.3 135,449.9 135.4,448.4 135.8,452.8 136.2,460.6 136.6,468.6 137,474.9 137.4,479.3 137.8,482 138.2,483.8 138.6,485.1 139,486.4 139.4,488.2 139.8,490.2 140.2,492.3 140.6,494.3 141,495.9 141.4,497.2 141.8,498.3 142.2,499.2 142.6,499.9 143,500.4 143.4,500.9 143.8,501.3 144.2,501.6 144.6,501.9 145,502.1 145.4,502.3 145.8,502.4 146.2,502.5 146.6,502.6 147,502.7 147.4,502.7 147.8,502.7 148.2,502.7 148.6,502.7 149,502.7 149.4,502.6 149.8,502.5 150.2,502.4 150.6,502.3 151,502.1 151.4,501.9 151.8,501.7 152.2,501.4 152.6,501 153,500.6 153.4,500.1 153.8,499.4 154.2,498.6 154.6,497.6 155,496.3 155.4,494.7 155.8,492.4 156.2,489.4 156.6,485.2 157,479.2 157.4,470.7 157.8,458.7 158.2,443.5 158.6,429 159,424 159.4,432.5 159.8,447.8 160.2,462.1 160.6,472.9 161,480.4 161.3,485.7 161.7,489.3 162.1,491.9 162.5,493.7 162.9,495.1 163.3,496 163.7,496.7 164.1,497.1 164.5,497.3 164.9,497.4 165.3,497.2 165.7,496.8 166.1,496.2 166.5,495.1 166.9,493.6 167.3,491.4 167.7,488.7 168.1,486.3 168.5,485.5 168.9,486.8 169.3,488.9 169.7,490.6 170.1,491.6 170.5,492 170.9,491.8 171.3,491.3 171.7,490.4 172.1,489 172.5,487.3 172.9,485.1 173.3,482.3 173.7,478.8 174.1,474.4 174.5,469.1 174.9,462.7 175.3,455.5 175.7,448 176.1,440.7 176.5,434.2 176.9,428.2 177.3,421.6 177.7,413.4 178.1,404.6 178.5,399.2 178.9,401.1 179.3,408.2 179.7,415.3 180.1,418.3 180.5,416.1 180.9,410.6 181.3,406.4 181.7,408.9 182.1,418.9 182.5,431.8 182.9,443.5 183.3,452.6 183.7,459.4 184.1,464.7 184.5,469 184.9,472.6 185.3,475.8 185.7,478.4 186.1,480.6 186.5,482.5 186.9,484 187.3,485.4 187.7,486.5 188.1,487.6 188.5,488.6 188.9,489.6 189.3,490.6 189.7,491.6 190.1,492.5 190.5,493.4 190.9,494.3 191.2,495.1 191.6,495.9 192,496.6 192.4,497.3 192.8,497.9 193.2,498.5 193.6,499 194,499.5 194.4,499.9 194.8,500.3 195.2,500.7 195.6,501 196,501.3 196.4,501.6 196.8,501.9 197.2,502.1 197.6,502.3 198,502.5 198.4,502.7 198.8,502.9 199.2,503 199.6,503.2 200,503.3 200.4,503.5 200.8,503.6 201.2,503.7 201.6,503.8 202,503.9 202.4,504 202.8,504.1 203.2,504.2 203.6,504.2 204,504.3 204.4,504.4 204.8,504.4 205.2,504.5 205.6,504.6 206,504.6" fill="none" stroke="#B25CC0" stroke-width="1.2" stroke-linejoin="round" stroke-linecap="round" />
<line x1="129.6" y1="491.7" x2="137.6" y2="242.5" stroke="#111" stroke-width="0.8" stroke-dasharray="1,1"/>
<path d="M136.3,242.8 L139.0,243.0 L137.8,237.6 Z" fill="#111"/>
<line x1="158" y1="483.2" x2="165" y2="203" stroke="#111" stroke-width="0.8" stroke-dasharray="1,1"/>
<path d="M163.7,203.2 L166.4,203.3 L165.1,197.6 Z" fill="#111"/>
<line x1="182.5" y1="460.8" x2="182.4" y2="205.5" stroke="#111" stroke-width="0.8" stroke-dasharray="1,1"/>
<path d="M181.1,205.6 L183.7,205.6 L182.4,200.2 Z" fill="#111"/>
<text x="130.4" y="235.49" font-size="7.2" text-anchor="middle" fill="#111" font-weight="bold" >C-N</text>
<text x="154.5" y="207.99" font-size="7.2" text-anchor="middle" fill="#111" font-weight="bold" >C=C</text>
<text x="195.3" y="211.69" font-size="7.2" text-anchor="middle" fill="#111" font-weight="bold" >C=O</text>
<text x="30" y="217.16" font-size="7.4" text-anchor="start" fill="#111" font-weight="bold" >R 0.0</text>
<text x="30" y="242.46" font-size="7.4" text-anchor="start" fill="#111" font-weight="bold" >15.1</text>
<text x="30" y="263.86" font-size="7.4" text-anchor="start" fill="#111" font-weight="bold" >14.0</text>
<text x="30" y="279.26" font-size="7.4" text-anchor="start" fill="#111" font-weight="bold" >12.1</text>
<text x="30" y="300.66" font-size="7.4" text-anchor="start" fill="#111" font-weight="bold" >10.0</text>
<text x="30" y="319.66" font-size="7.4" text-anchor="start" fill="#111" font-weight="bold" >8.5</text>
<text x="30" y="345.06" font-size="7.4" text-anchor="start" fill="#111" font-weight="bold" >7.0</text>
<text x="30" y="369.26" font-size="7.4" text-anchor="start" fill="#111" font-weight="bold" >5.5</text>
<text x="30" y="390.66" font-size="7.4" text-anchor="start" fill="#111" font-weight="bold" >4.2</text>
<text x="30" y="416.16" font-size="7.4" text-anchor="start" fill="#111" font-weight="bold" >2.6</text>
<text x="30" y="433.66" font-size="7.4" text-anchor="start" fill="#111" font-weight="bold" >1.2</text>
<text x="30" y="452.06" font-size="7.4" text-anchor="start" fill="#111" font-weight="bold" >0.6</text>
<text x="30" y="488.76" font-size="7.4" text-anchor="start" fill="#111" font-weight="bold" >0.0</text>
<text x="29.4" y="196.96" font-size="7.4" text-anchor="start" fill="#111" font-weight="bold" >Pressure (GPa)</text>
<text x="98.5" y="196.96" font-size="7.4" text-anchor="start" fill="#111" font-weight="bold" >TP-BT-0F-COF</text>
<rect x="26.4" y="186.3" width="180" height="324" fill="none" stroke="#333" stroke-width="1.1"/>
<line x1="26.4" y1="510.3" x2="26.4" y2="511.6" stroke="#333" stroke-width="0.9" />
<line x1="40.25" y1="510.3" x2="40.25" y2="511.6" stroke="#333" stroke-width="0.9" />
<line x1="54.09" y1="510.3" x2="54.09" y2="511.6" stroke="#333" stroke-width="0.9" />
<line x1="67.94" y1="510.3" x2="67.94" y2="511.6" stroke="#333" stroke-width="0.9" />
<line x1="81.78" y1="510.3" x2="81.78" y2="511.6" stroke="#333" stroke-width="0.9" />
<line x1="95.63" y1="510.3" x2="95.63" y2="511.6" stroke="#333" stroke-width="0.9" />
<line x1="109.48" y1="510.3" x2="109.48" y2="511.6" stroke="#333" stroke-width="0.9" />
<line x1="123.32" y1="510.3" x2="123.32" y2="511.6" stroke="#333" stroke-width="0.9" />
<line x1="137.17" y1="510.3" x2="137.17" y2="511.6" stroke="#333" stroke-width="0.9" />
<line x1="151.02" y1="510.3" x2="151.02" y2="511.6" stroke="#333" stroke-width="0.9" />
<line x1="164.86" y1="510.3" x2="164.86" y2="511.6" stroke="#333" stroke-width="0.9" />
<line x1="178.71" y1="510.3" x2="178.71" y2="511.6" stroke="#333" stroke-width="0.9" />
<line x1="192.55" y1="510.3" x2="192.55" y2="511.6" stroke="#333" stroke-width="0.9" />
<line x1="206.4" y1="510.3" x2="206.4" y2="511.6" stroke="#333" stroke-width="0.9" />
<line x1="40.25" y1="510.3" x2="40.25" y2="512.5" stroke="#333" stroke-width="0.9" />
<text x="40.25" y="520.95" font-size="8.2" text-anchor="middle" fill="#222" font-weight="bold" >600</text>
<line x1="67.94" y1="510.3" x2="67.94" y2="512.5" stroke="#333" stroke-width="0.9" />
<text x="67.94" y="520.95" font-size="8.2" text-anchor="middle" fill="#222" font-weight="bold" >800</text>
<line x1="95.63" y1="510.3" x2="95.63" y2="512.5" stroke="#333" stroke-width="0.9" />
<text x="95.63" y="520.95" font-size="8.2" text-anchor="middle" fill="#222" font-weight="bold" >1000</text>
<line x1="123.32" y1="510.3" x2="123.32" y2="512.5" stroke="#333" stroke-width="0.9" />
<text x="123.32" y="520.95" font-size="8.2" text-anchor="middle" fill="#222" font-weight="bold" >1200</text>
<line x1="151.02" y1="510.3" x2="151.02" y2="512.5" stroke="#333" stroke-width="0.9" />
<text x="151.02" y="520.95" font-size="8.2" text-anchor="middle" fill="#222" font-weight="bold" >1400</text>
<line x1="178.71" y1="510.3" x2="178.71" y2="512.5" stroke="#333" stroke-width="0.9" />
<text x="178.71" y="520.95" font-size="8.2" text-anchor="middle" fill="#222" font-weight="bold" >1600</text>
<line x1="206.4" y1="510.3" x2="206.4" y2="512.5" stroke="#333" stroke-width="0.9" />
<text x="206.4" y="520.95" font-size="8.2" text-anchor="middle" fill="#222" font-weight="bold" >1800</text>
<text x="-0.3" y="191.9" font-size="11.5" text-anchor="start" fill="#111" font-weight="bold" >(D)</text>
<text x="116.5" y="536.5" font-size="8.9" text-anchor="middle" fill="#111" font-weight="bold" >Wavenumber (cm<tspan font-size="5.5" dy="-3.2"> -1</tspan><tspan dy="3.2">)</tspan></text>
<text transform="translate(18.3,349) rotate(-90)" x="0" y="3.2" font-size="8.9" text-anchor="middle" fill="#111" font-weight="bold" >(Intensity (a.u.)</text>
<line x1="288.25" y1="222.6" x2="334.54" y2="228.5" stroke="#111" stroke-width="1.25" stroke-dasharray="1.3,1.5"/>
<line x1="288.25" y1="257.8" x2="449.51" y2="246.8" stroke="#111" stroke-width="1.25" stroke-dasharray="1.3,1.5"/>
<line x1="288.25" y1="299.2" x2="449.51" y2="287" stroke="#111" stroke-width="1.25" stroke-dasharray="1.3,1.5"/>
<rect x="286.95" y="221" width="3.6" height="3.6" fill="#E8302A"/>
<rect x="293.28" y="222.2" width="3.6" height="3.6" fill="#E8302A"/>
<rect x="299.6" y="223.2" width="3.6" height="3.6" fill="#E8302A"/>
<rect x="314.37" y="223.9" width="3.6" height="3.6" fill="#E8302A"/>
<rect x="331.24" y="226" width="3.6" height="3.6" fill="#E8302A"/>
<path d="M288.75,254.8 L291.05,258.8 L286.45,258.8 Z" fill="#2EA6E6"/>
<path d="M295.08,254.5 L297.38,258.5 L292.78,258.5 Z" fill="#2EA6E6"/>
<path d="M301.4,254.1 L303.7,258.1 L299.1,258.1 Z" fill="#2EA6E6"/>
<path d="M316.17,253.1 L318.47,257.1 L313.87,257.1 Z" fill="#2EA6E6"/>
<path d="M333.04,251.5 L335.34,255.5 L330.74,255.5 Z" fill="#2EA6E6"/>
<path d="M346.76,250.7 L349.06,254.7 L344.46,254.7 Z" fill="#2EA6E6"/>
<path d="M362.58,249.2 L364.88,253.2 L360.28,253.2 Z" fill="#2EA6E6"/>
<path d="M378.4,248.3 L380.7,252.3 L376.1,252.3 Z" fill="#2EA6E6"/>
<path d="M394.22,247 L396.52,251 L391.92,251 Z" fill="#2EA6E6"/>
<path d="M416.37,246.3 L418.67,250.3 L414.07,250.3 Z" fill="#2EA6E6"/>
<path d="M436.41,245.4 L438.71,249.4 L434.11,249.4 Z" fill="#2EA6E6"/>
<path d="M448.01,244.7 L450.31,248.7 L445.71,248.7 Z" fill="#2EA6E6"/>
<circle cx="295.08" cy="298.5" r="2.3" fill="#5CBFA2"/>
<circle cx="301.4" cy="297.7" r="2.3" fill="#5CBFA2"/>
<circle cx="316.17" cy="294.8" r="2.3" fill="#5CBFA2"/>
<circle cx="333.04" cy="294.1" r="2.3" fill="#5CBFA2"/>
<circle cx="346.76" cy="292.8" r="2.3" fill="#5CBFA2"/>
<circle cx="362.58" cy="292.1" r="2.3" fill="#5CBFA2"/>
<circle cx="378.4" cy="290.8" r="2.3" fill="#5CBFA2"/>
<circle cx="394.22" cy="290" r="2.3" fill="#5CBFA2"/>
<circle cx="416.37" cy="288.4" r="2.3" fill="#5CBFA2"/>
<circle cx="436.41" cy="288.1" r="2.3" fill="#5CBFA2"/>
<circle cx="448.01" cy="287.4" r="2.3" fill="#5CBFA2"/>
<polygon points="288.75,221.79 289.3,223.24 290.85,223.32 289.64,224.29 290.05,225.79 288.75,224.94 287.45,225.79 287.86,224.29 286.65,223.32 288.2,223.24" fill="#8A2BE2"/>
<polygon points="288.75,255.79 289.3,257.24 290.85,257.32 289.64,258.29 290.05,259.79 288.75,258.94 287.45,259.79 287.86,258.29 286.65,257.32 288.2,257.24" fill="#8A2BE2"/>
<polygon points="288.75,297.19 289.3,298.64 290.85,298.72 289.64,299.69 290.05,301.19 288.75,300.33 287.45,301.19 287.86,299.69 286.65,298.72 288.2,298.64" fill="#8A2BE2"/>
<text x="282.5" y="196.06" font-size="7.4" text-anchor="start" fill="#111" font-weight="bold" >TP-BT-0F-COF</text>
<rect x="341" y="191.6" width="3.6" height="3.6" fill="#E8302A"/>
<circle cx="359.8" cy="193.4" r="2.3" fill="#5CBFA2"/>
<path d="M376.6,191 L378.9,195 L374.3,195 Z" fill="#2EA6E6"/>
<text x="385.3" y="196.15" font-size="7.65" text-anchor="start" fill="#111" font-weight="bold" >Applying pressure</text>
<polygon points="342.8,201.35 343.28,202.63 344.65,202.7 343.58,203.55 343.95,204.88 342.8,204.12 341.65,204.88 342.02,203.55 340.95,202.7 342.32,202.63" fill="#8A2BE2"/>
<polygon points="359.8,201.35 360.28,202.63 361.65,202.7 360.58,203.55 360.95,204.88 359.8,204.12 358.65,204.88 359.02,203.55 357.95,202.7 359.32,202.63" fill="#8A2BE2"/>
<polygon points="376.6,201.35 377.08,202.63 378.45,202.7 377.38,203.55 377.75,204.88 376.6,204.12 375.45,204.88 375.82,203.55 374.75,202.7 376.12,202.63" fill="#8A2BE2"/>
<text x="385.3" y="206.05" font-size="7.65" text-anchor="start" fill="#111" font-weight="bold" >Releasing pressure</text>
<text x="333.8" y="238.9" font-size="7.5" text-anchor="start" fill="#111" font-weight="bold" >(C=O) <tspan font-style="italic">K</tspan> = -5.54 cm<tspan font-size="4.6" dy="-2.8">-1</tspan><tspan dy="2.8"> GPa</tspan><tspan font-size="4.6" dy="-2.8">-1</tspan><tspan dy="2.8"></tspan></text>
<text x="337" y="263.73" font-size="7.3" text-anchor="middle" fill="#111" font-weight="bold" >C=C</text>
<text x="360" y="263.8" font-size="7.5" text-anchor="start" fill="#111" font-weight="bold" ><tspan font-style="italic">K</tspan> = 3.27 cm<tspan font-size="4.6" dy="-2.8">-1</tspan><tspan dy="2.8"> GPa</tspan><tspan font-size="4.6" dy="-2.8">-1</tspan><tspan dy="2.8"></tspan></text>
<text x="338.4" y="303.13" font-size="7.3" text-anchor="middle" fill="#111" font-weight="bold" >C-N</text>
<text x="356.3" y="303.2" font-size="7.5" text-anchor="start" fill="#111" font-weight="bold" ><tspan font-style="italic">K</tspan> = 3.52 cm<tspan font-size="4.6" dy="-2.8">-1</tspan><tspan dy="2.8"> GPa</tspan><tspan font-size="4.6" dy="-2.8">-1</tspan><tspan dy="2.8"></tspan></text>
<rect x="278.2" y="186.6" width="179.3" height="145.4" fill="none" stroke="#333" stroke-width="1.1"/>
<line x1="278.2" y1="332" x2="278.2" y2="333.3" stroke="#333" stroke-width="0.9" />
<line x1="288.75" y1="332" x2="288.75" y2="333.3" stroke="#333" stroke-width="0.9" />
<line x1="299.29" y1="332" x2="299.29" y2="333.3" stroke="#333" stroke-width="0.9" />
<line x1="309.84" y1="332" x2="309.84" y2="333.3" stroke="#333" stroke-width="0.9" />
<line x1="320.39" y1="332" x2="320.39" y2="333.3" stroke="#333" stroke-width="0.9" />
<line x1="330.94" y1="332" x2="330.94" y2="333.3" stroke="#333" stroke-width="0.9" />
<line x1="341.48" y1="332" x2="341.48" y2="333.3" stroke="#333" stroke-width="0.9" />
<line x1="352.03" y1="332" x2="352.03" y2="333.3" stroke="#333" stroke-width="0.9" />
<line x1="362.58" y1="332" x2="362.58" y2="333.3" stroke="#333" stroke-width="0.9" />
<line x1="373.12" y1="332" x2="373.12" y2="333.3" stroke="#333" stroke-width="0.9" />
<line x1="383.67" y1="332" x2="383.67" y2="333.3" stroke="#333" stroke-width="0.9" />
<line x1="394.22" y1="332" x2="394.22" y2="333.3" stroke="#333" stroke-width="0.9" />
<line x1="404.76" y1="332" x2="404.76" y2="333.3" stroke="#333" stroke-width="0.9" />
<line x1="415.31" y1="332" x2="415.31" y2="333.3" stroke="#333" stroke-width="0.9" />
<line x1="425.86" y1="332" x2="425.86" y2="333.3" stroke="#333" stroke-width="0.9" />
<line x1="436.41" y1="332" x2="436.41" y2="333.3" stroke="#333" stroke-width="0.9" />
<line x1="446.95" y1="332" x2="446.95" y2="333.3" stroke="#333" stroke-width="0.9" />
<line x1="457.5" y1="332" x2="457.5" y2="333.3" stroke="#333" stroke-width="0.9" />
<line x1="288.75" y1="332" x2="288.75" y2="334.2" stroke="#333" stroke-width="0.9" />
<text x="288.75" y="342.95" font-size="8.2" text-anchor="middle" fill="#222" font-weight="bold" >0</text>
<line x1="309.84" y1="332" x2="309.84" y2="334.2" stroke="#333" stroke-width="0.9" />
<text x="309.84" y="342.95" font-size="8.2" text-anchor="middle" fill="#222" font-weight="bold" >2</text>
<line x1="330.94" y1="332" x2="330.94" y2="334.2" stroke="#333" stroke-width="0.9" />
<text x="330.94" y="342.95" font-size="8.2" text-anchor="middle" fill="#222" font-weight="bold" >4</text>
<line x1="352.03" y1="332" x2="352.03" y2="334.2" stroke="#333" stroke-width="0.9" />
<text x="352.03" y="342.95" font-size="8.2" text-anchor="middle" fill="#222" font-weight="bold" >6</text>
<line x1="373.12" y1="332" x2="373.12" y2="334.2" stroke="#333" stroke-width="0.9" />
<text x="373.12" y="342.95" font-size="8.2" text-anchor="middle" fill="#222" font-weight="bold" >8</text>
<line x1="394.22" y1="332" x2="394.22" y2="334.2" stroke="#333" stroke-width="0.9" />
<text x="394.22" y="342.95" font-size="8.2" text-anchor="middle" fill="#222" font-weight="bold" >10</text>
<line x1="415.31" y1="332" x2="415.31" y2="334.2" stroke="#333" stroke-width="0.9" />
<text x="415.31" y="342.95" font-size="8.2" text-anchor="middle" fill="#222" font-weight="bold" >12</text>
<line x1="436.41" y1="332" x2="436.41" y2="334.2" stroke="#333" stroke-width="0.9" />
<text x="436.41" y="342.95" font-size="8.2" text-anchor="middle" fill="#222" font-weight="bold" >14</text>
<line x1="457.5" y1="332" x2="457.5" y2="334.2" stroke="#333" stroke-width="0.9" />
<text x="457.5" y="342.95" font-size="8.2" text-anchor="middle" fill="#222" font-weight="bold" >16</text>
<line x1="278.2" y1="332" x2="276.9" y2="332" stroke="#333" stroke-width="0.9" />
<line x1="278.2" y1="321.61" x2="276.9" y2="321.61" stroke="#333" stroke-width="0.9" />
<line x1="278.2" y1="311.23" x2="276.9" y2="311.23" stroke="#333" stroke-width="0.9" />
<line x1="278.2" y1="300.84" x2="276.9" y2="300.84" stroke="#333" stroke-width="0.9" />
<line x1="278.2" y1="290.46" x2="276.9" y2="290.46" stroke="#333" stroke-width="0.9" />
<line x1="278.2" y1="280.07" x2="276.9" y2="280.07" stroke="#333" stroke-width="0.9" />
<line x1="278.2" y1="269.69" x2="276.9" y2="269.69" stroke="#333" stroke-width="0.9" />
<line x1="278.2" y1="259.3" x2="276.9" y2="259.3" stroke="#333" stroke-width="0.9" />
<line x1="278.2" y1="248.91" x2="276.9" y2="248.91" stroke="#333" stroke-width="0.9" />
<line x1="278.2" y1="238.53" x2="276.9" y2="238.53" stroke="#333" stroke-width="0.9" />
<line x1="278.2" y1="228.14" x2="276.9" y2="228.14" stroke="#333" stroke-width="0.9" />
<line x1="278.2" y1="217.76" x2="276.9" y2="217.76" stroke="#333" stroke-width="0.9" />
<line x1="278.2" y1="207.37" x2="276.9" y2="207.37" stroke="#333" stroke-width="0.9" />
<line x1="278.2" y1="196.99" x2="276.9" y2="196.99" stroke="#333" stroke-width="0.9" />
<line x1="278.2" y1="186.6" x2="276.9" y2="186.6" stroke="#333" stroke-width="0.9" />
<line x1="278.2" y1="332" x2="276" y2="332" stroke="#333" stroke-width="0.9" />
<text x="273.8" y="334.95" font-size="8.2" text-anchor="end" fill="#222" font-weight="bold" >1100</text>
<line x1="278.2" y1="311.23" x2="276" y2="311.23" stroke="#333" stroke-width="0.9" />
<text x="273.8" y="314.18" font-size="8.2" text-anchor="end" fill="#222" font-weight="bold" >1200</text>
<line x1="278.2" y1="290.46" x2="276" y2="290.46" stroke="#333" stroke-width="0.9" />
<text x="273.8" y="293.41" font-size="8.2" text-anchor="end" fill="#222" font-weight="bold" >1300</text>
<line x1="278.2" y1="269.69" x2="276" y2="269.69" stroke="#333" stroke-width="0.9" />
<text x="273.8" y="272.64" font-size="8.2" text-anchor="end" fill="#222" font-weight="bold" >1400</text>
<line x1="278.2" y1="248.91" x2="276" y2="248.91" stroke="#333" stroke-width="0.9" />
<text x="273.8" y="251.87" font-size="8.2" text-anchor="end" fill="#222" font-weight="bold" >1500</text>
<line x1="278.2" y1="228.14" x2="276" y2="228.14" stroke="#333" stroke-width="0.9" />
<text x="273.8" y="231.09" font-size="8.2" text-anchor="end" fill="#222" font-weight="bold" >1600</text>
<line x1="278.2" y1="207.37" x2="276" y2="207.37" stroke="#333" stroke-width="0.9" />
<text x="273.8" y="210.32" font-size="8.2" text-anchor="end" fill="#222" font-weight="bold" >1700</text>
<line x1="278.2" y1="186.6" x2="276" y2="186.6" stroke="#333" stroke-width="0.9" />
<text x="273.8" y="189.55" font-size="8.2" text-anchor="end" fill="#222" font-weight="bold" >1800</text>
<text x="238.4" y="192" font-size="11.5" text-anchor="start" fill="#111" font-weight="bold" >(E)</text>
<text x="367.8" y="358" font-size="8.9" text-anchor="middle" fill="#111" font-weight="bold" >Applied pressure (GPa)</text>
<text transform="translate(249,259.1) rotate(-90)" x="0" y="3.2" font-size="8.9" text-anchor="middle" fill="#111" font-weight="bold" >Wavenumber (cm<tspan font-size="5.4" dy="-3.2">-1</tspan><tspan dy="3.2">)</tspan></text>
<polyline points="500.9,221.2 501.5,222 502,222.2 502.6,222.8 503.1,223.4 503.7,224.2 504.3,224.6 504.8,225 505.4,225.3 506,225.4 506.5,225.8 507.1,226.2 507.6,226.9 508.2,227.2 508.8,227.7 509.3,228.1 509.9,228.7 510.5,229.8 511,230.6 511.6,231.6 512.1,232.3 512.7,233.3 513.3,233.8 513.8,233.9 514.4,233.6 515,233.6 515.5,233.7 516.1,233.7 516.6,233.8 517.2,234.1 517.8,234.6 518.3,234.7 518.9,234.7 519.4,234.6 520,234.7 520.6,234.8 521.1,235 521.7,235.6 522.3,235.9 522.8,235.9 523.4,236 523.9,236.2 524.5,236.3 525.1,236.3 525.6,236.5 526.2,236.8 526.8,237 527.3,237 527.9,237.3 528.4,237.6 529,238.1 529.6,238.4 530.1,238.6 530.7,239 531.3,238.9 531.8,239.2 532.4,239 532.9,239.3 533.5,239.2 534.1,239.8 534.6,240.2 535.2,240.7 535.7,241 536.3,241 536.9,241.2 537.4,241.3 538,241.4 538.6,241.7 539.1,242.1 539.7,242.3 540.2,242.6 540.8,242.6 541.4,243.1 541.9,243.3 542.5,243.6 543.1,243.7 543.6,243.9 544.2,243.9 544.7,244.2 545.3,244.2 545.9,244.7 546.4,244.9 547,245.2 547.6,245.6 548.1,246 548.7,246.5 549.2,246.8 549.8,246.8 550.4,247.3 550.9,247.9 551.5,248.9 552,249.8 552.6,250.9 553.2,252 553.7,253.4 554.3,254.9 554.9,256.6 555.4,258.4 556,260.6 556.5,263 557.1,265.2 557.7,267.5 558.2,270 558.8,272.8 559.4,275.6 559.9,278.3 560.5,280.9 561,283.4 561.6,285.7 562.2,287.9 562.7,289.8 563.3,291.7 563.9,293.3 564.4,294.8 565,296.2 565.5,297.4 566.1,298.5 566.7,299.6 567.2,300.5 567.8,301.4 568.3,302.2 568.9,302.9 569.5,303.6 570,304.2 570.6,304.8 571.2,305.4 571.7,305.9 572.3,306.4 572.8,306.9 573.4,307.3 574,307.8 574.5,308.2 575.1,308.6 575.7,309 576.2,309.4 576.8,309.8 577.3,310.1 577.9,310.5 578.5,310.8 579,311.2 579.6,311.5 580.2,311.8 580.7,312.1 581.3,312.4 581.8,312.8 582.4,313.1 583,313.3 583.5,313.6 584.1,313.9 584.6,314.2 585.2,314.5 585.8,314.7 586.3,315 586.9,315.3 587.5,315.5 588,315.8 588.6,316 589.1,316.3 589.7,316.5 590.3,316.7 590.8,317 591.4,317.2 592,317.4 592.5,317.6 593.1,317.9 593.6,318.1 594.2,318.3 594.8,318.5 595.3,318.7 595.9,318.9 596.5,319.1 597,319.3 597.6,319.5 598.1,319.6 598.7,319.8 599.3,320 599.8,320.2 600.4,320.4 600.9,320.5 601.5,320.7 602.1,320.9 602.6,321 603.2,321.2 603.8,321.3 604.3,321.5 604.9,321.7 605.4,321.8 606,321.9 606.6,322.1 607.1,322.2 607.7,322.4 608.3,322.5 608.8,322.6 609.4,322.8 609.9,322.9 610.5,323 611.1,323.2 611.6,323.3 612.2,323.4 612.8,323.5 613.3,323.7 613.9,323.8 614.4,323.9 615,324 615.6,324.1 616.1,324.2 616.7,324.3 617.2,324.4 617.8,324.5 618.4,324.6 618.9,324.7 619.5,324.8 620.1,324.9 620.6,325 621.2,325.1 621.7,325.2 622.3,325.3 622.9,325.4 623.4,325.5 624,325.6 624.6,325.7 625.1,325.8 625.7,325.8 626.2,325.9 626.8,326 627.4,326.1 627.9,326.2 628.5,326.2 629.1,326.3 629.6,326.4 630.2,326.5 630.7,326.5 631.3,326.6 631.9,326.7 632.4,326.7 633,326.8 633.5,326.9 634.1,326.9 634.7,327 635.2,327.1 635.8,327.1 636.4,327.2 636.9,327.2 637.5,327.3 638,327.3 638.6,327.4 639.2,327.5 639.7,327.5 640.3,327.6 640.9,327.6 641.4,327.7 642,327.7 642.5,327.8 643.1,327.8 643.7,327.9 644.2,327.9 644.8,328 645.4,328 645.9,328.1 646.5,328.1 647,328.2 647.6,328.2 648.2,328.2 648.7,328.3 649.3,328.3 649.8,328.4 650.4,328.4 651,328.4 651.5,328.5 652.1,328.5 652.7,328.6 653.2,328.6 653.8,328.6 654.3,328.7 654.9,328.7 655.5,328.7 656,328.8 656.6,328.8 657.2,328.8 657.7,328.9 658.3,328.9 658.8,328.9 659.4,329 660,329 660.5,329 661.1,329 661.7,329.1 662.2,329.1 662.8,329.1 663.3,329.2 663.9,329.2 664.5,329.2 665,329.2 665.6,329.3 666.1,329.3 666.7,329.3 667.3,329.3 667.8,329.4 668.4,329.4 669,329.4 669.5,329.4 670.1,329.5 670.6,329.5 671.2,329.5 671.8,329.5 672.3,329.5 672.9,329.6 673.5,329.6 674,329.6 674.6,329.6 675.1,329.6 675.7,329.7 676.3,329.7 676.8,329.7 677.4,329.7 678,329.7 678.5,329.8 679.1,329.8 679.6,329.8 680.2,329.8" fill="none" stroke="#F25C70" stroke-width="1.25" stroke-linejoin="round" stroke-linecap="round" />
<polyline points="500.9,221 501.5,221.5 502,221.8 502.6,222 503.1,222 503.7,222.1 504.3,222.6 504.8,223.1 505.4,223.3 506,223.3 506.5,223.1 507.1,223.1 507.6,223.4 508.2,223.7 508.8,223.9 509.3,224.1 509.9,224.8 510.5,225.8 511,226.5 511.6,227.4 512.1,227.7 512.7,228.5 513.3,228.9 513.8,229.3 514.4,228.9 515,228.6 515.5,227.9 516.1,228.1 516.6,228.1 517.2,228.4 517.8,228.5 518.3,228.7 518.9,229 519.4,229.1 520,229.3 520.6,229 521.1,229 521.7,229 522.3,229.4 522.8,229.6 523.4,229.9 523.9,229.9 524.5,230 525.1,229.9 525.6,230.1 526.2,230.3 526.8,230.4 527.3,230.7 527.9,230.7 528.4,231 529,231 529.6,231.3 530.1,231.1 530.7,231.3 531.3,231.2 531.8,231.5 532.4,231.7 532.9,231.7 533.5,231.6 534.1,231.4 534.6,231.7 535.2,231.7 535.7,232 536.3,231.9 536.9,232.1 537.4,232.1 538,232.4 538.6,232.5 539.1,232.6 539.7,232.6 540.2,232.8 540.8,232.6 541.4,232.6 541.9,232.7 542.5,233.3 543.1,233.6 543.6,233.8 544.2,233.7 544.7,233.5 545.3,233.5 545.9,233.7 546.4,234 547,234 547.6,234 548.1,234 548.7,234.4 549.2,234.5 549.8,234.5 550.4,234.3 550.9,234.3 551.5,234.4 552,234.8 552.6,235.1 553.2,235.4 553.7,235.7 554.3,235.7 554.9,235.9 555.4,236.1 556,236.5 556.5,237 557.1,237.6 557.7,238 558.2,238.6 558.8,239.4 559.4,240.5 559.9,241.7 560.5,243.3 561,245.4 561.6,247.4 562.2,249.6 562.7,252 563.3,254.7 563.9,257.5 564.4,260.5 565,264 565.5,267.3 566.1,270.8 566.7,274.3 567.2,277.6 567.8,280.7 568.3,283.7 568.9,286.4 569.5,288.9 570,291.2 570.6,293.2 571.2,295 571.7,296.7 572.3,298.1 572.8,299.5 573.4,300.6 574,301.7 574.5,302.7 575.1,303.6 575.7,304.4 576.2,305.1 576.8,305.8 577.3,306.4 577.9,307 578.5,307.6 579,308.1 579.6,308.6 580.2,309 580.7,309.5 581.3,309.9 581.8,310.3 582.4,310.7 583,311.1 583.5,311.5 584.1,311.8 584.6,312.2 585.2,312.5 585.8,312.8 586.3,313.2 586.9,313.5 587.5,313.8 588,314.1 588.6,314.4 589.1,314.7 589.7,315 590.3,315.2 590.8,315.5 591.4,315.8 592,316 592.5,316.3 593.1,316.6 593.6,316.8 594.2,317.1 594.8,317.3 595.3,317.5 595.9,317.8 596.5,318 597,318.2 597.6,318.4 598.1,318.6 598.7,318.9 599.3,319.1 599.8,319.3 600.4,319.5 600.9,319.7 601.5,319.9 602.1,320.1 602.6,320.2 603.2,320.4 603.8,320.6 604.3,320.8 604.9,321 605.4,321.1 606,321.3 606.6,321.5 607.1,321.6 607.7,321.8 608.3,321.9 608.8,322.1 609.4,322.2 609.9,322.4 610.5,322.5 611.1,322.7 611.6,322.8 612.2,323 612.8,323.1 613.3,323.2 613.9,323.4 614.4,323.5 615,323.6 615.6,323.8 616.1,323.9 616.7,324 617.2,324.1 617.8,324.2 618.4,324.3 618.9,324.5 619.5,324.6 620.1,324.7 620.6,324.8 621.2,324.9 621.7,325 622.3,325.1 622.9,325.2 623.4,325.3 624,325.4 624.6,325.5 625.1,325.6 625.7,325.7 626.2,325.8 626.8,325.8 627.4,325.9 627.9,326 628.5,326.1 629.1,326.2 629.6,326.3 630.2,326.3 630.7,326.4 631.3,326.5 631.9,326.6 632.4,326.6 633,326.7 633.5,326.8 634.1,326.9 634.7,326.9 635.2,327 635.8,327.1 636.4,327.1 636.9,327.2 637.5,327.2 638,327.3 638.6,327.4 639.2,327.4 639.7,327.5 640.3,327.5 640.9,327.6 641.4,327.7 642,327.7 642.5,327.8 643.1,327.8 643.7,327.9 644.2,327.9 644.8,328 645.4,328 645.9,328.1 646.5,328.1 647,328.2 647.6,328.2 648.2,328.3 648.7,328.3 649.3,328.3 649.8,328.4 650.4,328.4 651,328.5 651.5,328.5 652.1,328.5 652.7,328.6 653.2,328.6 653.8,328.7 654.3,328.7 654.9,328.7 655.5,328.8 656,328.8 656.6,328.8 657.2,328.9 657.7,328.9 658.3,328.9 658.8,329 659.4,329 660,329 660.5,329.1 661.1,329.1 661.7,329.1 662.2,329.2 662.8,329.2 663.3,329.2 663.9,329.2 664.5,329.3 665,329.3 665.6,329.3 666.1,329.3 666.7,329.4 667.3,329.4 667.8,329.4 668.4,329.4 669,329.5 669.5,329.5 670.1,329.5 670.6,329.5 671.2,329.6 671.8,329.6 672.3,329.6 672.9,329.6 673.5,329.6 674,329.7 674.6,329.7 675.1,329.7 675.7,329.7 676.3,329.7 676.8,329.8 677.4,329.8 678,329.8 678.5,329.8 679.1,329.8 679.6,329.8 680.2,329.9" fill="none" stroke="#EE6480" stroke-width="1.25" stroke-linejoin="round" stroke-linecap="round" />
<polyline points="500.9,221 501.5,221.2 502,221.4 502.6,221.5 503.1,221.9 503.7,222.1 504.3,222.3 504.8,222.6 505.4,222.7 506,222.7 506.5,222.7 507.1,223 507.6,223 508.2,223.4 508.8,223.8 509.3,224.2 509.9,224.7 510.5,225.2 511,226.2 511.6,226.7 512.1,227.6 512.7,227.9 513.3,228.4 513.8,228.4 514.4,228.4 515,228.1 515.5,228 516.1,227.6 516.6,227.7 517.2,227.7 517.8,228.1 518.3,228.2 518.9,228.7 519.4,228.8 520,228.9 520.6,228.6 521.1,228.9 521.7,228.6 522.3,228.9 522.8,228.7 523.4,228.8 523.9,228.5 524.5,228.7 525.1,229 525.6,229.3 526.2,229.5 526.8,229.6 527.3,229.7 527.9,229.5 528.4,229.6 529,229.9 529.6,230.2 530.1,230 530.7,229.8 531.3,230.1 531.8,230.4 532.4,230.5 532.9,230.3 533.5,230.6 534.1,230.7 534.6,230.8 535.2,230.6 535.7,230.7 536.3,231 536.9,231.2 537.4,231.4 538,231.4 538.6,231.5 539.1,231.5 539.7,231.6 540.2,231.7 540.8,231.9 541.4,231.8 541.9,231.8 542.5,231.8 543.1,232 543.6,232.1 544.2,232.2 544.7,232 545.3,232.1 545.9,232.3 546.4,232.4 547,232.6 547.6,232.5 548.1,232.7 548.7,232.4 549.2,232.6 549.8,232.5 550.4,232.8 550.9,232.8 551.5,232.8 552,232.9 552.6,232.8 553.2,233 553.7,233.3 554.3,233.6 554.9,233.8 555.4,233.8 556,234 556.5,234 557.1,234.6 557.7,234.9 558.2,235.1 558.8,235.1 559.4,235.8 559.9,236.4 560.5,237.2 561,237.9 561.6,239 562.2,240.4 562.7,241.9 563.3,243.6 563.9,245.5 564.4,247.4 565,249.9 565.5,252.6 566.1,255.7 566.7,259 567.2,262.5 567.8,265.8 568.3,269.6 568.9,273.3 569.5,276.8 570,280.2 570.6,283.4 571.2,286.4 571.7,289.1 572.3,291.6 572.8,293.8 573.4,295.8 574,297.6 574.5,299.2 575.1,300.6 575.7,301.9 576.2,303.1 576.8,304.1 577.3,305 577.9,305.9 578.5,306.7 579,307.4 579.6,308 580.2,308.6 580.7,309.2 581.3,309.7 581.8,310.2 582.4,310.7 583,311.1 583.5,311.6 584.1,312 584.6,312.4 585.2,312.7 585.8,313.1 586.3,313.5 586.9,313.8 587.5,314.1 588,314.5 588.6,314.8 589.1,315.1 589.7,315.4 590.3,315.7 590.8,316 591.4,316.2 592,316.5 592.5,316.8 593.1,317 593.6,317.3 594.2,317.6 594.8,317.8 595.3,318 595.9,318.3 596.5,318.5 597,318.7 597.6,319 598.1,319.2 598.7,319.4 599.3,319.6 599.8,319.8 600.4,320 600.9,320.2 601.5,320.4 602.1,320.6 602.6,320.8 603.2,321 603.8,321.2 604.3,321.4 604.9,321.5 605.4,321.7 606,321.9 606.6,322 607.1,322.2 607.7,322.4 608.3,322.5 608.8,322.7 609.4,322.8 609.9,323 610.5,323.1 611.1,323.3 611.6,323.4 612.2,323.5 612.8,323.7 613.3,323.8 613.9,323.9 614.4,324.1 615,324.2 615.6,324.3 616.1,324.4 616.7,324.5 617.2,324.7 617.8,324.8 618.4,324.9 618.9,325 619.5,325.1 620.1,325.2 620.6,325.3 621.2,325.4 621.7,325.5 622.3,325.6 622.9,325.7 623.4,325.8 624,325.9 624.6,326 625.1,326.1 625.7,326.2 626.2,326.3 626.8,326.3 627.4,326.4 627.9,326.5 628.5,326.6 629.1,326.7 629.6,326.7 630.2,326.8 630.7,326.9 631.3,327 631.9,327 632.4,327.1 633,327.2 633.5,327.2 634.1,327.3 634.7,327.4 635.2,327.4 635.8,327.5 636.4,327.6 636.9,327.6 637.5,327.7 638,327.7 638.6,327.8 639.2,327.8 639.7,327.9 640.3,328 640.9,328 641.4,328.1 642,328.1 642.5,328.2 643.1,328.2 643.7,328.3 644.2,328.3 644.8,328.3 645.4,328.4 645.9,328.4 646.5,328.5 647,328.5 647.6,328.6 648.2,328.6 648.7,328.7 649.3,328.7 649.8,328.7 650.4,328.8 651,328.8 651.5,328.8 652.1,328.9 652.7,328.9 653.2,328.9 653.8,329 654.3,329 654.9,329.1 655.5,329.1 656,329.1 656.6,329.1 657.2,329.2 657.7,329.2 658.3,329.2 658.8,329.3 659.4,329.3 660,329.3 660.5,329.3 661.1,329.4 661.7,329.4 662.2,329.4 662.8,329.5 663.3,329.5 663.9,329.5 664.5,329.5 665,329.6 665.6,329.6 666.1,329.6 666.7,329.6 667.3,329.6 667.8,329.7 668.4,329.7 669,329.7 669.5,329.7 670.1,329.7 670.6,329.8 671.2,329.8 671.8,329.8 672.3,329.8 672.9,329.8 673.5,329.9 674,329.9 674.6,329.9 675.1,329.9 675.7,329.9 676.3,329.9 676.8,330 677.4,330 678,330 678.5,330 679.1,330 679.6,330 680.2,330" fill="none" stroke="#E47AA4" stroke-width="1.25" stroke-linejoin="round" stroke-linecap="round" />
<polyline points="500.9,220.7 501.5,221.1 502,221.3 502.6,221.7 503.1,222 503.7,222.2 504.3,222.2 504.8,222.1 505.4,222.1 506,222.3 506.5,222.5 507.1,222.4 507.6,222.4 508.2,222.8 508.8,223.2 509.3,223.7 509.9,224.1 510.5,224.8 511,225.6 511.6,226.3 512.1,226.9 512.7,227.3 513.3,227.6 513.8,227.4 514.4,227.5 515,227.1 515.5,227.1 516.1,226.9 516.6,226.7 517.2,227 517.8,227.2 518.3,227.4 518.9,227.4 519.4,227.5 520,227.6 520.6,227.7 521.1,227.8 521.7,228.1 522.3,228.1 522.8,228.2 523.4,228.2 523.9,228 524.5,228.1 525.1,227.8 525.6,228 526.2,228.3 526.8,228.7 527.3,229.2 527.9,229 528.4,229.1 529,229 529.6,229.1 530.1,229.1 530.7,229.2 531.3,229.6 531.8,229.6 532.4,229.7 532.9,229.6 533.5,229.7 534.1,229.6 534.6,229.8 535.2,229.8 535.7,230 536.3,230 536.9,230.2 537.4,230.3 538,230.4 538.6,230.4 539.1,230.4 539.7,230.6 540.2,230.7 540.8,230.9 541.4,231 541.9,231.1 542.5,230.9 543.1,230.9 543.6,231.2 544.2,231.3 544.7,231.1 545.3,230.7 545.9,230.9 546.4,230.9 547,231.4 547.6,231.1 548.1,231.2 548.7,231.2 549.2,231.4 549.8,231.4 550.4,231.4 550.9,231.4 551.5,231.5 552,231.6 552.6,231.6 553.2,231.7 553.7,231.8 554.3,231.9 554.9,232 555.4,231.9 556,232.1 556.5,232 557.1,232.3 557.7,231.9 558.2,232 558.8,231.8 559.4,232.3 559.9,232.6 560.5,232.7 561,232.7 561.6,233 562.2,233.3 562.7,233.6 563.3,233.5 563.9,233.7 564.4,234 565,234.9 565.5,235.5 566.1,236.2 566.7,236.5 567.2,237.7 567.8,238.6 568.3,239.9 568.9,241.1 569.5,242.8 570,245 570.6,247.7 571.2,250.2 571.7,253.3 572.3,256.3 572.8,259.8 573.4,263.1 574,266.6 574.5,270.8 575.1,274.6 575.7,278.3 576.2,281.9 576.8,285.2 577.3,288.2 577.9,291 578.5,293.6 579,295.9 579.6,297.9 580.2,299.7 580.7,301.4 581.3,302.8 581.8,304.1 582.4,305.3 583,306.3 583.5,307.3 584.1,308.1 584.6,308.9 585.2,309.6 585.8,310.3 586.3,310.9 586.9,311.4 587.5,312 588,312.5 588.6,312.9 589.1,313.4 589.7,313.8 590.3,314.2 590.8,314.6 591.4,315 592,315.3 592.5,315.7 593.1,316 593.6,316.3 594.2,316.6 594.8,316.9 595.3,317.2 595.9,317.5 596.5,317.8 597,318.1 597.6,318.3 598.1,318.6 598.7,318.8 599.3,319.1 599.8,319.3 600.4,319.6 600.9,319.8 601.5,320 602.1,320.3 602.6,320.5 603.2,320.7 603.8,320.9 604.3,321.1 604.9,321.3 605.4,321.5 606,321.7 606.6,321.9 607.1,322.1 607.7,322.2 608.3,322.4 608.8,322.6 609.4,322.8 609.9,322.9 610.5,323.1 611.1,323.2 611.6,323.4 612.2,323.6 612.8,323.7 613.3,323.9 613.9,324 614.4,324.1 615,324.3 615.6,324.4 616.1,324.5 616.7,324.7 617.2,324.8 617.8,324.9 618.4,325 618.9,325.2 619.5,325.3 620.1,325.4 620.6,325.5 621.2,325.6 621.7,325.7 622.3,325.8 622.9,325.9 623.4,326 624,326.1 624.6,326.2 625.1,326.3 625.7,326.4 626.2,326.5 626.8,326.6 627.4,326.7 627.9,326.8 628.5,326.8 629.1,326.9 629.6,327 630.2,327.1 630.7,327.2 631.3,327.2 631.9,327.3 632.4,327.4 633,327.4 633.5,327.5 634.1,327.6 634.7,327.7 635.2,327.7 635.8,327.8 636.4,327.8 636.9,327.9 637.5,328 638,328 638.6,328.1 639.2,328.1 639.7,328.2 640.3,328.2 640.9,328.3 641.4,328.3 642,328.4 642.5,328.4 643.1,328.5 643.7,328.5 644.2,328.6 644.8,328.6 645.4,328.7 645.9,328.7 646.5,328.8 647,328.8 647.6,328.8 648.2,328.9 648.7,328.9 649.3,329 649.8,329 650.4,329 651,329.1 651.5,329.1 652.1,329.1 652.7,329.2 653.2,329.2 653.8,329.2 654.3,329.3 654.9,329.3 655.5,329.3 656,329.4 656.6,329.4 657.2,329.4 657.7,329.5 658.3,329.5 658.8,329.5 659.4,329.5 660,329.6 660.5,329.6 661.1,329.6 661.7,329.6 662.2,329.7 662.8,329.7 663.3,329.7 663.9,329.7 664.5,329.8 665,329.8 665.6,329.8 666.1,329.8 666.7,329.8 667.3,329.9 667.8,329.9 668.4,329.9 669,329.9 669.5,329.9 670.1,330 670.6,330 671.2,330 671.8,330 672.3,330 672.9,330 673.5,330.1 674,330.1 674.6,330.1 675.1,330.1 675.7,330.1 676.3,330.1 676.8,330.1 677.4,330.2 678,330.2 678.5,330.2 679.1,330.2 679.6,330.2 680.2,330.2" fill="none" stroke="#D67ABA" stroke-width="1.25" stroke-linejoin="round" stroke-linecap="round" />
<polyline points="500.9,220.5 501.5,221 502,221.5 502.6,221.7 503.1,221.5 503.7,221.6 504.3,221.7 504.8,222 505.4,222 506,222.4 506.5,222.2 507.1,222.3 507.6,222.3 508.2,222.6 508.8,222.8 509.3,223.3 509.9,223.7 510.5,224.3 511,224.7 511.6,225.7 512.1,226.6 512.7,227.2 513.3,227.6 513.8,227.5 514.4,227.3 515,226.8 515.5,226.8 516.1,226.8 516.6,226.8 517.2,226.9 517.8,227.1 518.3,227.4 518.9,227.1 519.4,227 520,226.9 520.6,227.1 521.1,227.3 521.7,227.4 522.3,227.5 522.8,227.6 523.4,227.7 523.9,227.6 524.5,227.8 525.1,227.8 525.6,228 526.2,228.2 526.8,228.2 527.3,228.3 527.9,228.3 528.4,228.6 529,228.6 529.6,228.7 530.1,228.8 530.7,228.8 531.3,228.6 531.8,228.5 532.4,228.7 532.9,228.9 533.5,229.1 534.1,229.1 534.6,229.4 535.2,229.7 535.7,229.8 536.3,229.9 536.9,229.8 537.4,230 538,229.8 538.6,229.7 539.1,229.6 539.7,229.9 540.2,229.9 540.8,229.9 541.4,229.8 541.9,230.1 542.5,230.1 543.1,230 543.6,230.1 544.2,230.5 544.7,230.6 545.3,230.7 545.9,230.5 546.4,230.6 547,230.5 547.6,230.5 548.1,230.4 548.7,230.5 549.2,230.7 549.8,230.9 550.4,231 550.9,230.8 551.5,230.9 552,230.5 552.6,230.5 553.2,230.4 553.7,230.6 554.3,230.9 554.9,231 555.4,231.1 556,231.1 556.5,231 557.1,231 557.7,231 558.2,231 558.8,231.3 559.4,231.3 559.9,231.6 560.5,231.5 561,231.7 561.6,231.5 562.2,231.5 562.7,231.5 563.3,231.7 563.9,231.9 564.4,232 565,232 565.5,231.9 566.1,232.1 566.7,232.2 567.2,232.2 567.8,232.1 568.3,232.3 568.9,232.4 569.5,232.6 570,232.7 570.6,232.9 571.2,233.2 571.7,233.5 572.3,233.8 572.8,234.3 573.4,234.9 574,235.4 574.5,236 575.1,236.8 575.7,237.7 576.2,238.9 576.8,240.1 577.3,241.7 577.9,243.6 578.5,246.1 579,248.6 579.6,251.3 580.2,254.2 580.7,257.4 581.3,260.6 581.8,264.5 582.4,268.9 583,272.8 583.5,276.6 584.1,280.4 584.6,283.9 585.2,287.2 585.8,290.2 586.3,292.9 586.9,295.4 587.5,297.7 588,299.7 588.6,301.5 589.1,303.1 589.7,304.5 590.3,305.8 590.8,306.9 591.4,307.9 592,308.8 592.5,309.7 593.1,310.4 593.6,311.1 594.2,311.8 594.8,312.4 595.3,312.9 595.9,313.5 596.5,313.9 597,314.4 597.6,314.8 598.1,315.2 598.7,315.6 599.3,316 599.8,316.4 600.4,316.7 600.9,317.1 601.5,317.4 602.1,317.7 602.6,318 603.2,318.3 603.8,318.6 604.3,318.9 604.9,319.1 605.4,319.4 606,319.7 606.6,319.9 607.1,320.2 607.7,320.4 608.3,320.6 608.8,320.9 609.4,321.1 609.9,321.3 610.5,321.5 611.1,321.7 611.6,321.9 612.2,322.1 612.8,322.3 613.3,322.5 613.9,322.7 614.4,322.9 615,323 615.6,323.2 616.1,323.4 616.7,323.5 617.2,323.7 617.8,323.9 618.4,324 618.9,324.2 619.5,324.3 620.1,324.5 620.6,324.6 621.2,324.7 621.7,324.9 622.3,325 622.9,325.1 623.4,325.3 624,325.4 624.6,325.5 625.1,325.6 625.7,325.7 626.2,325.9 626.8,326 627.4,326.1 627.9,326.2 628.5,326.3 629.1,326.4 629.6,326.5 630.2,326.6 630.7,326.7 631.3,326.8 631.9,326.8 632.4,326.9 633,327 633.5,327.1 634.1,327.2 634.7,327.3 635.2,327.3 635.8,327.4 636.4,327.5 636.9,327.6 637.5,327.6 638,327.7 638.6,327.8 639.2,327.9 639.7,327.9 640.3,328 640.9,328 641.4,328.1 642,328.2 642.5,328.2 643.1,328.3 643.7,328.3 644.2,328.4 644.8,328.4 645.4,328.5 645.9,328.5 646.5,328.6 647,328.6 647.6,328.7 648.2,328.7 648.7,328.8 649.3,328.8 649.8,328.9 650.4,328.9 651,329 651.5,329 652.1,329 652.7,329.1 653.2,329.1 653.8,329.2 654.3,329.2 654.9,329.2 655.5,329.3 656,329.3 656.6,329.3 657.2,329.4 657.7,329.4 658.3,329.4 658.8,329.5 659.4,329.5 660,329.5 660.5,329.5 661.1,329.6 661.7,329.6 662.2,329.6 662.8,329.7 663.3,329.7 663.9,329.7 664.5,329.7 665,329.8 665.6,329.8 666.1,329.8 666.7,329.8 667.3,329.8 667.8,329.9 668.4,329.9 669,329.9 669.5,329.9 670.1,329.9 670.6,330 671.2,330 671.8,330 672.3,330 672.9,330 673.5,330.1 674,330.1 674.6,330.1 675.1,330.1 675.7,330.1 676.3,330.1 676.8,330.1 677.4,330.2 678,330.2 678.5,330.2 679.1,330.2 679.6,330.2 680.2,330.2" fill="none" stroke="#C076C8" stroke-width="1.25" stroke-linejoin="round" stroke-linecap="round" />
<polyline points="500.9,220.5 501.5,220.9 502,221.2 502.6,221.6 503.1,221.6 503.7,222.1 504.3,222.1 504.8,222.4 505.4,222.3 506,222.1 506.5,222.1 507.1,222.2 507.6,222.3 508.2,222.4 508.8,222.6 509.3,223.1 509.9,223.5 510.5,224.3 511,225 511.6,226 512.1,226.7 512.7,227.3 513.3,227.3 513.8,227.1 514.4,226.7 515,226.5 515.5,226.6 516.1,226.5 516.6,226.7 517.2,226.3 517.8,226.4 518.3,226.5 518.9,226.4 519.4,226.4 520,226.6 520.6,227.1 521.1,227.3 521.7,227.2 522.3,227.2 522.8,227.2 523.4,227.2 523.9,227.3 524.5,227.7 525.1,227.7 525.6,227.9 526.2,227.8 526.8,227.8 527.3,227.6 527.9,227.7 528.4,227.8 529,228.1 529.6,228 530.1,228 530.7,228.2 531.3,228.4 531.8,228.5 532.4,228.4 532.9,228.7 533.5,228.8 534.1,228.7 534.6,228.6 535.2,229 535.7,229.4 536.3,229.1 536.9,228.7 537.4,228.8 538,229 538.6,229.3 539.1,229.2 539.7,229.5 540.2,229.5 540.8,229.5 541.4,229.4 541.9,229.3 542.5,229.4 543.1,229.4 543.6,229.3 544.2,229.2 544.7,229.1 545.3,229.2 545.9,229.4 546.4,229.7 547,230 547.6,229.8 548.1,229.5 548.7,229.6 549.2,229.8 549.8,230 550.4,229.8 550.9,229.7 551.5,230 552,230.1 552.6,230.3 553.2,230 553.7,230.3 554.3,230.3 554.9,230.4 555.4,230.3 556,230.4 556.5,230.6 557.1,230.4 557.7,230.5 558.2,230.3 558.8,230.5 559.4,230.4 559.9,230.5 560.5,230.5 561,230.5 561.6,230.6 562.2,230.7 562.7,230.7 563.3,230.7 563.9,230.8 564.4,230.9 565,230.9 565.5,230.8 566.1,231 566.7,230.9 567.2,230.8 567.8,230.8 568.3,230.8 568.9,230.9 569.5,230.9 570,231.2 570.6,231.3 571.2,231.3 571.7,231.2 572.3,231.4 572.8,231.4 573.4,231.6 574,231.8 574.5,231.9 575.1,232 575.7,231.8 576.2,231.9 576.8,232 577.3,232.2 577.9,232.5 578.5,233 579,233.6 579.6,234.1 580.2,234.7 580.7,235.2 581.3,236.4 581.8,237.6 582.4,239 583,240.3 583.5,241.7 584.1,243.8 584.6,246 585.2,248.4 585.8,251.3 586.3,254.5 586.9,258.2 587.5,261.6 588,265.5 588.6,269.6 589.1,273.6 589.7,277.5 590.3,281.3 590.8,284.9 591.4,288.2 592,291.3 592.5,294 593.1,296.5 593.6,298.8 594.2,300.8 594.8,302.6 595.3,304.2 595.9,305.6 596.5,306.9 597,308 597.6,309 598.1,309.9 598.7,310.7 599.3,311.5 599.8,312.2 600.4,312.8 600.9,313.4 601.5,314 602.1,314.5 602.6,314.9 603.2,315.4 603.8,315.8 604.3,316.2 604.9,316.6 605.4,317 606,317.3 606.6,317.7 607.1,318 607.7,318.3 608.3,318.6 608.8,318.9 609.4,319.2 609.9,319.5 610.5,319.7 611.1,320 611.6,320.3 612.2,320.5 612.8,320.7 613.3,321 613.9,321.2 614.4,321.4 615,321.7 615.6,321.9 616.1,322.1 616.7,322.3 617.2,322.5 617.8,322.7 618.4,322.9 618.9,323 619.5,323.2 620.1,323.4 620.6,323.6 621.2,323.7 621.7,323.9 622.3,324.1 622.9,324.2 623.4,324.4 624,324.5 624.6,324.7 625.1,324.8 625.7,324.9 626.2,325.1 626.8,325.2 627.4,325.3 627.9,325.5 628.5,325.6 629.1,325.7 629.6,325.8 630.2,325.9 630.7,326.1 631.3,326.2 631.9,326.3 632.4,326.4 633,326.5 633.5,326.6 634.1,326.7 634.7,326.8 635.2,326.9 635.8,327 636.4,327 636.9,327.1 637.5,327.2 638,327.3 638.6,327.4 639.2,327.5 639.7,327.5 640.3,327.6 640.9,327.7 641.4,327.8 642,327.8 642.5,327.9 643.1,328 643.7,328 644.2,328.1 644.8,328.2 645.4,328.2 645.9,328.3 646.5,328.3 647,328.4 647.6,328.5 648.2,328.5 648.7,328.6 649.3,328.6 649.8,328.7 650.4,328.7 651,328.8 651.5,328.8 652.1,328.9 652.7,328.9 653.2,328.9 653.8,329 654.3,329 654.9,329.1 655.5,329.1 656,329.1 656.6,329.2 657.2,329.2 657.7,329.3 658.3,329.3 658.8,329.3 659.4,329.4 660,329.4 660.5,329.4 661.1,329.5 661.7,329.5 662.2,329.5 662.8,329.6 663.3,329.6 663.9,329.6 664.5,329.6 665,329.7 665.6,329.7 666.1,329.7 666.7,329.7 667.3,329.8 667.8,329.8 668.4,329.8 669,329.8 669.5,329.9 670.1,329.9 670.6,329.9 671.2,329.9 671.8,329.9 672.3,330 672.9,330 673.5,330 674,330 674.6,330 675.1,330.1 675.7,330.1 676.3,330.1 676.8,330.1 677.4,330.1 678,330.1 678.5,330.2 679.1,330.2 679.6,330.2 680.2,330.2" fill="none" stroke="#A88ED2" stroke-width="1.25" stroke-linejoin="round" stroke-linecap="round" />
<polyline points="500.9,220.5 501.5,220.8 502,221.3 502.6,221.7 503.1,222.2 503.7,222.4 504.3,222.5 504.8,222.6 505.4,222.8 506,222.9 506.5,222.4 507.1,222.1 507.6,222.1 508.2,222.4 508.8,223 509.3,223.9 509.9,224.4 510.5,224.9 511,225.4 511.6,226.4 512.1,227.2 512.7,227.6 513.3,227.6 513.8,227.7 514.4,227.7 515,227.4 515.5,227 516.1,226.8 516.6,226.8 517.2,227 517.8,227.1 518.3,227.4 518.9,227.3 519.4,227.6 520,227.7 520.6,227.8 521.1,227.5 521.7,227.4 522.3,227.7 522.8,228.2 523.4,228.2 523.9,228 524.5,227.9 525.1,228.1 525.6,228.5 526.2,228.5 526.8,228.6 527.3,228.4 527.9,228.5 528.4,228.5 529,228.7 529.6,229 530.1,229.3 530.7,229.3 531.3,229.5 531.8,229.3 532.4,229.5 532.9,229.5 533.5,229.4 534.1,229.3 534.6,229.2 535.2,229.5 535.7,229.9 536.3,230.2 536.9,230.1 537.4,230.2 538,230 538.6,230.4 539.1,230.3 539.7,230.5 540.2,230.3 540.8,230.5 541.4,230.3 541.9,230.5 542.5,230.2 543.1,230.4 543.6,230.4 544.2,230.5 544.7,230.6 545.3,230.8 545.9,231 546.4,231.1 547,231.1 547.6,231.3 548.1,231.4 548.7,231.4 549.2,231.6 549.8,231.4 550.4,231.5 550.9,231.2 551.5,231.6 552,231.5 552.6,231.7 553.2,231.6 553.7,231.7 554.3,231.6 554.9,231.3 555.4,231.3 556,231.7 556.5,231.9 557.1,232.2 557.7,232.1 558.2,232.1 558.8,231.8 559.4,231.7 559.9,231.8 560.5,232 561,232.1 561.6,232.1 562.2,232.2 562.7,232 563.3,231.9 563.9,232.1 564.4,232.2 565,232.1 565.5,232 566.1,232.1 566.7,232.3 567.2,232.4 567.8,232.3 568.3,232.4 568.9,232.4 569.5,232.4 570,232.3 570.6,232.2 571.2,232.3 571.7,232.6 572.3,232.8 572.8,233 573.4,233 574,232.9 574.5,233 575.1,233.2 575.7,233.4 576.2,233.4 576.8,233.3 577.3,233.3 577.9,233.2 578.5,233.3 579,233.3 579.6,233.3 580.2,233.5 580.7,233.9 581.3,234.4 581.8,234.4 582.4,234.5 583,234.7 583.5,234.9 584.1,234.9 584.6,235.4 585.2,235.9 585.8,236.7 586.3,236.8 586.9,237.1 587.5,237.4 588,238 588.6,238.6 589.1,239.3 589.7,240.2 590.3,241.4 590.8,242.6 591.4,243.6 592,244.6 592.5,246.1 593.1,247.7 593.6,249.6 594.2,251.2 594.8,252.9 595.3,255.1 595.9,257.4 596.5,259.9 597,261.9 597.6,264.2 598.1,266.7 598.7,269.1 599.3,271.8 599.8,274.5 600.4,277.2 600.9,279.8 601.5,282.4 602.1,284.9 602.6,287.4 603.2,289.7 603.8,292 604.3,294.1 604.9,296.1 605.4,298 606,299.8 606.6,301.4 607.1,302.9 607.7,304.3 608.3,305.6 608.8,306.8 609.4,307.9 609.9,308.9 610.5,309.9 611.1,310.7 611.6,311.5 612.2,312.2 612.8,312.9 613.3,313.5 613.9,314.1 614.4,314.7 615,315.2 615.6,315.7 616.1,316.2 616.7,316.6 617.2,317 617.8,317.4 618.4,317.8 618.9,318.1 619.5,318.4 620.1,318.8 620.6,319.1 621.2,319.4 621.7,319.7 622.3,320 622.9,320.2 623.4,320.5 624,320.7 624.6,321 625.1,321.2 625.7,321.5 626.2,321.7 626.8,321.9 627.4,322.1 627.9,322.3 628.5,322.5 629.1,322.7 629.6,322.9 630.2,323.1 630.7,323.3 631.3,323.4 631.9,323.6 632.4,323.8 633,323.9 633.5,324.1 634.1,324.3 634.7,324.4 635.2,324.6 635.8,324.7 636.4,324.8 636.9,325 637.5,325.1 638,325.3 638.6,325.4 639.2,325.5 639.7,325.6 640.3,325.8 640.9,325.9 641.4,326 642,326.1 642.5,326.2 643.1,326.3 643.7,326.4 644.2,326.5 644.8,326.6 645.4,326.7 645.9,326.8 646.5,326.9 647,327 647.6,327.1 648.2,327.2 648.7,327.2 649.3,327.3 649.8,327.4 650.4,327.5 651,327.6 651.5,327.6 652.1,327.7 652.7,327.8 653.2,327.9 653.8,327.9 654.3,328 654.9,328.1 655.5,328.1 656,328.2 656.6,328.2 657.2,328.3 657.7,328.4 658.3,328.4 658.8,328.5 659.4,328.5 660,328.6 660.5,328.6 661.1,328.7 661.7,328.7 662.2,328.8 662.8,328.8 663.3,328.9 663.9,328.9 664.5,329 665,329 665.6,329 666.1,329.1 666.7,329.1 667.3,329.2 667.8,329.2 668.4,329.2 669,329.3 669.5,329.3 670.1,329.3 670.6,329.4 671.2,329.4 671.8,329.4 672.3,329.5 672.9,329.5 673.5,329.5 674,329.6 674.6,329.6 675.1,329.6 675.7,329.6 676.3,329.7 676.8,329.7 677.4,329.7 678,329.7 678.5,329.8 679.1,329.8 679.6,329.8 680.2,329.8" fill="none" stroke="#8282D2" stroke-width="1.25" stroke-linejoin="round" stroke-linecap="round" />
<polyline points="500.9,220.9 501.5,221.5 502,222.1 502.6,222.6 503.1,223 503.7,223.4 504.3,223.5 504.8,223.7 505.4,223.8 506,224.2 506.5,224.2 507.1,224.3 507.6,224.1 508.2,224.3 508.8,224.9 509.3,225.7 509.9,226.6 510.5,227.3 511,228.2 511.6,229.1 512.1,229.7 512.7,230.1 513.3,230.5 513.8,230.7 514.4,231 515,230.8 515.5,230.6 516.1,230.5 516.6,230.7 517.2,231 517.8,231 518.3,231 518.9,231 519.4,231.1 520,231.2 520.6,231.3 521.1,231.3 521.7,231.5 522.3,231.6 522.8,231.9 523.4,231.9 523.9,232 524.5,232.4 525.1,232.4 525.6,232.6 526.2,232.6 526.8,232.8 527.3,232.7 527.9,232.9 528.4,233 529,233.2 529.6,233 530.1,233.3 530.7,233.6 531.3,233.8 531.8,233.9 532.4,234 532.9,234.2 533.5,234.2 534.1,234.2 534.6,234.3 535.2,234.7 535.7,234.7 536.3,234.9 536.9,234.7 537.4,234.9 538,234.7 538.6,234.7 539.1,234.9 539.7,235 540.2,235.1 540.8,234.9 541.4,235 541.9,235.1 542.5,235.3 543.1,235.3 543.6,235.2 544.2,235.2 544.7,235.3 545.3,235.4 545.9,235.8 546.4,235.7 547,235.8 547.6,235.6 548.1,235.6 548.7,235.7 549.2,235.9 549.8,236 550.4,235.8 550.9,236.1 551.5,236.3 552,236.4 552.6,236 553.2,235.8 553.7,235.9 554.3,236 554.9,236.2 555.4,236.1 556,236.5 556.5,236.5 557.1,236.6 557.7,236.5 558.2,236.6 558.8,236.7 559.4,236.5 559.9,236.6 560.5,236.6 561,236.6 561.6,236.6 562.2,236.5 562.7,236.5 563.3,236.6 563.9,237 564.4,237.1 565,237 565.5,236.9 566.1,237 566.7,236.8 567.2,236.8 567.8,236.5 568.3,236.6 568.9,236.6 569.5,236.8 570,237.1 570.6,237.2 571.2,237.4 571.7,237.5 572.3,237.6 572.8,237.4 573.4,237.6 574,237.8 574.5,237.8 575.1,237.5 575.7,237.5 576.2,237.7 576.8,237.8 577.3,237.9 577.9,237.7 578.5,237.7 579,237.8 579.6,237.9 580.2,238 580.7,237.9 581.3,238 581.8,237.9 582.4,237.9 583,238.1 583.5,238.4 584.1,238.6 584.6,238.8 585.2,238.8 585.8,238.9 586.3,239.1 586.9,239.4 587.5,239.6 588,239.6 588.6,239.8 589.1,240.2 589.7,240.5 590.3,240.7 590.8,240.9 591.4,241.3 592,241.9 592.5,242.2 593.1,242.9 593.6,243.1 594.2,243.9 594.8,244.6 595.3,245.4 595.9,246.3 596.5,247 597,248.2 597.6,249.5 598.1,251.1 598.7,252.5 599.3,254.1 599.8,255.4 600.4,257.5 600.9,259.1 601.5,261.1 602.1,262.9 602.6,265 603.2,267.1 603.8,269 604.3,271.4 604.9,273.7 605.4,276.1 606,278.4 606.6,280.8 607.1,283.1 607.7,285.4 608.3,287.7 608.8,289.9 609.4,292 609.9,294 610.5,295.9 611.1,297.7 611.6,299.4 612.2,301 612.8,302.5 613.3,303.9 613.9,305.2 614.4,306.4 615,307.5 615.6,308.5 616.1,309.4 616.7,310.3 617.2,311.1 617.8,311.9 618.4,312.6 618.9,313.3 619.5,313.9 620.1,314.4 620.6,315 621.2,315.5 621.7,316 622.3,316.4 622.9,316.8 623.4,317.2 624,317.6 624.6,318 625.1,318.3 625.7,318.7 626.2,319 626.8,319.3 627.4,319.6 627.9,319.9 628.5,320.2 629.1,320.4 629.6,320.7 630.2,321 630.7,321.2 631.3,321.4 631.9,321.7 632.4,321.9 633,322.1 633.5,322.3 634.1,322.5 634.7,322.7 635.2,322.9 635.8,323.1 636.4,323.3 636.9,323.4 637.5,323.6 638,323.8 638.6,323.9 639.2,324.1 639.7,324.3 640.3,324.4 640.9,324.6 641.4,324.7 642,324.9 642.5,325 643.1,325.1 643.7,325.3 644.2,325.4 644.8,325.5 645.4,325.6 645.9,325.8 646.5,325.9 647,326 647.6,326.1 648.2,326.2 648.7,326.3 649.3,326.4 649.8,326.5 650.4,326.6 651,326.7 651.5,326.8 652.1,326.9 652.7,327 653.2,327.1 653.8,327.2 654.3,327.2 654.9,327.3 655.5,327.4 656,327.5 656.6,327.6 657.2,327.6 657.7,327.7 658.3,327.8 658.8,327.9 659.4,327.9 660,328 660.5,328.1 661.1,328.1 661.7,328.2 662.2,328.2 662.8,328.3 663.3,328.4 663.9,328.4 664.5,328.5 665,328.5 665.6,328.6 666.1,328.6 666.7,328.7 667.3,328.7 667.8,328.8 668.4,328.8 669,328.9 669.5,328.9 670.1,329 670.6,329 671.2,329 671.8,329.1 672.3,329.1 672.9,329.2 673.5,329.2 674,329.2 674.6,329.3 675.1,329.3 675.7,329.3 676.3,329.4 676.8,329.4 677.4,329.4 678,329.5 678.5,329.5 679.1,329.5 679.6,329.6 680.2,329.6" fill="none" stroke="#6A6CCA" stroke-width="1.25" stroke-linejoin="round" stroke-linecap="round" />
<polyline points="500.9,221 501.5,221.4 502,221.9 502.6,222.2 503.1,222.4 503.7,222.6 504.3,222.6 504.8,223 505.4,223.2 506,223.3 506.5,223.1 507.1,223.3 507.6,223.7 508.2,224.2 508.8,224.5 509.3,225 509.9,225.7 510.5,226.4 511,227.1 511.6,227.8 512.1,228.4 512.7,229 513.3,229.6 513.8,229.6 514.4,229.3 515,229 515.5,229.1 516.1,229.1 516.6,229 517.2,229 517.8,229.2 518.3,229.8 518.9,229.9 519.4,230 520,229.8 520.6,230 521.1,230.1 521.7,230.3 522.3,230.3 522.8,230.2 523.4,230.4 523.9,230.6 524.5,230.9 525.1,230.9 525.6,231 526.2,231.2 526.8,231.2 527.3,231.3 527.9,231.2 528.4,231.4 529,232 529.6,232.2 530.1,232.4 530.7,232.4 531.3,232.5 531.8,232.4 532.4,232.3 532.9,232.4 533.5,232.5 534.1,232.6 534.6,232.8 535.2,233.3 535.7,233.6 536.3,233.7 536.9,233.5 537.4,233.4 538,233.3 538.6,233.5 539.1,233.4 539.7,233.7 540.2,234 540.8,234.4 541.4,234.6 541.9,234.4 542.5,234.4 543.1,234.5 543.6,234.7 544.2,235.1 544.7,235.3 545.3,235.6 545.9,235.7 546.4,236 547,236.4 547.6,236.7 548.1,237 548.7,237.5 549.2,238.1 549.8,238.8 550.4,239.3 550.9,240.1 551.5,241.4 552,242.8 552.6,244.2 553.2,245.7 553.7,247.6 554.3,249.8 554.9,252.4 555.4,255 556,257.6 556.5,260.8 557.1,263.9 557.7,267 558.2,270.2 558.8,273.3 559.4,276.2 559.9,279 560.5,281.6 561,284 561.6,286.2 562.2,288.2 562.7,290 563.3,291.7 563.9,293.1 564.4,294.5 565,295.7 565.5,296.8 566.1,297.7 566.7,298.7 567.2,299.5 567.8,300.3 568.3,301 568.9,301.6 569.5,302.2 570,302.8 570.6,303.4 571.2,303.9 571.7,304.4 572.3,304.9 572.8,305.3 573.4,305.8 574,306.2 574.5,306.6 575.1,307 575.7,307.4 576.2,307.8 576.8,308.2 577.3,308.5 577.9,308.9 578.5,309.3 579,309.6 579.6,309.9 580.2,310.3 580.7,310.6 581.3,310.9 581.8,311.2 582.4,311.5 583,311.8 583.5,312.1 584.1,312.4 584.6,312.7 585.2,313 585.8,313.3 586.3,313.5 586.9,313.8 587.5,314.1 588,314.3 588.6,314.6 589.1,314.8 589.7,315.1 590.3,315.3 590.8,315.6 591.4,315.8 592,316 592.5,316.3 593.1,316.5 593.6,316.7 594.2,316.9 594.8,317.1 595.3,317.3 595.9,317.6 596.5,317.8 597,318 597.6,318.2 598.1,318.4 598.7,318.5 599.3,318.7 599.8,318.9 600.4,319.1 600.9,319.3 601.5,319.5 602.1,319.6 602.6,319.8 603.2,320 603.8,320.2 604.3,320.3 604.9,320.5 605.4,320.6 606,320.8 606.6,321 607.1,321.1 607.7,321.3 608.3,321.4 608.8,321.6 609.4,321.7 609.9,321.8 610.5,322 611.1,322.1 611.6,322.2 612.2,322.4 612.8,322.5 613.3,322.6 613.9,322.8 614.4,322.9 615,323 615.6,323.1 616.1,323.2 616.7,323.4 617.2,323.5 617.8,323.6 618.4,323.7 618.9,323.8 619.5,323.9 620.1,324 620.6,324.1 621.2,324.2 621.7,324.3 622.3,324.4 622.9,324.5 623.4,324.6 624,324.7 624.6,324.8 625.1,324.9 625.7,325 626.2,325.1 626.8,325.2 627.4,325.3 627.9,325.4 628.5,325.4 629.1,325.5 629.6,325.6 630.2,325.7 630.7,325.8 631.3,325.8 631.9,325.9 632.4,326 633,326.1 633.5,326.1 634.1,326.2 634.7,326.3 635.2,326.4 635.8,326.4 636.4,326.5 636.9,326.6 637.5,326.6 638,326.7 638.6,326.8 639.2,326.8 639.7,326.9 640.3,326.9 640.9,327 641.4,327.1 642,327.1 642.5,327.2 643.1,327.2 643.7,327.3 644.2,327.3 644.8,327.4 645.4,327.4 645.9,327.5 646.5,327.6 647,327.6 647.6,327.7 648.2,327.7 648.7,327.7 649.3,327.8 649.8,327.8 650.4,327.9 651,327.9 651.5,328 652.1,328 652.7,328.1 653.2,328.1 653.8,328.1 654.3,328.2 654.9,328.2 655.5,328.3 656,328.3 656.6,328.3 657.2,328.4 657.7,328.4 658.3,328.5 658.8,328.5 659.4,328.5 660,328.6 660.5,328.6 661.1,328.6 661.7,328.7 662.2,328.7 662.8,328.7 663.3,328.8 663.9,328.8 664.5,328.8 665,328.9 665.6,328.9 666.1,328.9 666.7,328.9 667.3,329 667.8,329 668.4,329 669,329.1 669.5,329.1 670.1,329.1 670.6,329.1 671.2,329.2 671.8,329.2 672.3,329.2 672.9,329.2 673.5,329.3 674,329.3 674.6,329.3 675.1,329.3 675.7,329.4 676.3,329.4 676.8,329.4 677.4,329.4 678,329.4 678.5,329.5 679.1,329.5 679.6,329.5 680.2,329.5" fill="none" stroke="#F2606E" stroke-width="1.25" stroke-linejoin="round" stroke-linecap="round" />
<circle cx="536.2" cy="281.4" r="8.6" fill="#E6C07A"/>
<path d="M537.2,272.9 A8.6,8.6 0 0 1 537.2,289.9 Q533.7,285.4 534.7,281.4 Q533.7,276.4 537.2,272.9 Z" fill="#C0180A"/>
<circle cx="536.2" cy="281.4" r="8.6" fill="none" stroke="#5a2a10" stroke-width="0.6"/>
<circle cx="534.5" cy="285" r="0.8" fill="#301008"/>
<circle cx="624.6" cy="281.8" r="8.6" fill="#E2B86E"/>
<path d="M625.6,273.3 A8.6,8.6 0 0 1 625.6,290.3 Q622.1,285.8 623.1,281.8 Q622.1,276.8 625.6,273.3 Z" fill="#140c06"/>
<circle cx="624.6" cy="281.8" r="8.6" fill="none" stroke="#140c06" stroke-width="0.6"/>
<line x1="549.8" y1="281.4" x2="607.5" y2="281.4" stroke="#E8302A" stroke-width="0.8" stroke-dasharray="2,1.3"/>
<path d="M612,281.4 L606.5,279.3 L606.5,283.5 Z" fill="#E8302A"/>
<text x="621.8" y="195.76" font-size="7.4" text-anchor="start" fill="#111" font-weight="bold" >Pressure (GPa)</text>
<line x1="641.3" y1="201.7" x2="657.3" y2="201.7" stroke="#F25C70" stroke-width="1.3" />
<text x="659.8" y="204.36" font-size="7.4" text-anchor="start" fill="#111" font-weight="bold" >0.0</text>
<line x1="641.3" y1="211.5" x2="657.3" y2="211.5" stroke="#EE6480" stroke-width="1.3" />
<text x="659.8" y="214.16" font-size="7.4" text-anchor="start" fill="#111" font-weight="bold" >0.6</text>
<line x1="641.3" y1="220.9" x2="657.3" y2="220.9" stroke="#E47AA4" stroke-width="1.3" />
<text x="659.8" y="223.56" font-size="7.4" text-anchor="start" fill="#111" font-weight="bold" >1.2</text>
<line x1="641.3" y1="230.7" x2="657.3" y2="230.7" stroke="#D67ABA" stroke-width="1.3" />
<text x="659.8" y="233.36" font-size="7.4" text-anchor="start" fill="#111" font-weight="bold" >2.6</text>
<line x1="641.3" y1="240.2" x2="657.3" y2="240.2" stroke="#C076C8" stroke-width="1.3" />
<text x="659.8" y="242.86" font-size="7.4" text-anchor="start" fill="#111" font-weight="bold" >4.2</text>
<line x1="641.3" y1="250" x2="657.3" y2="250" stroke="#A88ED2" stroke-width="1.3" />
<text x="659.8" y="252.66" font-size="7.4" text-anchor="start" fill="#111" font-weight="bold" >5.5</text>
<line x1="641.3" y1="259.8" x2="657.3" y2="259.8" stroke="#8282D2" stroke-width="1.3" />
<text x="659.8" y="262.46" font-size="7.4" text-anchor="start" fill="#111" font-weight="bold" >7.0</text>
<line x1="641.3" y1="269.3" x2="657.3" y2="269.3" stroke="#6A6CCA" stroke-width="1.3" />
<text x="659.8" y="271.96" font-size="7.4" text-anchor="start" fill="#111" font-weight="bold" >8.5</text>
<line x1="641.3" y1="279.1" x2="657.3" y2="279.1" stroke="#F2606E" stroke-width="1.3" />
<text x="659.8" y="281.76" font-size="7.4" text-anchor="start" fill="#111" font-weight="bold" >R 0.0</text>
<text x="505" y="196.96" font-size="7.4" text-anchor="start" fill="#111" font-weight="bold" >TP-BT-0F-COF</text>
<rect x="500.4" y="186.4" width="180.1" height="145.4" fill="none" stroke="#333" stroke-width="1.1"/>
<line x1="500.4" y1="331.8" x2="500.4" y2="333.1" stroke="#333" stroke-width="0.9" />
<line x1="516.77" y1="331.8" x2="516.77" y2="333.1" stroke="#333" stroke-width="0.9" />
<line x1="533.15" y1="331.8" x2="533.15" y2="333.1" stroke="#333" stroke-width="0.9" />
<line x1="549.52" y1="331.8" x2="549.52" y2="333.1" stroke="#333" stroke-width="0.9" />
<line x1="565.89" y1="331.8" x2="565.89" y2="333.1" stroke="#333" stroke-width="0.9" />
<line x1="582.26" y1="331.8" x2="582.26" y2="333.1" stroke="#333" stroke-width="0.9" />
<line x1="598.64" y1="331.8" x2="598.64" y2="333.1" stroke="#333" stroke-width="0.9" />
<line x1="615.01" y1="331.8" x2="615.01" y2="333.1" stroke="#333" stroke-width="0.9" />
<line x1="631.38" y1="331.8" x2="631.38" y2="333.1" stroke="#333" stroke-width="0.9" />
<line x1="647.75" y1="331.8" x2="647.75" y2="333.1" stroke="#333" stroke-width="0.9" />
<line x1="664.13" y1="331.8" x2="664.13" y2="333.1" stroke="#333" stroke-width="0.9" />
<line x1="680.5" y1="331.8" x2="680.5" y2="333.1" stroke="#333" stroke-width="0.9" />
<line x1="500.4" y1="331.8" x2="500.4" y2="334" stroke="#333" stroke-width="0.9" />
<text x="500.4" y="342.85" font-size="8.2" text-anchor="middle" fill="#222" font-weight="bold" >400</text>
<line x1="533.15" y1="331.8" x2="533.15" y2="334" stroke="#333" stroke-width="0.9" />
<text x="533.15" y="342.85" font-size="8.2" text-anchor="middle" fill="#222" font-weight="bold" >500</text>
<line x1="565.89" y1="331.8" x2="565.89" y2="334" stroke="#333" stroke-width="0.9" />
<text x="565.89" y="342.85" font-size="8.2" text-anchor="middle" fill="#222" font-weight="bold" >600</text>
<line x1="598.64" y1="331.8" x2="598.64" y2="334" stroke="#333" stroke-width="0.9" />
<text x="598.64" y="342.85" font-size="8.2" text-anchor="middle" fill="#222" font-weight="bold" >700</text>
<line x1="631.38" y1="331.8" x2="631.38" y2="334" stroke="#333" stroke-width="0.9" />
<text x="631.38" y="342.85" font-size="8.2" text-anchor="middle" fill="#222" font-weight="bold" >800</text>
<line x1="664.13" y1="331.8" x2="664.13" y2="334" stroke="#333" stroke-width="0.9" />
<text x="664.13" y="342.85" font-size="8.2" text-anchor="middle" fill="#222" font-weight="bold" >900</text>
<text x="467.6" y="192" font-size="11.5" text-anchor="start" fill="#111" font-weight="bold" >(F)</text>
<text x="590.5" y="357.1" font-size="8.9" text-anchor="middle" fill="#111" font-weight="bold" >Wavelength (nm)</text>
<text transform="translate(492,259.1) rotate(-90)" x="0" y="3.2" font-size="8.9" text-anchor="middle" fill="#111" font-weight="bold" >Absorbance (a.u.)</text>
<clipPath id="cg"><rect x="278.2" y="365.5" width="178.8" height="145.2"/></clipPath>
<g clip-path="url(#cg)"><polyline points="278.7,509.4 279.3,509.4 279.8,509.4 280.4,509.4 281,509.4 281.5,509.4 282.1,509.4 282.7,509.4 283.2,509.4 283.8,509.4 284.4,509.4 284.9,509.4 285.5,509.4 286,509.4 286.6,509.4 287.2,509.4 287.7,509.4 288.3,509.4 288.9,509.4 289.4,509.4 290,509.4 290.6,509.4 291.1,509.4 291.7,509.4 292.3,509.4 292.8,509.4 293.4,509.4 294,509.4 294.5,509.4 295.1,509.4 295.7,509.4 296.2,509.4 296.8,509.4 297.4,509.4 297.9,509.4 298.5,509.4 299,509.4 299.6,509.4 300.2,509.4 300.7,509.4 301.3,509.4 301.9,509.4 302.4,509.4 303,509.4 303.6,509.4 304.1,509.4 304.7,509.4 305.3,509.4 305.8,509.4 306.4,509.4 307,509.4 307.5,509.4 308.1,509.4 308.7,509.4 309.2,509.4 309.8,509.4 310.4,509.4 310.9,509.4 311.5,509.4 312,509.4 312.6,509.4 313.2,509.4 313.7,509.4 314.3,509.4 314.9,509.4 315.4,509.4 316,509.4 316.6,509.4 317.1,509.4 317.7,509.4 318.3,509.4 318.8,509.4 319.4,509.4 320,509.4 320.5,509.4 321.1,509.4 321.7,509.4 322.2,509.4 322.8,509.4 323.4,509.4 323.9,509.4 324.5,509.4 325,509.4 325.6,509.4 326.2,509.4 326.7,509.4 327.3,509.4 327.9,509.4 328.4,509.4 329,509.4 329.6,509.4 330.1,509.4 330.7,509.4 331.3,509.4 331.8,509.4 332.4,509.4 333,509.4 333.5,509.4 334.1,509.4 334.7,509.4 335.2,509.4 335.8,509.4 336.4,509.4 336.9,509.4 337.5,509.4 338,509.4 338.6,509.4 339.2,509.4 339.7,509.4 340.3,509.4 340.9,509.4 341.4,509.4 342,509.4 342.6,509.4 343.1,509.4 343.7,509.4 344.3,509.4 344.8,509.4 345.4,509.4 346,509.4 346.5,509.4 347.1,509.4 347.7,509.4 348.2,509.4 348.8,509.4 349.4,509.4 349.9,509.4 350.5,509.4 351,509.4 351.6,509.4 352.2,509.4 352.7,509.4 353.3,509.4 353.9,509.4 354.4,509.4 355,509.4 355.6,509.4 356.1,509.4 356.7,509.4 357.3,509.4 357.8,509.4 358.4,509.4 359,509.4 359.5,509.4 360.1,509.4 360.7,509.4 361.2,509.4 361.8,509.4 362.4,509.4 362.9,509.4 363.5,509.4 364,509.4 364.6,509.4 365.2,509.4 365.7,509.4 366.3,509.4 366.9,509.4 367.4,509.4 368,509.3 368.6,509.3 369.1,509.3 369.7,509.3 370.3,509.3 370.8,509.3 371.4,509.3 372,509.3 372.5,509.3 373.1,509.3 373.7,509.3 374.2,509.3 374.8,509.2 375.3,509.2 375.9,509.2 376.5,509.2 377,509.2 377.6,509.1 378.2,509.1 378.7,509.1 379.3,509.1 379.9,509 380.4,509 381,509 381.6,508.9 382.1,508.9 382.7,508.8 383.3,508.8 383.8,508.7 384.4,508.7 385,508.6 385.5,508.5 386.1,508.4 386.7,508.3 387.2,508.2 387.8,508.1 388.3,508 388.9,507.9 389.5,507.8 390,507.6 390.6,507.5 391.2,507.3 391.7,507.2 392.3,507 392.9,506.8 393.4,506.6 394,506.4 394.6,506.1 395.1,505.9 395.7,505.6 396.3,505.4 396.8,505.1 397.4,504.8 398,504.5 398.5,504.2 399.1,503.8 399.7,503.4 400.2,503.1 400.8,502.6 401.3,502.2 401.9,501.7 402.5,501.3 403,500.7 403.6,500.1 404.2,499.5 404.7,498.8 405.3,498.1 405.9,497.2 406.4,496.3 407,495.2 407.6,494.1 408.1,492.8 408.7,491.3 409.3,489.7 409.8,487.9 410.4,485.8 411,483.6 411.5,481.1 412.1,478.3 412.7,475.4 413.2,472.2 413.8,468.7 414.3,465.1 414.9,461.4 415.5,457.5 416,453.5 416.6,449.6 417.2,445.7 417.7,441.8 418.3,438.1 418.9,434.5 419.4,431.1 420,428 420.6,425.1 421.1,422.5 421.7,420 422.3,417.8 422.8,415.8 423.4,413.9 424,412.2 424.5,410.7 425.1,409.4 425.7,408.3 426.2,407.1 426.8,406 427.3,405.1 427.9,404.1 428.5,403.4 429,402.6 429.6,401.7 430.2,401 430.7,400.4 431.3,400 431.9,399.5 432.4,398.7 433,398.3 433.6,397.6 434.1,396.9 434.7,396.5 435.3,395.5 435.8,394.9 436.4,394.4 437,393.6 437.5,393.2 438.1,392.4 438.7,392.2 439.2,392.1 439.8,392.1 440.3,391.5 440.9,390.5 441.5,390.3 442,389.8 442.6,389.6 443.2,389.7 443.7,388.8 444.3,388.1 444.9,387.9 445.4,387.6 446,387.3 446.6,387.3 447.1,386.5 447.7,385.7 448.3,385.2 448.8,384 449.4,383.7 450,383.4 450.5,382.9 451.1,382.8 451.7,382.6 452.2,381.7 452.8,380.9 453.3,380.3 453.9,379.2 454.5,379.4 455,379.3 455.6,378.8 456.2,378.5 456.7,378.3 457.3,377.7 457.9,377.2 458.4,377 459,375.9" fill="none" stroke="#F26676" stroke-width="1.2" stroke-linejoin="round"/><polyline points="278.7,509.4 279.3,509.4 279.8,509.4 280.4,509.4 281,509.4 281.5,509.4 282.1,509.4 282.7,509.4 283.2,509.4 283.8,509.4 284.4,509.4 284.9,509.4 285.5,509.4 286,509.4 286.6,509.4 287.2,509.4 287.7,509.4 288.3,509.4 288.9,509.4 289.4,509.4 290,509.4 290.6,509.4 291.1,509.4 291.7,509.4 292.3,509.4 292.8,509.4 293.4,509.4 294,509.4 294.5,509.4 295.1,509.4 295.7,509.4 296.2,509.4 296.8,509.4 297.4,509.4 297.9,509.4 298.5,509.4 299,509.4 299.6,509.4 300.2,509.4 300.7,509.4 301.3,509.4 301.9,509.4 302.4,509.4 303,509.4 303.6,509.4 304.1,509.4 304.7,509.4 305.3,509.4 305.8,509.4 306.4,509.4 307,509.4 307.5,509.4 308.1,509.4 308.7,509.4 309.2,509.4 309.8,509.4 310.4,509.4 310.9,509.4 311.5,509.4 312,509.4 312.6,509.4 313.2,509.4 313.7,509.4 314.3,509.4 314.9,509.4 315.4,509.4 316,509.4 316.6,509.4 317.1,509.4 317.7,509.4 318.3,509.4 318.8,509.4 319.4,509.4 320,509.4 320.5,509.4 321.1,509.4 321.7,509.4 322.2,509.4 322.8,509.4 323.4,509.4 323.9,509.4 324.5,509.4 325,509.4 325.6,509.4 326.2,509.4 326.7,509.4 327.3,509.4 327.9,509.4 328.4,509.4 329,509.4 329.6,509.4 330.1,509.4 330.7,509.4 331.3,509.4 331.8,509.4 332.4,509.4 333,509.4 333.5,509.4 334.1,509.4 334.7,509.4 335.2,509.4 335.8,509.4 336.4,509.4 336.9,509.3 337.5,509.3 338,509.3 338.6,509.3 339.2,509.3 339.7,509.3 340.3,509.3 340.9,509.3 341.4,509.3 342,509.3 342.6,509.3 343.1,509.3 343.7,509.3 344.3,509.3 344.8,509.3 345.4,509.3 346,509.2 346.5,509.2 347.1,509.2 347.7,509.2 348.2,509.2 348.8,509.2 349.4,509.2 349.9,509.1 350.5,509.1 351,509.1 351.6,509.1 352.2,509.1 352.7,509 353.3,509 353.9,509 354.4,509 355,508.9 355.6,508.9 356.1,508.9 356.7,508.8 357.3,508.8 357.8,508.7 358.4,508.7 359,508.7 359.5,508.6 360.1,508.5 360.7,508.5 361.2,508.4 361.8,508.4 362.4,508.3 362.9,508.2 363.5,508.1 364,508.1 364.6,508 365.2,507.9 365.7,507.8 366.3,507.7 366.9,507.6 367.4,507.5 368,507.3 368.6,507.2 369.1,507.1 369.7,506.9 370.3,506.8 370.8,506.6 371.4,506.5 372,506.3 372.5,506.2 373.1,506 373.7,505.8 374.2,505.6 374.8,505.4 375.3,505.2 375.9,505 376.5,504.8 377,504.5 377.6,504.3 378.2,504.1 378.7,503.8 379.3,503.5 379.9,503.3 380.4,503 381,502.7 381.6,502.4 382.1,502.1 382.7,501.8 383.3,501.4 383.8,501.1 384.4,500.7 385,500.3 385.5,499.9 386.1,499.4 386.7,499 387.2,498.4 387.8,497.9 388.3,497.3 388.9,496.6 389.5,495.9 390,495.1 390.6,494.2 391.2,493.2 391.7,492.2 392.3,491 392.9,489.7 393.4,488.3 394,486.8 394.6,485.1 395.1,483.3 395.7,481.3 396.3,479.2 396.8,477 397.4,474.6 398,472.1 398.5,469.4 399.1,466.7 399.7,463.9 400.2,461 400.8,458.2 401.3,455.3 401.9,452.4 402.5,449.6 403,446.9 403.6,444.3 404.2,441.8 404.7,439.4 405.3,437.1 405.9,435 406.4,433.1 407,431.4 407.6,429.7 408.1,428.3 408.7,426.8 409.3,425.5 409.8,424.2 410.4,423 411,422.1 411.5,421.2 412.1,420.2 412.7,419.4 413.2,418.6 413.8,418 414.3,417.5 414.9,417 415.5,416.1 416,415.8 416.6,415.4 417.2,415 417.7,414.8 418.3,414.1 418.9,413.6 419.4,412.9 420,412.5 420.6,411.8 421.1,411.5 421.7,411 422.3,410.2 422.8,409.9 423.4,409.4 424,409.1 424.5,408.7 425.1,408 425.7,407.2 426.2,407.1 426.8,407 427.3,406.8 427.9,406.5 428.5,405.5 429,405.1 429.6,404.7 430.2,404.3 430.7,404 431.3,403.5 431.9,402.6 432.4,402.2 433,401.5 433.6,400.6 434.1,400.4 434.7,399.8 435.3,399.9 435.8,399.6 436.4,399 437,398.2 437.5,396.9 438.1,396.1 438.7,395.7 439.2,395.2 439.8,395.4 440.3,395.7 440.9,395.1 441.5,395.2 442,394.6 442.6,394 443.2,393.6 443.7,392.9 444.3,392.2 444.9,391.6 445.4,391.1 446,390.4 446.6,390.3 447.1,389.7 447.7,389.3 448.3,389 448.8,388.6 449.4,387.8 450,387.5 450.5,387 451.1,386.2 451.7,386.1 452.2,385.2 452.8,384.9 453.3,384.5 453.9,384 454.5,384.1 455,383.2 455.6,383 456.2,382.3 456.7,381.4 457.3,380.7 457.9,380 458.4,380 459,379.7" fill="none" stroke="#EE5C78" stroke-width="1.2" stroke-linejoin="round"/><polyline points="278.7,509.4 279.3,509.4 279.8,509.4 280.4,509.4 281,509.4 281.5,509.4 282.1,509.4 282.7,509.4 283.2,509.4 283.8,509.4 284.4,509.4 284.9,509.4 285.5,509.4 286,509.4 286.6,509.4 287.2,509.4 287.7,509.4 288.3,509.4 288.9,509.4 289.4,509.4 290,509.4 290.6,509.4 291.1,509.4 291.7,509.4 292.3,509.4 292.8,509.4 293.4,509.4 294,509.4 294.5,509.4 295.1,509.4 295.7,509.4 296.2,509.4 296.8,509.4 297.4,509.4 297.9,509.4 298.5,509.4 299,509.4 299.6,509.4 300.2,509.4 300.7,509.4 301.3,509.4 301.9,509.4 302.4,509.4 303,509.4 303.6,509.4 304.1,509.4 304.7,509.4 305.3,509.4 305.8,509.4 306.4,509.4 307,509.4 307.5,509.4 308.1,509.4 308.7,509.4 309.2,509.4 309.8,509.4 310.4,509.4 310.9,509.4 311.5,509.4 312,509.4 312.6,509.4 313.2,509.4 313.7,509.4 314.3,509.4 314.9,509.4 315.4,509.4 316,509.4 316.6,509.4 317.1,509.4 317.7,509.4 318.3,509.4 318.8,509.4 319.4,509.4 320,509.4 320.5,509.4 321.1,509.4 321.7,509.4 322.2,509.4 322.8,509.4 323.4,509.4 323.9,509.4 324.5,509.4 325,509.4 325.6,509.4 326.2,509.4 326.7,509.4 327.3,509.4 327.9,509.4 328.4,509.4 329,509.4 329.6,509.4 330.1,509.4 330.7,509.4 331.3,509.4 331.8,509.3 332.4,509.3 333,509.3 333.5,509.3 334.1,509.3 334.7,509.3 335.2,509.3 335.8,509.3 336.4,509.3 336.9,509.3 337.5,509.3 338,509.3 338.6,509.3 339.2,509.3 339.7,509.3 340.3,509.3 340.9,509.2 341.4,509.2 342,509.2 342.6,509.2 343.1,509.2 343.7,509.2 344.3,509.2 344.8,509.1 345.4,509.1 346,509.1 346.5,509.1 347.1,509.1 347.7,509 348.2,509 348.8,509 349.4,509 349.9,508.9 350.5,508.9 351,508.9 351.6,508.8 352.2,508.8 352.7,508.7 353.3,508.7 353.9,508.6 354.4,508.6 355,508.5 355.6,508.5 356.1,508.4 356.7,508.4 357.3,508.3 357.8,508.2 358.4,508.1 359,508 359.5,508 360.1,507.9 360.7,507.8 361.2,507.7 361.8,507.6 362.4,507.4 362.9,507.3 363.5,507.2 364,507.1 364.6,506.9 365.2,506.8 365.7,506.6 366.3,506.5 366.9,506.3 367.4,506.2 368,506 368.6,505.8 369.1,505.6 369.7,505.4 370.3,505.2 370.8,505 371.4,504.8 372,504.6 372.5,504.3 373.1,504.1 373.7,503.9 374.2,503.6 374.8,503.4 375.3,503.1 375.9,502.8 376.5,502.6 377,502.3 377.6,502 378.2,501.6 378.7,501.3 379.3,501 379.9,500.6 380.4,500.2 381,499.8 381.6,499.3 382.1,498.8 382.7,498.2 383.3,497.6 383.8,497 384.4,496.2 385,495.4 385.5,494.5 386.1,493.4 386.7,492.3 387.2,491 387.8,489.5 388.3,487.9 388.9,486.1 389.5,484.1 390,481.9 390.6,479.5 391.2,476.9 391.7,474 392.3,470.9 392.9,467.6 393.4,464.2 394,460.6 394.6,456.8 395.1,453 395.7,449.2 396.3,445.4 396.8,441.6 397.4,438 398,434.4 398.5,431 399.1,427.8 399.7,424.8 400.2,421.8 400.8,419.2 401.3,416.8 401.9,414.6 402.5,412.8 403,411 403.6,409.3 404.2,407.7 404.7,406.1 405.3,404.8 405.9,403.4 406.4,402.1 407,400.8 407.6,399.8 408.1,399 408.7,398.2 409.3,397.5 409.8,396.5 410.4,395.6 411,394.9 411.5,394.3 412.1,393.9 412.7,393.4 413.2,392.7 413.8,392 414.3,391.4 414.9,390.8 415.5,390.4 416,390.1 416.6,389.6 417.2,388.7 417.7,388 418.3,386.9 418.9,386.1 419.4,385.7 420,385.2 420.6,384.8 421.1,384.3 421.7,383.8 422.3,383.3 422.8,383.2 423.4,382.3 424,381.5 424.5,381.7 425.1,380.8 425.7,380.4 426.2,379.9 426.8,378.8 427.3,378.5 427.9,378.3 428.5,378 429,377.5 429.6,376.4 430.2,375.8 430.7,375.5 431.3,375.2 431.9,375 432.4,374.6 433,373.6 433.6,372.8 434.1,372.1 434.7,371.3 435.3,370.9 435.8,370.3 436.4,370.2 437,370.2 437.5,369.9 438.1,369.4 438.7,368.5 439.2,367.4 439.8,366.4 440.3,365.9 440.9,365.6 441.5,365.3 442,365 442.6,364.5 443.2,363.9 443.7,363.1 444.3,362.9 444.9,362.6 445.4,361.9 446,361.3 446.6,360.3 447.1,359.5 447.7,359.5 448.3,359.4 448.8,359.2 449.4,358.9 450,358.4 450.5,357.8 451.1,357.1 451.7,356.3 452.2,355.1 452.8,354.4 453.3,354.2 453.9,353.6 454.5,353.3 455,353 455.6,352.1 456.2,351.6 456.7,351.5 457.3,350.9 457.9,350.5 458.4,350 459,349.1" fill="none" stroke="#E276A0" stroke-width="1.2" stroke-linejoin="round"/><polyline points="278.7,509.4 279.3,509.4 279.8,509.4 280.4,509.4 281,509.4 281.5,509.4 282.1,509.4 282.7,509.4 283.2,509.4 283.8,509.4 284.4,509.4 284.9,509.4 285.5,509.4 286,509.4 286.6,509.4 287.2,509.4 287.7,509.4 288.3,509.4 288.9,509.4 289.4,509.4 290,509.4 290.6,509.4 291.1,509.4 291.7,509.4 292.3,509.4 292.8,509.4 293.4,509.4 294,509.4 294.5,509.4 295.1,509.4 295.7,509.4 296.2,509.4 296.8,509.4 297.4,509.4 297.9,509.4 298.5,509.4 299,509.4 299.6,509.4 300.2,509.4 300.7,509.4 301.3,509.4 301.9,509.4 302.4,509.4 303,509.4 303.6,509.4 304.1,509.4 304.7,509.4 305.3,509.4 305.8,509.4 306.4,509.4 307,509.4 307.5,509.4 308.1,509.4 308.7,509.4 309.2,509.4 309.8,509.4 310.4,509.4 310.9,509.4 311.5,509.4 312,509.4 312.6,509.4 313.2,509.4 313.7,509.4 314.3,509.4 314.9,509.4 315.4,509.4 316,509.4 316.6,509.4 317.1,509.4 317.7,509.4 318.3,509.4 318.8,509.4 319.4,509.4 320,509.4 320.5,509.4 321.1,509.4 321.7,509.4 322.2,509.4 322.8,509.4 323.4,509.4 323.9,509.4 324.5,509.4 325,509.4 325.6,509.4 326.2,509.4 326.7,509.4 327.3,509.4 327.9,509.4 328.4,509.4 329,509.4 329.6,509.4 330.1,509.4 330.7,509.4 331.3,509.4 331.8,509.4 332.4,509.3 333,509.3 333.5,509.3 334.1,509.3 334.7,509.3 335.2,509.3 335.8,509.3 336.4,509.3 336.9,509.3 337.5,509.3 338,509.3 338.6,509.3 339.2,509.3 339.7,509.3 340.3,509.2 340.9,509.2 341.4,509.2 342,509.2 342.6,509.2 343.1,509.2 343.7,509.1 344.3,509.1 344.8,509.1 345.4,509.1 346,509.1 346.5,509 347.1,509 347.7,509 348.2,508.9 348.8,508.9 349.4,508.8 349.9,508.8 350.5,508.7 351,508.7 351.6,508.6 352.2,508.6 352.7,508.5 353.3,508.4 353.9,508.4 354.4,508.3 355,508.2 355.6,508.1 356.1,508 356.7,507.9 357.3,507.8 357.8,507.6 358.4,507.5 359,507.3 359.5,507.2 360.1,507 360.7,506.9 361.2,506.7 361.8,506.5 362.4,506.3 362.9,506 363.5,505.8 364,505.5 364.6,505.3 365.2,505 365.7,504.7 366.3,504.4 366.9,504 367.4,503.7 368,503.3 368.6,502.9 369.1,502.4 369.7,502 370.3,501.5 370.8,500.9 371.4,500.3 372,499.7 372.5,499.1 373.1,498.4 373.7,497.6 374.2,496.8 374.8,495.9 375.3,494.9 375.9,493.8 376.5,492.7 377,491.5 377.6,490.2 378.2,488.8 378.7,487.3 379.3,485.7 379.9,484 380.4,482.2 381,480.2 381.6,478.2 382.1,476.1 382.7,473.9 383.3,471.7 383.8,469.3 384.4,466.9 385,464.5 385.5,462.1 386.1,459.7 386.7,457.3 387.2,454.9 387.8,452.6 388.3,450.3 388.9,448.1 389.5,445.9 390,443.8 390.6,441.8 391.2,440.1 391.7,438.4 392.3,436.8 392.9,435.4 393.4,433.9 394,432.6 394.6,431.4 395.1,430.2 395.7,429.2 396.3,428 396.8,427.1 397.4,426 398,425 398.5,424.2 399.1,423.3 399.7,422.8 400.2,422.4 400.8,421.7 401.3,421.2 401.9,420.8 402.5,420 403,419.7 403.6,419.1 404.2,418.7 404.7,417.7 405.3,417.3 405.9,416.4 406.4,415.4 407,415.4 407.6,414.4 408.1,413.8 408.7,413.7 409.3,412.9 409.8,412.7 410.4,411.9 411,411.4 411.5,410.9 412.1,410.2 412.7,410.3 413.2,409.8 413.8,409.2 414.3,408.7 414.9,407.5 415.5,407 416,406.8 416.6,406.3 417.2,406 417.7,405.3 418.3,404.9 418.9,404.6 419.4,403.9 420,403.5 420.6,402.9 421.1,402.4 421.7,402.3 422.3,401.6 422.8,401.1 423.4,400 424,399 424.5,398.7 425.1,398.3 425.7,398.3 426.2,398 426.8,397.1 427.3,396.6 427.9,395.8 428.5,395.4 429,395.3 429.6,394.8 430.2,394.5 430.7,394.1 431.3,393.4 431.9,393 432.4,392.2 433,391.5 433.6,391.5 434.1,390.9 434.7,390.2 435.3,390 435.8,389.3 436.4,389 437,388.7 437.5,388 438.1,387.2 438.7,386.2 439.2,386 439.8,385.4 440.3,384.8 440.9,384.3 441.5,383.9 442,383.7 442.6,383.2 443.2,382.7 443.7,381.9 444.3,381.4 444.9,380.6 445.4,380.3 446,379.6 446.6,378.8 447.1,378.5 447.7,378 448.3,377.9 448.8,377.6 449.4,377.3 450,376.4 450.5,375.6 451.1,375.2 451.7,374.3 452.2,373.8 452.8,373.4 453.3,372.3 453.9,372 454.5,371.8 455,370.7 455.6,370.5 456.2,370.1 456.7,369.6 457.3,369.2 457.9,369 458.4,368.6 459,367.8" fill="none" stroke="#D686BE" stroke-width="1.2" stroke-linejoin="round"/><polyline points="278.7,509.4 279.3,509.4 279.8,509.4 280.4,509.4 281,509.4 281.5,509.4 282.1,509.4 282.7,509.4 283.2,509.4 283.8,509.4 284.4,509.4 284.9,509.4 285.5,509.4 286,509.4 286.6,509.4 287.2,509.4 287.7,509.4 288.3,509.4 288.9,509.4 289.4,509.4 290,509.4 290.6,509.4 291.1,509.4 291.7,509.4 292.3,509.4 292.8,509.4 293.4,509.4 294,509.4 294.5,509.4 295.1,509.4 295.7,509.4 296.2,509.4 296.8,509.4 297.4,509.4 297.9,509.4 298.5,509.4 299,509.4 299.6,509.4 300.2,509.4 300.7,509.4 301.3,509.4 301.9,509.4 302.4,509.4 303,509.4 303.6,509.4 304.1,509.4 304.7,509.4 305.3,509.4 305.8,509.4 306.4,509.4 307,509.4 307.5,509.4 308.1,509.4 308.7,509.4 309.2,509.4 309.8,509.4 310.4,509.4 310.9,509.4 311.5,509.4 312,509.4 312.6,509.4 313.2,509.4 313.7,509.4 314.3,509.4 314.9,509.4 315.4,509.4 316,509.4 316.6,509.4 317.1,509.4 317.7,509.4 318.3,509.4 318.8,509.4 319.4,509.4 320,509.4 320.5,509.4 321.1,509.4 321.7,509.4 322.2,509.4 322.8,509.4 323.4,509.4 323.9,509.4 324.5,509.4 325,509.4 325.6,509.4 326.2,509.3 326.7,509.3 327.3,509.3 327.9,509.3 328.4,509.3 329,509.3 329.6,509.3 330.1,509.3 330.7,509.3 331.3,509.3 331.8,509.3 332.4,509.3 333,509.2 333.5,509.2 334.1,509.2 334.7,509.2 335.2,509.2 335.8,509.2 336.4,509.1 336.9,509.1 337.5,509.1 338,509 338.6,509 339.2,509 339.7,508.9 340.3,508.9 340.9,508.8 341.4,508.8 342,508.7 342.6,508.7 343.1,508.6 343.7,508.5 344.3,508.4 344.8,508.3 345.4,508.2 346,508.1 346.5,508 347.1,507.9 347.7,507.8 348.2,507.6 348.8,507.5 349.4,507.3 349.9,507.1 350.5,506.9 351,506.7 351.6,506.5 352.2,506.2 352.7,506 353.3,505.7 353.9,505.4 354.4,505.1 355,504.7 355.6,504.3 356.1,503.9 356.7,503.5 357.3,503 357.8,502.4 358.4,501.9 359,501.2 359.5,500.5 360.1,499.7 360.7,498.9 361.2,497.9 361.8,496.8 362.4,495.6 362.9,494.3 363.5,492.8 364,491.2 364.6,489.3 365.2,487.3 365.7,485 366.3,482.6 366.9,479.9 367.4,477 368,473.9 368.6,470.5 369.1,467 369.7,463.4 370.3,459.6 370.8,455.7 371.4,451.8 372,447.9 372.5,444.1 373.1,440.4 373.7,436.8 374.2,433.3 374.8,430.1 375.3,427.1 375.9,424.2 376.5,421.6 377,419.2 377.6,417.1 378.2,415.2 378.7,413.5 379.3,412.1 379.9,410.6 380.4,409.4 381,408.1 381.6,406.9 382.1,405.9 382.7,404.8 383.3,403.8 383.8,403 384.4,402 385,401.4 385.5,401 386.1,400.4 386.7,399.6 387.2,399 387.8,398.4 388.3,397.9 388.9,397.7 389.5,397.2 390,396.8 390.6,396.4 391.2,395.7 391.7,395 392.3,394.3 392.9,393.5 393.4,393.4 394,393 394.6,392.7 395.1,392.6 395.7,392 396.3,392.1 396.8,391.4 397.4,390.8 398,390.5 398.5,390 399.1,389.7 399.7,389.2 400.2,388.9 400.8,388.4 401.3,388.5 401.9,388.2 402.5,387.7 403,387 403.6,385.8 404.2,385.5 404.7,385.2 405.3,384.7 405.9,384.5 406.4,383.8 407,383.5 407.6,383.2 408.1,383 408.7,382.7 409.3,382 409.8,381.6 410.4,380.5 411,380.3 411.5,380 412.1,379.3 412.7,379.4 413.2,378.9 413.8,378.1 414.3,378.1 414.9,377.3 415.5,377 416,377.1 416.6,376.5 417.2,376.5 417.7,376.4 418.3,375.7 418.9,375.5 419.4,374.9 420,374.2 420.6,373.7 421.1,373.6 421.7,373.1 422.3,372.8 422.8,372.4 423.4,372 424,371.7 424.5,370.8 425.1,370.4 425.7,369.6 426.2,369.3 426.8,369.3 427.3,369.3 427.9,369.1 428.5,368.7 429,368 429.6,367.5 430.2,367.3 430.7,366.9 431.3,366.6 431.9,365.9 432.4,365.3 433,365.2 433.6,364.1 434.1,364 434.7,363.4 435.3,362.2 435.8,362.5 436.4,362.1 437,361.9 437.5,361.7 438.1,361.7 438.7,361.3 439.2,360.7 439.8,361 440.3,360.3 440.9,360 441.5,359.9 442,358.7 442.6,358.5 443.2,357.9 443.7,357.3 444.3,357.5 444.9,356.6 445.4,356.3 446,356 446.6,355.4 447.1,355.3 447.7,354.4 448.3,353.6 448.8,352.9 449.4,352.5 450,353.3 450.5,353.2 451.1,353 451.7,352.5 452.2,351.5 452.8,351.2 453.3,350.6 453.9,350.4 454.5,349.8 455,349.4 455.6,348.8 456.2,347.8 456.7,347.5 457.3,346.5 457.9,346.7 458.4,346.7 459,346.1" fill="none" stroke="#C074C8" stroke-width="1.2" stroke-linejoin="round"/><polyline points="278.7,509.4 279.3,509.4 279.8,509.4 280.4,509.4 281,509.4 281.5,509.4 282.1,509.4 282.7,509.4 283.2,509.4 283.8,509.4 284.4,509.4 284.9,509.4 285.5,509.4 286,509.4 286.6,509.4 287.2,509.4 287.7,509.4 288.3,509.4 288.9,509.4 289.4,509.4 290,509.4 290.6,509.4 291.1,509.4 291.7,509.4 292.3,509.4 292.8,509.4 293.4,509.4 294,509.4 294.5,509.4 295.1,509.4 295.7,509.4 296.2,509.4 296.8,509.4 297.4,509.4 297.9,509.4 298.5,509.4 299,509.4 299.6,509.4 300.2,509.4 300.7,509.4 301.3,509.4 301.9,509.4 302.4,509.4 303,509.4 303.6,509.4 304.1,509.4 304.7,509.4 305.3,509.4 305.8,509.4 306.4,509.4 307,509.4 307.5,509.4 308.1,509.4 308.7,509.4 309.2,509.4 309.8,509.4 310.4,509.4 310.9,509.4 311.5,509.4 312,509.4 312.6,509.4 313.2,509.4 313.7,509.4 314.3,509.4 314.9,509.4 315.4,509.4 316,509.4 316.6,509.4 317.1,509.3 317.7,509.3 318.3,509.3 318.8,509.3 319.4,509.3 320,509.3 320.5,509.3 321.1,509.3 321.7,509.3 322.2,509.3 322.8,509.3 323.4,509.2 323.9,509.2 324.5,509.2 325,509.2 325.6,509.2 326.2,509.2 326.7,509.1 327.3,509.1 327.9,509.1 328.4,509 329,509 329.6,509 330.1,508.9 330.7,508.9 331.3,508.8 331.8,508.8 332.4,508.7 333,508.7 333.5,508.6 334.1,508.5 334.7,508.4 335.2,508.3 335.8,508.2 336.4,508.1 336.9,508 337.5,507.9 338,507.8 338.6,507.6 339.2,507.4 339.7,507.3 340.3,507.1 340.9,506.9 341.4,506.7 342,506.4 342.6,506.2 343.1,505.9 343.7,505.6 344.3,505.3 344.8,504.9 345.4,504.6 346,504.2 346.5,503.7 347.1,503.3 347.7,502.8 348.2,502.2 348.8,501.6 349.4,501 349.9,500.3 350.5,499.5 351,498.7 351.6,497.8 352.2,496.8 352.7,495.7 353.3,494.5 353.9,493.2 354.4,491.7 355,490.1 355.6,488.4 356.1,486.6 356.7,484.5 357.3,482.4 357.8,480 358.4,477.6 359,475 359.5,472.2 360.1,469.4 360.7,466.5 361.2,463.5 361.8,460.4 362.4,457.4 362.9,454.4 363.5,451.4 364,448.5 364.6,445.7 365.2,443 365.7,440.4 366.3,438 366.9,435.8 367.4,433.6 368,431.8 368.6,430 369.1,428.5 369.7,427.1 370.3,425.6 370.8,424.3 371.4,423.1 372,422 372.5,421.3 373.1,420.4 373.7,419.6 374.2,418.9 374.8,418 375.3,417.4 375.9,416.8 376.5,416.3 377,415.7 377.6,415.1 378.2,414.5 378.7,413.7 379.3,413.5 379.9,413.2 380.4,412.8 381,412.6 381.6,412.1 382.1,411.6 382.7,411.5 383.3,411.3 383.8,410.5 384.4,410.3 385,409.4 385.5,408.8 386.1,408.7 386.7,408.1 387.2,407.9 387.8,407.8 388.3,407.5 388.9,407 389.5,406.3 390,405.5 390.6,405.1 391.2,405.1 391.7,405.4 392.3,404.9 392.9,404.5 393.4,403.9 394,403 394.6,402.9 395.1,402.5 395.7,402.1 396.3,401.7 396.8,401.3 397.4,401.3 398,401.3 398.5,401 399.1,400.2 399.7,399.6 400.2,398.6 400.8,398.6 401.3,398.3 401.9,398 402.5,397.5 403,396.8 403.6,396.6 404.2,396.6 404.7,396.4 405.3,396.1 405.9,395.3 406.4,394.3 407,393.9 407.6,393.3 408.1,393.5 408.7,393.5 409.3,392.9 409.8,392.8 410.4,392.1 411,392 411.5,392 412.1,391.5 412.7,391.4 413.2,390.6 413.8,390.1 414.3,389.6 414.9,389.4 415.5,389.1 416,388.9 416.6,388.6 417.2,388.2 417.7,387.6 418.3,387.9 418.9,387.4 419.4,386.7 420,386.7 420.6,385.8 421.1,385.4 421.7,384.8 422.3,383.9 422.8,383 423.4,382.6 424,382.6 424.5,382.7 425.1,382.8 425.7,382.5 426.2,382.3 426.8,381.9 427.3,381.6 427.9,381.3 428.5,380.6 429,380.2 429.6,379.8 430.2,379.4 430.7,379.6 431.3,379.5 431.9,378.7 432.4,378.1 433,377.1 433.6,376.3 434.1,376.1 434.7,375.7 435.3,376 435.8,376.2 436.4,375.5 437,375.1 437.5,374.1 438.1,373.3 438.7,373.4 439.2,373.6 439.8,373.2 440.3,372.3 440.9,371.8 441.5,371.4 442,371 442.6,371.1 443.2,370.7 443.7,370.1 444.3,369.5 444.9,369.1 445.4,368.4 446,368.4 446.6,368 447.1,367.7 447.7,367.5 448.3,366.9 448.8,366.6 449.4,366.3 450,365.9 450.5,365.1 451.1,364.7 451.7,364.1 452.2,363.5 452.8,363.4 453.3,362.7 453.9,362.4 454.5,362.3 455,362.1 455.6,362.6 456.2,362.3 456.7,362.1 457.3,361.8 457.9,360.8 458.4,360.3 459,359.8" fill="none" stroke="#A484CC" stroke-width="1.2" stroke-linejoin="round"/><polyline points="278.7,509.4 279.3,509.4 279.8,509.4 280.4,509.4 281,509.4 281.5,509.4 282.1,509.4 282.7,509.4 283.2,509.4 283.8,509.4 284.4,509.4 284.9,509.4 285.5,509.4 286,509.4 286.6,509.4 287.2,509.4 287.7,509.4 288.3,509.4 288.9,509.4 289.4,509.4 290,509.4 290.6,509.4 291.1,509.4 291.7,509.4 292.3,509.4 292.8,509.4 293.4,509.4 294,509.4 294.5,509.4 295.1,509.4 295.7,509.4 296.2,509.4 296.8,509.4 297.4,509.4 297.9,509.4 298.5,509.4 299,509.4 299.6,509.4 300.2,509.4 300.7,509.4 301.3,509.4 301.9,509.4 302.4,509.4 303,509.4 303.6,509.4 304.1,509.4 304.7,509.4 305.3,509.4 305.8,509.3 306.4,509.3 307,509.3 307.5,509.3 308.1,509.3 308.7,509.3 309.2,509.3 309.8,509.3 310.4,509.3 310.9,509.3 311.5,509.3 312,509.2 312.6,509.2 313.2,509.2 313.7,509.2 314.3,509.2 314.9,509.2 315.4,509.1 316,509.1 316.6,509.1 317.1,509 317.7,509 318.3,509 318.8,508.9 319.4,508.9 320,508.8 320.5,508.8 321.1,508.7 321.7,508.6 322.2,508.6 322.8,508.5 323.4,508.4 323.9,508.3 324.5,508.2 325,508.1 325.6,507.9 326.2,507.8 326.7,507.6 327.3,507.5 327.9,507.3 328.4,507.1 329,506.9 329.6,506.7 330.1,506.4 330.7,506.2 331.3,505.9 331.8,505.6 332.4,505.3 333,504.9 333.5,504.5 334.1,504.1 334.7,503.7 335.2,503.2 335.8,502.7 336.4,502.2 336.9,501.6 337.5,501 338,500.3 338.6,499.5 339.2,498.8 339.7,497.9 340.3,497 340.9,496 341.4,495 342,493.8 342.6,492.6 343.1,491.3 343.7,489.9 344.3,488.4 344.8,486.8 345.4,485.1 346,483.3 346.5,481.4 347.1,479.4 347.7,477.3 348.2,475.1 348.8,472.9 349.4,470.6 349.9,468.2 350.5,465.9 351,463.5 351.6,461.1 352.2,458.8 352.7,456.5 353.3,454.2 353.9,452 354.4,449.9 355,447.8 355.6,445.9 356.1,444.1 356.7,442.2 357.3,440.5 357.8,438.9 358.4,437.5 359,436.5 359.5,435.5 360.1,434.5 360.7,433.6 361.2,432.7 361.8,431.7 362.4,430.9 362.9,430 363.5,429.3 364,428.6 364.6,428.1 365.2,427.7 365.7,427.5 366.3,426.8 366.9,426.1 367.4,425.6 368,425 368.6,424.6 369.1,423.9 369.7,423 370.3,422.5 370.8,422.7 371.4,422.7 372,422.5 372.5,422.3 373.1,421.4 373.7,421.1 374.2,420.9 374.8,420.1 375.3,419.7 375.9,419.5 376.5,419.3 377,419.5 377.6,419 378.2,418.7 378.7,418.3 379.3,417.7 379.9,417.8 380.4,417.2 381,416.8 381.6,416.6 382.1,416 382.7,415.9 383.3,415.7 383.8,415.3 384.4,414.7 385,414.7 385.5,414 386.1,413.6 386.7,413.1 387.2,411.7 387.8,411.1 388.3,410.7 388.9,410.6 389.5,410.7 390,410.7 390.6,410.5 391.2,410.2 391.7,409.8 392.3,409.3 392.9,408.6 393.4,407.8 394,407.7 394.6,407 395.1,406.7 395.7,406.5 396.3,405.3 396.8,405.4 397.4,404.9 398,404.6 398.5,404.6 399.1,403.7 399.7,403.4 400.2,403 400.8,402.9 401.3,403 401.9,402.1 402.5,402 403,401.5 403.6,401.2 404.2,401.3 404.7,400.5 405.3,400.1 405.9,399.4 406.4,399.6 407,399.3 407.6,398.5 408.1,398.1 408.7,397.4 409.3,396.9 409.8,396.3 410.4,396.3 411,395.6 411.5,395.3 412.1,395.6 412.7,394.6 413.2,393.9 413.8,393.9 414.3,393.2 414.9,393.1 415.5,393 416,392.6 416.6,392.3 417.2,391.4 417.7,391.1 418.3,390.4 418.9,390.2 419.4,390.3 420,390.1 420.6,389.7 421.1,388.7 421.7,388.2 422.3,387.6 422.8,387.2 423.4,387.2 424,387.2 424.5,386.6 425.1,386.6 425.7,386.3 426.2,385.3 426.8,384.7 427.3,384 427.9,383.6 428.5,383.4 429,382.9 429.6,382.3 430.2,381.8 430.7,381.3 431.3,381.1 431.9,381.4 432.4,381.2 433,380.8 433.6,380.5 434.1,380.1 434.7,379.8 435.3,379.6 435.8,378.9 436.4,377.7 437,377.1 437.5,376.7 438.1,376.3 438.7,376 439.2,375.6 439.8,374.8 440.3,374.4 440.9,374.3 441.5,374 442,374.2 442.6,374.4 443.2,374.4 443.7,374.1 444.3,373.5 444.9,373.4 445.4,373 446,372.7 446.6,372.1 447.1,371.4 447.7,370.1 448.3,369.4 448.8,368.7 449.4,368.1 450,368.4 450.5,368.1 451.1,368.6 451.7,368.3 452.2,367.7 452.8,367.3 453.3,366.6 453.9,366.2 454.5,366.1 455,366.1 455.6,365.7 456.2,365.1 456.7,364.5 457.3,364.1 457.9,363.8 458.4,363.7 459,363.2" fill="none" stroke="#8A88D2" stroke-width="1.2" stroke-linejoin="round"/><polyline points="278.7,509.4 279.3,509.4 279.8,509.4 280.4,509.4 281,509.4 281.5,509.4 282.1,509.4 282.7,509.4 283.2,509.4 283.8,509.4 284.4,509.4 284.9,509.4 285.5,509.4 286,509.4 286.6,509.4 287.2,509.4 287.7,509.3 288.3,509.3 288.9,509.3 289.4,509.3 290,509.3 290.6,509.3 291.1,509.3 291.7,509.3 292.3,509.3 292.8,509.3 293.4,509.3 294,509.3 294.5,509.3 295.1,509.2 295.7,509.2 296.2,509.2 296.8,509.2 297.4,509.2 297.9,509.2 298.5,509.1 299,509.1 299.6,509.1 300.2,509.1 300.7,509 301.3,509 301.9,509 302.4,508.9 303,508.9 303.6,508.9 304.1,508.8 304.7,508.8 305.3,508.7 305.8,508.7 306.4,508.6 307,508.5 307.5,508.5 308.1,508.4 308.7,508.3 309.2,508.2 309.8,508.1 310.4,508 310.9,507.9 311.5,507.7 312,507.6 312.6,507.4 313.2,507.3 313.7,507.1 314.3,506.9 314.9,506.7 315.4,506.5 316,506.3 316.6,506 317.1,505.8 317.7,505.5 318.3,505.2 318.8,504.9 319.4,504.5 320,504.2 320.5,503.8 321.1,503.3 321.7,502.9 322.2,502.4 322.8,501.9 323.4,501.4 323.9,500.8 324.5,500.2 325,499.5 325.6,498.8 326.2,498.1 326.7,497.3 327.3,496.4 327.9,495.6 328.4,494.6 329,493.6 329.6,492.6 330.1,491.5 330.7,490.3 331.3,489 331.8,487.7 332.4,486.4 333,484.9 333.5,483.4 334.1,481.9 334.7,480.3 335.2,478.6 335.8,476.9 336.4,475.1 336.9,473.3 337.5,471.4 338,469.5 338.6,467.7 339.2,465.8 339.7,463.9 340.3,462 340.9,460.1 341.4,458.2 342,456.4 342.6,454.6 343.1,453 343.7,451.4 344.3,449.8 344.8,448.1 345.4,446.6 346,445.2 346.5,443.8 347.1,442.6 347.7,441.4 348.2,440.2 348.8,439.3 349.4,438.3 349.9,437.4 350.5,436.4 351,435.4 351.6,434.6 352.2,433.8 352.7,433.2 353.3,432.7 353.9,432.2 354.4,431.9 355,431.5 355.6,430.9 356.1,430.5 356.7,429.9 357.3,429.4 357.8,428.8 358.4,428.2 359,427.7 359.5,427.6 360.1,427.5 360.7,427.3 361.2,427 361.8,426.4 362.4,426 362.9,426 363.5,425.8 364,425.9 364.6,425.4 365.2,424.8 365.7,424 366.3,423.5 366.9,423.2 367.4,422.5 368,422.3 368.6,421.8 369.1,421 369.7,420.7 370.3,420.7 370.8,420.3 371.4,420.4 372,420 372.5,419.8 373.1,419.7 373.7,419.5 374.2,419.3 374.8,418.7 375.3,418.4 375.9,417.8 376.5,417.6 377,417 377.6,416.5 378.2,416.2 378.7,415.8 379.3,415.3 379.9,414.4 380.4,414.3 381,414.4 381.6,414.5 382.1,414.9 382.7,414.2 383.3,413.5 383.8,413 384.4,412.3 385,412.4 385.5,411.8 386.1,411.2 386.7,410.8 387.2,409.9 387.8,410.1 388.3,409.4 388.9,409.4 389.5,409.4 390,408.9 390.6,409.3 391.2,409.2 391.7,408.7 392.3,408.4 392.9,407.9 393.4,407.1 394,406.6 394.6,405.9 395.1,405.6 395.7,405 396.3,405 396.8,405 397.4,404.4 398,404.2 398.5,403.7 399.1,403.1 399.7,403.1 400.2,402.7 400.8,402.4 401.3,401.6 401.9,401.1 402.5,400.4 403,399.9 403.6,400.4 404.2,400.3 404.7,400.2 405.3,399.6 405.9,399 406.4,398.2 407,398 407.6,397.6 408.1,397.4 408.7,397.5 409.3,396.7 409.8,396.5 410.4,395.7 411,395.2 411.5,394.7 412.1,394.6 412.7,394.3 413.2,393.6 413.8,393.9 414.3,393 414.9,392.4 415.5,392.1 416,391.7 416.6,391.7 417.2,391.5 417.7,391.4 418.3,390.8 418.9,390.4 419.4,390.1 420,389.7 420.6,390.1 421.1,389.7 421.7,389.4 422.3,389 422.8,387.9 423.4,388.2 424,387.9 424.5,387.8 425.1,387.4 425.7,386.5 426.2,386 426.8,385.4 427.3,385.1 427.9,385.1 428.5,384.4 429,383.9 429.6,383.9 430.2,383.3 430.7,383.4 431.3,383 431.9,382.6 432.4,382.1 433,381.9 433.6,382 434.1,381.6 434.7,381.7 435.3,381.1 435.8,380.4 436.4,380.3 437,379.7 437.5,379.6 438.1,379.4 438.7,378.9 439.2,378.3 439.8,377.4 440.3,376.7 440.9,376.2 441.5,375.6 442,375.2 442.6,374.8 443.2,374.3 443.7,374.5 444.3,374.4 444.9,374.5 445.4,374.2 446,374 446.6,374 447.1,373.4 447.7,373 448.3,372.3 448.8,371.9 449.4,371.7 450,371.3 450.5,371.1 451.1,370.7 451.7,370.5 452.2,370.1 452.8,369.6 453.3,369.4 453.9,369.1 454.5,369 455,368.8 455.6,368.2 456.2,367.7 456.7,367.1 457.3,366.2 457.9,365.6 458.4,365.6 459,365.2" fill="none" stroke="#6E6ECC" stroke-width="1.2" stroke-linejoin="round"/><polyline points="278.7,509.4 279.3,509.4 279.8,509.4 280.4,509.4 281,509.4 281.5,509.4 282.1,509.4 282.7,509.4 283.2,509.4 283.8,509.4 284.4,509.4 284.9,509.4 285.5,509.4 286,509.4 286.6,509.4 287.2,509.4 287.7,509.4 288.3,509.4 288.9,509.4 289.4,509.4 290,509.4 290.6,509.4 291.1,509.4 291.7,509.4 292.3,509.4 292.8,509.4 293.4,509.4 294,509.4 294.5,509.4 295.1,509.4 295.7,509.4 296.2,509.4 296.8,509.4 297.4,509.4 297.9,509.4 298.5,509.4 299,509.4 299.6,509.4 300.2,509.4 300.7,509.4 301.3,509.4 301.9,509.4 302.4,509.4 303,509.4 303.6,509.4 304.1,509.4 304.7,509.4 305.3,509.4 305.8,509.4 306.4,509.4 307,509.4 307.5,509.4 308.1,509.4 308.7,509.4 309.2,509.4 309.8,509.4 310.4,509.4 310.9,509.4 311.5,509.4 312,509.4 312.6,509.4 313.2,509.4 313.7,509.4 314.3,509.4 314.9,509.4 315.4,509.4 316,509.4 316.6,509.4 317.1,509.4 317.7,509.4 318.3,509.4 318.8,509.4 319.4,509.4 320,509.4 320.5,509.4 321.1,509.4 321.7,509.4 322.2,509.4 322.8,509.4 323.4,509.4 323.9,509.4 324.5,509.4 325,509.4 325.6,509.4 326.2,509.4 326.7,509.4 327.3,509.4 327.9,509.4 328.4,509.4 329,509.4 329.6,509.4 330.1,509.4 330.7,509.4 331.3,509.4 331.8,509.4 332.4,509.4 333,509.4 333.5,509.4 334.1,509.4 334.7,509.4 335.2,509.4 335.8,509.4 336.4,509.4 336.9,509.4 337.5,509.4 338,509.4 338.6,509.4 339.2,509.4 339.7,509.3 340.3,509.3 340.9,509.3 341.4,509.3 342,509.3 342.6,509.3 343.1,509.3 343.7,509.3 344.3,509.3 344.8,509.3 345.4,509.3 346,509.3 346.5,509.3 347.1,509.3 347.7,509.3 348.2,509.3 348.8,509.3 349.4,509.2 349.9,509.2 350.5,509.2 351,509.2 351.6,509.2 352.2,509.2 352.7,509.2 353.3,509.2 353.9,509.2 354.4,509.1 355,509.1 355.6,509.1 356.1,509.1 356.7,509.1 357.3,509 357.8,509 358.4,509 359,509 359.5,508.9 360.1,508.9 360.7,508.9 361.2,508.9 361.8,508.8 362.4,508.8 362.9,508.7 363.5,508.7 364,508.7 364.6,508.6 365.2,508.6 365.7,508.5 366.3,508.5 366.9,508.4 367.4,508.3 368,508.3 368.6,508.2 369.1,508.1 369.7,508.1 370.3,508 370.8,507.9 371.4,507.8 372,507.7 372.5,507.7 373.1,507.6 373.7,507.5 374.2,507.3 374.8,507.2 375.3,507.1 375.9,507 376.5,506.9 377,506.7 377.6,506.6 378.2,506.5 378.7,506.3 379.3,506.2 379.9,506 380.4,505.9 381,505.7 381.6,505.5 382.1,505.3 382.7,505.2 383.3,505 383.8,504.8 384.4,504.6 385,504.4 385.5,504.2 386.1,504 386.7,503.8 387.2,503.6 387.8,503.4 388.3,503.1 388.9,502.9 389.5,502.7 390,502.5 390.6,502.2 391.2,502 391.7,501.7 392.3,501.5 392.9,501.2 393.4,501 394,500.7 394.6,500.4 395.1,500.1 395.7,499.8 396.3,499.4 396.8,499.1 397.4,498.7 398,498.2 398.5,497.8 399.1,497.2 399.7,496.6 400.2,496 400.8,495.3 401.3,494.5 401.9,493.5 402.5,492.5 403,491.3 403.6,490 404.2,488.5 404.7,486.8 405.3,484.9 405.9,482.8 406.4,480.4 407,477.9 407.6,475 408.1,472 408.7,468.7 409.3,465.2 409.8,461.6 410.4,457.8 411,454 411.5,450.1 412.1,446.2 412.7,442.4 413.2,438.7 413.8,435.1 414.3,431.7 414.9,428.5 415.5,425.4 416,422.7 416.6,420.3 417.2,418 417.7,415.9 418.3,413.8 418.9,412 419.4,410.4 420,408.8 420.6,407.2 421.1,406 421.7,404.6 422.3,403.3 422.8,402.4 423.4,401.1 424,400.1 424.5,399.1 425.1,398.2 425.7,397 426.2,395.9 426.8,394.9 427.3,393.7 427.9,392.9 428.5,391.8 429,391 429.6,389.7 430.2,388.9 430.7,388 431.3,386.9 431.9,385.7 432.4,384.6 433,383.7 433.6,382.6 434.1,382.2 434.7,381.5 435.3,380.6 435.8,379.7 436.4,378.8 437,377.6 437.5,376.5 438.1,375.2 438.7,373.8 439.2,373.1 439.8,372.2 440.3,371.2 440.9,370.5 441.5,369.3 442,368.1 442.6,367.7 443.2,366.7 443.7,365.8 444.3,365.3 444.9,364.2 445.4,363.5 446,362.5 446.6,361.3 447.1,360.8 447.7,359.7 448.3,358.7 448.8,357.8 449.4,356.7 450,355.3 450.5,354.6 451.1,353.7 451.7,352.4 452.2,351.6 452.8,350.7 453.3,349.5 453.9,349.3 454.5,348.4 455,347.3 455.6,346.1 456.2,344.6 456.7,343.8 457.3,342.9 457.9,342.6 458.4,341.6 459,340.8" fill="none" stroke="#E06896" stroke-width="1.2" stroke-linejoin="round"/></g>
<text x="279.9" y="374.46" font-size="7.4" text-anchor="start" fill="#111" font-weight="bold" >Pressure (GPa)</text>
<line x1="281.2" y1="381.5" x2="297.7" y2="381.5" stroke="#F26676" stroke-width="1.3" />
<text x="300.2" y="384.16" font-size="7.4" text-anchor="start" fill="#111" font-weight="bold" >0.0</text>
<line x1="281.2" y1="391.4" x2="297.7" y2="391.4" stroke="#EE5C78" stroke-width="1.3" />
<text x="300.2" y="394.06" font-size="7.4" text-anchor="start" fill="#111" font-weight="bold" >0.6</text>
<line x1="281.2" y1="401" x2="297.7" y2="401" stroke="#E276A0" stroke-width="1.3" />
<text x="300.2" y="403.66" font-size="7.4" text-anchor="start" fill="#111" font-weight="bold" >1.2</text>
<line x1="281.2" y1="410.7" x2="297.7" y2="410.7" stroke="#D686BE" stroke-width="1.3" />
<text x="300.2" y="413.36" font-size="7.4" text-anchor="start" fill="#111" font-weight="bold" >2.6</text>
<line x1="281.2" y1="420.4" x2="297.7" y2="420.4" stroke="#C074C8" stroke-width="1.3" />
<text x="300.2" y="423.06" font-size="7.4" text-anchor="start" fill="#111" font-weight="bold" >4.2</text>
<line x1="281.2" y1="430.2" x2="297.7" y2="430.2" stroke="#A484CC" stroke-width="1.3" />
<text x="300.2" y="432.86" font-size="7.4" text-anchor="start" fill="#111" font-weight="bold" >5.5</text>
<line x1="281.2" y1="440.1" x2="297.7" y2="440.1" stroke="#8A88D2" stroke-width="1.3" />
<text x="300.2" y="442.76" font-size="7.4" text-anchor="start" fill="#111" font-weight="bold" >7.0</text>
<line x1="281.2" y1="449.8" x2="297.7" y2="449.8" stroke="#6E6ECC" stroke-width="1.3" />
<text x="300.2" y="452.46" font-size="7.4" text-anchor="start" fill="#111" font-weight="bold" >8.5</text>
<line x1="281.2" y1="459.5" x2="297.7" y2="459.5" stroke="#E06896" stroke-width="1.3" />
<text x="300.2" y="462.16" font-size="7.4" text-anchor="start" fill="#111" font-weight="bold" >R 0.0</text>
<text x="358.2" y="374.66" font-size="7.4" text-anchor="start" fill="#111" font-weight="bold" >TP-BT-0F-COF</text>
<rect x="278.2" y="365" width="178.8" height="145.2" fill="none" stroke="#333" stroke-width="1.1"/>
<line x1="278.2" y1="510.2" x2="278.2" y2="511.5" stroke="#333" stroke-width="0.9" />
<line x1="287.14" y1="510.2" x2="287.14" y2="511.5" stroke="#333" stroke-width="0.9" />
<line x1="296.08" y1="510.2" x2="296.08" y2="511.5" stroke="#333" stroke-width="0.9" />
<line x1="305.02" y1="510.2" x2="305.02" y2="511.5" stroke="#333" stroke-width="0.9" />
<line x1="313.96" y1="510.2" x2="313.96" y2="511.5" stroke="#333" stroke-width="0.9" />
<line x1="322.9" y1="510.2" x2="322.9" y2="511.5" stroke="#333" stroke-width="0.9" />
<line x1="331.84" y1="510.2" x2="331.84" y2="511.5" stroke="#333" stroke-width="0.9" />
<line x1="340.78" y1="510.2" x2="340.78" y2="511.5" stroke="#333" stroke-width="0.9" />
<line x1="349.72" y1="510.2" x2="349.72" y2="511.5" stroke="#333" stroke-width="0.9" />
<line x1="358.66" y1="510.2" x2="358.66" y2="511.5" stroke="#333" stroke-width="0.9" />
<line x1="367.6" y1="510.2" x2="367.6" y2="511.5" stroke="#333" stroke-width="0.9" />
<line x1="376.54" y1="510.2" x2="376.54" y2="511.5" stroke="#333" stroke-width="0.9" />
<line x1="385.48" y1="510.2" x2="385.48" y2="511.5" stroke="#333" stroke-width="0.9" />
<line x1="394.42" y1="510.2" x2="394.42" y2="511.5" stroke="#333" stroke-width="0.9" />
<line x1="403.36" y1="510.2" x2="403.36" y2="511.5" stroke="#333" stroke-width="0.9" />
<line x1="412.3" y1="510.2" x2="412.3" y2="511.5" stroke="#333" stroke-width="0.9" />
<line x1="421.24" y1="510.2" x2="421.24" y2="511.5" stroke="#333" stroke-width="0.9" />
<line x1="430.18" y1="510.2" x2="430.18" y2="511.5" stroke="#333" stroke-width="0.9" />
<line x1="439.12" y1="510.2" x2="439.12" y2="511.5" stroke="#333" stroke-width="0.9" />
<line x1="448.06" y1="510.2" x2="448.06" y2="511.5" stroke="#333" stroke-width="0.9" />
<line x1="457" y1="510.2" x2="457" y2="511.5" stroke="#333" stroke-width="0.9" />
<line x1="278.2" y1="510.2" x2="278.2" y2="512.4" stroke="#333" stroke-width="0.9" />
<text x="278.2" y="521.15" font-size="8.2" text-anchor="middle" fill="#222" font-weight="bold" >1.4</text>
<line x1="296.08" y1="510.2" x2="296.08" y2="512.4" stroke="#333" stroke-width="0.9" />
<text x="296.08" y="521.15" font-size="8.2" text-anchor="middle" fill="#222" font-weight="bold" >1.5</text>
<line x1="313.96" y1="510.2" x2="313.96" y2="512.4" stroke="#333" stroke-width="0.9" />
<text x="313.96" y="521.15" font-size="8.2" text-anchor="middle" fill="#222" font-weight="bold" >1.6</text>
<line x1="331.84" y1="510.2" x2="331.84" y2="512.4" stroke="#333" stroke-width="0.9" />
<text x="331.84" y="521.15" font-size="8.2" text-anchor="middle" fill="#222" font-weight="bold" >1.7</text>
<line x1="349.72" y1="510.2" x2="349.72" y2="512.4" stroke="#333" stroke-width="0.9" />
<text x="349.72" y="521.15" font-size="8.2" text-anchor="middle" fill="#222" font-weight="bold" >1.8</text>
<line x1="367.6" y1="510.2" x2="367.6" y2="512.4" stroke="#333" stroke-width="0.9" />
<text x="367.6" y="521.15" font-size="8.2" text-anchor="middle" fill="#222" font-weight="bold" >1.9</text>
<line x1="385.48" y1="510.2" x2="385.48" y2="512.4" stroke="#333" stroke-width="0.9" />
<text x="385.48" y="521.15" font-size="8.2" text-anchor="middle" fill="#222" font-weight="bold" >2.0</text>
<line x1="403.36" y1="510.2" x2="403.36" y2="512.4" stroke="#333" stroke-width="0.9" />
<text x="403.36" y="521.15" font-size="8.2" text-anchor="middle" fill="#222" font-weight="bold" >2.1</text>
<line x1="421.24" y1="510.2" x2="421.24" y2="512.4" stroke="#333" stroke-width="0.9" />
<text x="421.24" y="521.15" font-size="8.2" text-anchor="middle" fill="#222" font-weight="bold" >2.2</text>
<line x1="439.12" y1="510.2" x2="439.12" y2="512.4" stroke="#333" stroke-width="0.9" />
<text x="439.12" y="521.15" font-size="8.2" text-anchor="middle" fill="#222" font-weight="bold" >2.3</text>
<line x1="457" y1="510.2" x2="457" y2="512.4" stroke="#333" stroke-width="0.9" />
<text x="457" y="521.15" font-size="8.2" text-anchor="middle" fill="#222" font-weight="bold" >2.4</text>
<text x="238.4" y="374" font-size="11.5" text-anchor="start" fill="#111" font-weight="bold" >(G)</text>
<text x="367.6" y="535.8" font-size="8.9" text-anchor="middle" fill="#111" font-weight="bold" >hv (eV)</text>
<text transform="translate(269.1,437.1) rotate(-90)" x="0" y="3.2" font-size="8.9" text-anchor="middle" fill="#111" font-weight="bold" >(Ahv)<tspan font-size="5.6" dy="-3.3">2</tspan></text>
<line x1="516.68" y1="410.33" x2="655.93" y2="476.29" stroke="#111" stroke-width="1.25" stroke-dasharray="1.3,1.5"/>
<rect x="514.78" y="405.24" width="3.8" height="3.8" fill="#E8302A"/>
<rect x="524.61" y="415.41" width="3.8" height="3.8" fill="#E8302A"/>
<rect x="534.44" y="419.77" width="3.8" height="3.8" fill="#E8302A"/>
<rect x="557.37" y="427.03" width="3.8" height="3.8" fill="#E8302A"/>
<rect x="583.59" y="444.47" width="3.8" height="3.8" fill="#E8302A"/>
<rect x="604.88" y="453.19" width="3.8" height="3.8" fill="#E8302A"/>
<rect x="629.45" y="461.9" width="3.8" height="3.8" fill="#E8302A"/>
<rect x="654.03" y="473.53" width="3.8" height="3.8" fill="#E8302A"/>
<text x="505.4" y="376.06" font-size="7.4" text-anchor="start" fill="#111" font-weight="bold" >TP-BT-0F-COF</text>
<text transform="translate(542.5,441.5) rotate(23.5)" x="0" y="0" font-size="7.6" font-weight="bold" font-style="italic" fill="#111">K = -0.0534 eV GPa<tspan font-size="4.8" dy="-2.8">-1</tspan></text>
<rect x="500.3" y="365" width="180.2" height="145.3" fill="none" stroke="#333" stroke-width="1.1"/>
<line x1="500.3" y1="510.3" x2="500.3" y2="511.6" stroke="#333" stroke-width="0.9" />
<line x1="508.49" y1="510.3" x2="508.49" y2="511.6" stroke="#333" stroke-width="0.9" />
<line x1="516.68" y1="510.3" x2="516.68" y2="511.6" stroke="#333" stroke-width="0.9" />
<line x1="524.87" y1="510.3" x2="524.87" y2="511.6" stroke="#333" stroke-width="0.9" />
<line x1="533.06" y1="510.3" x2="533.06" y2="511.6" stroke="#333" stroke-width="0.9" />
<line x1="541.25" y1="510.3" x2="541.25" y2="511.6" stroke="#333" stroke-width="0.9" />
<line x1="549.45" y1="510.3" x2="549.45" y2="511.6" stroke="#333" stroke-width="0.9" />
<line x1="557.64" y1="510.3" x2="557.64" y2="511.6" stroke="#333" stroke-width="0.9" />
<line x1="565.83" y1="510.3" x2="565.83" y2="511.6" stroke="#333" stroke-width="0.9" />
<line x1="574.02" y1="510.3" x2="574.02" y2="511.6" stroke="#333" stroke-width="0.9" />
<line x1="582.21" y1="510.3" x2="582.21" y2="511.6" stroke="#333" stroke-width="0.9" />
<line x1="590.4" y1="510.3" x2="590.4" y2="511.6" stroke="#333" stroke-width="0.9" />
<line x1="598.59" y1="510.3" x2="598.59" y2="511.6" stroke="#333" stroke-width="0.9" />
<line x1="606.78" y1="510.3" x2="606.78" y2="511.6" stroke="#333" stroke-width="0.9" />
<line x1="614.97" y1="510.3" x2="614.97" y2="511.6" stroke="#333" stroke-width="0.9" />
<line x1="623.16" y1="510.3" x2="623.16" y2="511.6" stroke="#333" stroke-width="0.9" />
<line x1="631.35" y1="510.3" x2="631.35" y2="511.6" stroke="#333" stroke-width="0.9" />
<line x1="639.55" y1="510.3" x2="639.55" y2="511.6" stroke="#333" stroke-width="0.9" />
<line x1="647.74" y1="510.3" x2="647.74" y2="511.6" stroke="#333" stroke-width="0.9" />
<line x1="655.93" y1="510.3" x2="655.93" y2="511.6" stroke="#333" stroke-width="0.9" />
<line x1="664.12" y1="510.3" x2="664.12" y2="511.6" stroke="#333" stroke-width="0.9" />
<line x1="672.31" y1="510.3" x2="672.31" y2="511.6" stroke="#333" stroke-width="0.9" />
<line x1="680.5" y1="510.3" x2="680.5" y2="511.6" stroke="#333" stroke-width="0.9" />
<line x1="500.3" y1="510.3" x2="500.3" y2="512.5" stroke="#333" stroke-width="0.9" />
<text x="500.3" y="521.15" font-size="8.2" text-anchor="middle" fill="#222" font-weight="bold" >-1</text>
<line x1="516.68" y1="510.3" x2="516.68" y2="512.5" stroke="#333" stroke-width="0.9" />
<text x="516.68" y="521.15" font-size="8.2" text-anchor="middle" fill="#222" font-weight="bold" >0</text>
<line x1="533.06" y1="510.3" x2="533.06" y2="512.5" stroke="#333" stroke-width="0.9" />
<text x="533.06" y="521.15" font-size="8.2" text-anchor="middle" fill="#222" font-weight="bold" >1</text>
<line x1="549.45" y1="510.3" x2="549.45" y2="512.5" stroke="#333" stroke-width="0.9" />
<text x="549.45" y="521.15" font-size="8.2" text-anchor="middle" fill="#222" font-weight="bold" >2</text>
<line x1="565.83" y1="510.3" x2="565.83" y2="512.5" stroke="#333" stroke-width="0.9" />
<text x="565.83" y="521.15" font-size="8.2" text-anchor="middle" fill="#222" font-weight="bold" >3</text>
<line x1="582.21" y1="510.3" x2="582.21" y2="512.5" stroke="#333" stroke-width="0.9" />
<text x="582.21" y="521.15" font-size="8.2" text-anchor="middle" fill="#222" font-weight="bold" >4</text>
<line x1="598.59" y1="510.3" x2="598.59" y2="512.5" stroke="#333" stroke-width="0.9" />
<text x="598.59" y="521.15" font-size="8.2" text-anchor="middle" fill="#222" font-weight="bold" >5</text>
<line x1="614.97" y1="510.3" x2="614.97" y2="512.5" stroke="#333" stroke-width="0.9" />
<text x="614.97" y="521.15" font-size="8.2" text-anchor="middle" fill="#222" font-weight="bold" >6</text>
<line x1="631.35" y1="510.3" x2="631.35" y2="512.5" stroke="#333" stroke-width="0.9" />
<text x="631.35" y="521.15" font-size="8.2" text-anchor="middle" fill="#222" font-weight="bold" >7</text>
<line x1="647.74" y1="510.3" x2="647.74" y2="512.5" stroke="#333" stroke-width="0.9" />
<text x="647.74" y="521.15" font-size="8.2" text-anchor="middle" fill="#222" font-weight="bold" >8</text>
<line x1="664.12" y1="510.3" x2="664.12" y2="512.5" stroke="#333" stroke-width="0.9" />
<text x="664.12" y="521.15" font-size="8.2" text-anchor="middle" fill="#222" font-weight="bold" >9</text>
<line x1="680.5" y1="510.3" x2="680.5" y2="512.5" stroke="#333" stroke-width="0.9" />
<text x="680.5" y="521.15" font-size="8.2" text-anchor="middle" fill="#222" font-weight="bold" >10</text>
<line x1="500.3" y1="510.3" x2="499" y2="510.3" stroke="#333" stroke-width="0.9" />
<line x1="500.3" y1="503.04" x2="499" y2="503.04" stroke="#333" stroke-width="0.9" />
<line x1="500.3" y1="495.77" x2="499" y2="495.77" stroke="#333" stroke-width="0.9" />
<line x1="500.3" y1="488.5" x2="499" y2="488.5" stroke="#333" stroke-width="0.9" />
<line x1="500.3" y1="481.24" x2="499" y2="481.24" stroke="#333" stroke-width="0.9" />
<line x1="500.3" y1="473.98" x2="499" y2="473.98" stroke="#333" stroke-width="0.9" />
<line x1="500.3" y1="466.71" x2="499" y2="466.71" stroke="#333" stroke-width="0.9" />
<line x1="500.3" y1="459.44" x2="499" y2="459.44" stroke="#333" stroke-width="0.9" />
<line x1="500.3" y1="452.18" x2="499" y2="452.18" stroke="#333" stroke-width="0.9" />
<line x1="500.3" y1="444.91" x2="499" y2="444.91" stroke="#333" stroke-width="0.9" />
<line x1="500.3" y1="437.65" x2="499" y2="437.65" stroke="#333" stroke-width="0.9" />
<line x1="500.3" y1="430.38" x2="499" y2="430.38" stroke="#333" stroke-width="0.9" />
<line x1="500.3" y1="423.12" x2="499" y2="423.12" stroke="#333" stroke-width="0.9" />
<line x1="500.3" y1="415.86" x2="499" y2="415.86" stroke="#333" stroke-width="0.9" />
<line x1="500.3" y1="408.59" x2="499" y2="408.59" stroke="#333" stroke-width="0.9" />
<line x1="500.3" y1="401.32" x2="499" y2="401.32" stroke="#333" stroke-width="0.9" />
<line x1="500.3" y1="394.06" x2="499" y2="394.06" stroke="#333" stroke-width="0.9" />
<line x1="500.3" y1="386.79" x2="499" y2="386.79" stroke="#333" stroke-width="0.9" />
<line x1="500.3" y1="379.53" x2="499" y2="379.53" stroke="#333" stroke-width="0.9" />
<line x1="500.3" y1="372.26" x2="499" y2="372.26" stroke="#333" stroke-width="0.9" />
<line x1="500.3" y1="365" x2="499" y2="365" stroke="#333" stroke-width="0.9" />
<line x1="500.3" y1="510.3" x2="498.1" y2="510.3" stroke="#333" stroke-width="0.9" />
<text x="496" y="513.25" font-size="8.2" text-anchor="end" fill="#222" font-weight="bold" >1.4</text>
<line x1="500.3" y1="495.77" x2="498.1" y2="495.77" stroke="#333" stroke-width="0.9" />
<text x="496" y="498.72" font-size="8.2" text-anchor="end" fill="#222" font-weight="bold" >1.5</text>
<line x1="500.3" y1="481.24" x2="498.1" y2="481.24" stroke="#333" stroke-width="0.9" />
<text x="496" y="484.19" font-size="8.2" text-anchor="end" fill="#222" font-weight="bold" >1.6</text>
<line x1="500.3" y1="466.71" x2="498.1" y2="466.71" stroke="#333" stroke-width="0.9" />
<text x="496" y="469.66" font-size="8.2" text-anchor="end" fill="#222" font-weight="bold" >1.7</text>
<line x1="500.3" y1="452.18" x2="498.1" y2="452.18" stroke="#333" stroke-width="0.9" />
<text x="496" y="455.13" font-size="8.2" text-anchor="end" fill="#222" font-weight="bold" >1.8</text>
<line x1="500.3" y1="437.65" x2="498.1" y2="437.65" stroke="#333" stroke-width="0.9" />
<text x="496" y="440.6" font-size="8.2" text-anchor="end" fill="#222" font-weight="bold" >1.9</text>
<line x1="500.3" y1="423.12" x2="498.1" y2="423.12" stroke="#333" stroke-width="0.9" />
<text x="496" y="426.07" font-size="8.2" text-anchor="end" fill="#222" font-weight="bold" >2.0</text>
<line x1="500.3" y1="408.59" x2="498.1" y2="408.59" stroke="#333" stroke-width="0.9" />
<text x="496" y="411.54" font-size="8.2" text-anchor="end" fill="#222" font-weight="bold" >2.1</text>
<line x1="500.3" y1="394.06" x2="498.1" y2="394.06" stroke="#333" stroke-width="0.9" />
<text x="496" y="397.01" font-size="8.2" text-anchor="end" fill="#222" font-weight="bold" >2.2</text>
<line x1="500.3" y1="379.53" x2="498.1" y2="379.53" stroke="#333" stroke-width="0.9" />
<text x="496" y="382.48" font-size="8.2" text-anchor="end" fill="#222" font-weight="bold" >2.3</text>
<line x1="500.3" y1="365" x2="498.1" y2="365" stroke="#333" stroke-width="0.9" />
<text x="496" y="367.95" font-size="8.2" text-anchor="end" fill="#222" font-weight="bold" >2.4</text>
<text x="467.4" y="374.1" font-size="11.5" text-anchor="start" fill="#111" font-weight="bold" >(H)</text>
<text x="590.5" y="536.1" font-size="8.9" text-anchor="middle" fill="#111" font-weight="bold" >Applied pressure (GPa)</text>
<text transform="translate(478,437.5) rotate(-90)" x="0" y="3.2" font-size="8.9" text-anchor="middle" fill="#111" font-weight="bold" >hv (eV)</text>
</svg>
</body></html>
